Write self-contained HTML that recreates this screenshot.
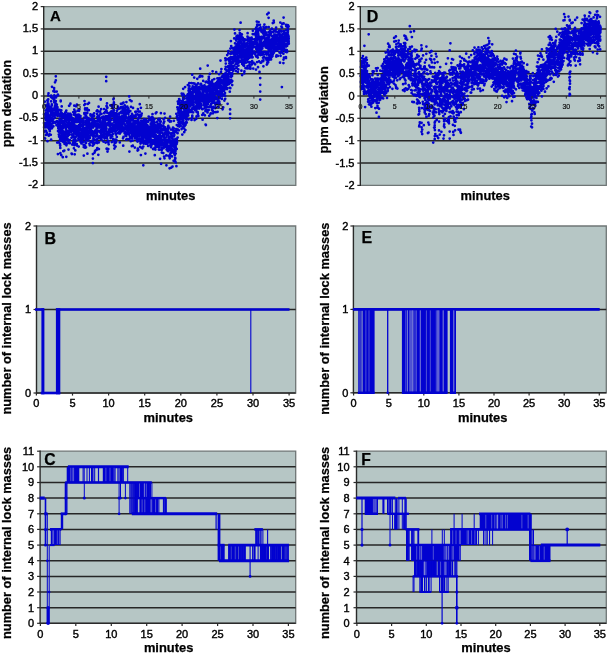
<!DOCTYPE html><html><head><meta charset="utf-8"><style>html,body{margin:0;padding:0;background:#fff;width:607px;height:656px;overflow:hidden}svg{display:block;will-change:transform}text{font-family:"Liberation Sans",sans-serif;fill:#000;stroke:#000;stroke-width:0.25px}.tk{stroke-width:0.4px}</style></head><body>
<svg width="607" height="656" viewBox="0 0 607 656">
<rect x="43.7" y="6.6" width="252.1" height="178.8" fill="#b6c6c5"/>
<path d="M43.7 6.6H295.8V185.4H43.7" fill="none" stroke="#6f7676" stroke-width="1.3"/>
<line x1="43.7" x2="295.8" y1="28.9" y2="28.9" stroke="#262626" stroke-width="1.5"/>
<line x1="43.7" x2="295.8" y1="51.3" y2="51.3" stroke="#262626" stroke-width="1.5"/>
<line x1="43.7" x2="295.8" y1="73.7" y2="73.7" stroke="#262626" stroke-width="1.5"/>
<line x1="43.7" x2="295.8" y1="96.0" y2="96.0" stroke="#262626" stroke-width="1.5"/>
<line x1="43.7" x2="295.8" y1="118.3" y2="118.3" stroke="#262626" stroke-width="1.5"/>
<line x1="43.7" x2="295.8" y1="140.7" y2="140.7" stroke="#262626" stroke-width="1.5"/>
<line x1="43.7" x2="295.8" y1="163.1" y2="163.1" stroke="#262626" stroke-width="1.5"/>
<path d="M44.0 123.1h0M44.0 114.3h0M44.1 127.2h0M44.2 131.1h0M44.2 118.2h0M44.4 124.5h0M44.4 131.6h0M44.5 138.0h0M44.7 101.7h0M44.8 125.1h0M45.0 124.1h0M45.1 138.6h0M45.2 130.9h0M45.2 123.4h0M45.4 118.5h0M45.4 114.5h0M45.5 127.3h0M45.6 116.2h0M45.6 110.3h0M45.8 124.1h0M45.9 119.9h0M45.9 134.9h0M45.9 126.1h0M46.0 130.8h0M46.0 112.9h0M46.1 120.4h0M46.1 105.3h0M46.2 117.5h0M46.4 113.2h0M46.5 115.3h0M46.7 117.4h0M46.7 126.8h0M46.7 106.6h0M46.7 119.5h0M46.8 132.7h0M46.8 123.1h0M46.8 127.1h0M46.9 109.2h0M47.1 109.3h0M47.1 105.3h0M47.3 100.3h0M47.3 124.1h0M47.3 134.4h0M47.4 126.6h0M47.4 115.2h0M47.5 141.2h0M47.5 123.8h0M47.6 111.3h0M47.6 125.9h0M47.6 119.6h0M47.6 126.4h0M47.7 103.0h0M47.7 101.1h0M47.8 127.5h0M47.8 125.9h0M47.9 116.8h0M48.0 111.3h0M48.0 113.7h0M48.0 111.5h0M48.0 108.4h0M48.1 106.2h0M48.2 99.4h0M48.2 115.5h0M48.3 121.8h0M48.3 117.9h0M48.3 95.4h0M48.4 108.8h0M48.4 110.0h0M48.4 103.7h0M48.5 104.7h0M48.5 93.3h0M48.5 125.6h0M48.6 115.3h0M48.6 109.6h0M48.7 109.0h0M48.7 121.8h0M48.8 135.7h0M48.9 121.0h0M48.9 125.5h0M49.0 119.2h0M49.0 107.2h0M49.1 111.2h0M49.1 129.3h0M49.1 125.5h0M49.1 116.3h0M49.2 107.5h0M49.5 119.6h0M49.6 116.8h0M49.7 134.3h0M49.7 124.0h0M49.7 127.2h0M49.8 117.1h0M49.8 122.1h0M49.8 128.6h0M49.8 131.2h0M49.9 116.9h0M49.9 126.1h0M49.9 106.9h0M49.9 117.4h0M50.1 120.8h0M50.2 108.6h0M50.3 129.0h0M50.3 107.2h0M50.5 124.4h0M50.6 107.5h0M50.6 123.9h0M50.6 126.8h0M50.8 134.8h0M50.8 114.6h0M50.9 109.7h0M50.9 128.6h0M51.0 97.0h0M51.0 114.9h0M51.0 125.7h0M51.0 96.0h0M51.1 118.7h0M51.1 101.3h0M51.1 139.7h0M51.2 95.5h0M51.2 113.4h0M51.2 115.2h0M51.2 112.5h0M51.3 125.2h0M51.3 106.7h0M51.3 110.9h0M51.5 110.7h0M51.5 118.7h0M51.5 124.0h0M51.7 109.2h0M51.8 104.3h0M51.8 111.1h0M51.9 114.6h0M51.9 117.9h0M51.9 105.0h0M52.0 97.3h0M52.0 113.9h0M52.0 121.1h0M52.0 86.8h0M52.0 128.2h0M52.2 109.0h0M52.4 112.2h0M52.4 98.3h0M52.4 112.4h0M52.4 127.0h0M52.5 121.8h0M52.5 109.5h0M52.6 110.7h0M52.7 116.3h0M52.8 114.1h0M52.8 123.3h0M52.9 122.0h0M53.1 113.2h0M53.1 114.1h0M53.1 108.8h0M53.2 119.7h0M53.4 91.2h0M53.4 126.3h0M53.7 98.6h0M54.1 99.6h0M54.1 88.0h0M54.1 90.2h0M54.2 122.1h0M54.2 102.3h0M54.3 97.4h0M54.3 95.3h0M54.3 100.6h0M54.3 114.4h0M54.6 91.8h0M54.7 110.6h0M54.7 115.6h0M54.8 106.9h0M54.9 115.1h0M54.9 117.7h0M55.0 108.8h0M55.0 82.3h0M55.0 107.0h0M55.0 109.6h0M55.0 115.2h0M55.1 106.9h0M55.1 122.8h0M55.1 105.7h0M55.2 107.7h0M55.3 109.4h0M55.4 105.2h0M55.5 112.2h0M55.5 103.1h0M55.5 104.5h0M55.6 104.2h0M55.7 110.3h0M55.8 101.1h0M55.9 112.7h0M56.0 97.1h0M56.0 112.0h0M56.0 97.4h0M56.1 108.3h0M56.2 111.4h0M56.2 121.7h0M56.2 104.6h0M56.3 107.8h0M56.4 111.2h0M56.4 107.5h0M56.5 110.6h0M56.5 122.1h0M56.5 125.2h0M56.5 105.5h0M56.6 110.5h0M56.6 96.1h0M56.7 91.5h0M56.8 104.5h0M56.8 106.8h0M56.9 107.8h0M57.0 113.1h0M57.0 121.2h0M57.2 142.5h0M57.2 107.6h0M57.2 109.6h0M57.3 115.6h0M57.3 114.9h0M57.4 107.2h0M57.4 107.9h0M57.5 115.9h0M57.7 121.5h0M57.7 112.6h0M57.9 110.9h0M57.9 94.5h0M58.0 131.0h0M58.1 115.5h0M58.1 131.1h0M58.1 126.4h0M58.1 95.2h0M58.2 126.5h0M58.2 123.5h0M58.3 128.6h0M58.3 113.0h0M58.4 127.5h0M58.5 142.3h0M58.6 121.5h0M58.6 113.6h0M58.6 123.6h0M58.8 121.8h0M58.8 131.8h0M58.8 134.6h0M58.9 124.0h0M59.1 136.7h0M59.1 128.9h0M59.1 135.1h0M59.1 126.5h0M59.1 114.8h0M59.2 124.0h0M59.5 109.8h0M59.5 119.4h0M59.9 128.3h0M60.0 140.1h0M60.0 125.7h0M60.0 143.9h0M60.1 116.6h0M60.1 145.5h0M60.2 145.6h0M60.2 138.3h0M60.3 147.9h0M60.3 125.8h0M60.3 136.7h0M60.4 132.5h0M60.4 119.9h0M60.4 153.2h0M60.4 130.1h0M60.5 123.0h0M60.5 115.2h0M60.5 125.8h0M60.5 135.4h0M60.6 116.2h0M60.6 116.3h0M60.7 100.5h0M60.7 101.3h0M60.8 130.4h0M60.8 111.5h0M60.9 125.8h0M61.0 140.7h0M61.1 120.8h0M61.2 113.8h0M61.2 155.1h0M61.2 113.5h0M61.3 137.6h0M61.3 110.4h0M61.4 125.5h0M61.4 126.4h0M61.5 113.0h0M61.6 131.4h0M61.7 106.4h0M61.7 137.6h0M61.8 133.9h0M61.8 138.8h0M61.8 122.6h0M61.9 128.7h0M62.0 120.5h0M62.3 117.6h0M62.3 120.6h0M62.3 117.7h0M62.3 117.6h0M62.3 129.5h0M62.4 136.3h0M62.5 139.1h0M62.5 120.9h0M62.5 134.6h0M62.5 139.4h0M62.6 138.3h0M62.6 131.3h0M62.7 126.1h0M62.7 131.9h0M62.7 141.5h0M62.8 122.1h0M62.8 157.2h0M62.8 133.0h0M62.8 115.8h0M62.8 125.6h0M62.9 114.0h0M63.0 127.5h0M63.2 121.5h0M63.2 128.1h0M63.2 133.7h0M63.2 123.8h0M63.3 116.2h0M63.3 151.0h0M63.4 136.9h0M63.5 151.2h0M63.5 137.7h0M63.7 142.2h0M63.8 133.3h0M63.9 131.5h0M63.9 117.4h0M63.9 114.5h0M63.9 137.5h0M64.2 135.0h0M64.3 122.0h0M64.3 136.7h0M64.3 133.9h0M64.3 150.6h0M64.3 120.6h0M64.4 125.7h0M64.5 139.9h0M64.6 143.9h0M64.7 140.8h0M64.9 124.0h0M65.0 134.3h0M65.0 142.7h0M65.0 132.5h0M65.1 118.8h0M65.1 113.8h0M65.2 112.6h0M65.2 126.9h0M65.3 125.2h0M65.4 124.9h0M65.4 120.7h0M65.5 121.6h0M65.5 139.3h0M65.6 136.5h0M65.6 132.6h0M65.7 120.4h0M65.7 133.7h0M65.8 136.4h0M65.8 116.7h0M65.9 111.8h0M65.9 137.5h0M65.9 129.0h0M66.0 114.8h0M66.1 131.8h0M66.1 117.3h0M66.1 143.0h0M66.2 129.8h0M66.2 120.1h0M66.3 110.5h0M66.4 117.0h0M66.4 145.3h0M66.5 144.4h0M66.6 137.3h0M66.7 119.4h0M66.7 120.4h0M66.7 116.6h0M66.8 120.5h0M66.8 133.6h0M67.0 131.2h0M67.0 136.3h0M67.1 118.7h0M67.2 140.4h0M67.2 126.7h0M67.2 124.9h0M67.3 114.7h0M67.4 135.7h0M67.4 123.1h0M67.4 138.5h0M67.4 116.1h0M67.5 131.5h0M67.5 131.0h0M67.5 138.7h0M67.8 135.4h0M67.9 135.9h0M67.9 135.5h0M67.9 113.5h0M68.0 140.2h0M68.0 125.0h0M68.1 117.8h0M68.2 140.4h0M68.5 149.6h0M68.5 121.1h0M68.6 142.9h0M68.7 133.5h0M68.7 127.0h0M68.8 123.4h0M68.9 128.5h0M68.9 132.7h0M68.9 116.1h0M69.0 123.4h0M69.1 105.8h0M69.1 134.8h0M69.2 126.2h0M69.3 125.7h0M69.3 119.8h0M69.3 122.8h0M69.4 124.9h0M69.4 105.6h0M69.4 126.6h0M69.4 120.6h0M69.5 123.1h0M69.6 131.0h0M69.6 117.7h0M69.8 143.2h0M69.8 113.9h0M69.8 140.1h0M70.1 127.7h0M70.3 123.6h0M70.3 129.0h0M70.3 129.1h0M70.4 113.8h0M70.4 103.7h0M70.5 115.7h0M70.6 123.2h0M70.8 129.1h0M70.8 130.0h0M70.9 116.9h0M70.9 119.0h0M71.0 115.8h0M71.1 117.7h0M71.2 115.0h0M71.2 130.2h0M71.2 131.8h0M71.3 134.4h0M71.4 125.9h0M71.4 127.7h0M71.5 124.8h0M71.5 137.8h0M71.5 124.2h0M71.5 117.6h0M71.6 125.2h0M71.6 153.6h0M71.7 126.6h0M71.8 130.3h0M71.8 117.6h0M71.9 128.6h0M71.9 120.8h0M72.0 130.9h0M72.0 124.1h0M72.0 118.0h0M72.1 130.0h0M72.1 124.6h0M72.1 126.0h0M72.2 121.9h0M72.2 128.8h0M72.2 123.4h0M72.2 144.6h0M72.5 129.9h0M72.5 121.1h0M72.5 122.4h0M72.5 135.9h0M72.5 134.6h0M72.5 124.7h0M72.6 125.1h0M72.7 124.3h0M72.7 127.7h0M72.7 127.4h0M72.7 119.3h0M72.8 136.9h0M73.0 142.9h0M73.0 118.4h0M73.1 136.7h0M73.1 121.6h0M73.2 135.9h0M73.2 140.5h0M73.3 112.2h0M73.3 129.5h0M73.3 143.9h0M73.3 131.2h0M73.5 131.1h0M73.6 131.6h0M73.6 127.8h0M73.6 141.3h0M73.8 132.1h0M73.8 124.8h0M73.8 123.1h0M73.8 128.3h0M73.9 137.0h0M73.9 148.3h0M74.0 114.7h0M74.0 139.5h0M74.0 133.1h0M74.1 128.6h0M74.1 124.6h0M74.2 129.0h0M74.2 136.4h0M74.2 129.2h0M74.3 109.5h0M74.3 105.7h0M74.3 130.9h0M74.4 122.7h0M74.4 145.2h0M74.5 126.6h0M74.5 121.8h0M74.5 131.5h0M74.6 110.9h0M74.6 120.0h0M74.6 122.5h0M74.7 154.3h0M74.8 133.6h0M74.9 121.1h0M75.0 131.5h0M75.1 141.9h0M75.1 131.9h0M75.1 114.2h0M75.1 121.3h0M75.1 119.9h0M75.2 126.1h0M75.2 114.1h0M75.3 150.4h0M75.3 138.0h0M75.3 111.9h0M75.3 119.4h0M75.4 126.5h0M75.4 131.5h0M75.4 144.1h0M75.5 132.3h0M75.5 129.8h0M75.7 136.9h0M75.7 116.1h0M75.7 119.2h0M75.7 131.2h0M75.7 120.3h0M75.8 128.8h0M75.8 125.9h0M75.9 132.4h0M76.1 106.3h0M76.1 140.3h0M76.2 128.2h0M76.3 117.8h0M76.3 117.9h0M76.4 140.5h0M76.4 134.4h0M76.5 126.8h0M76.6 133.8h0M76.6 132.7h0M76.6 128.8h0M76.7 128.9h0M76.8 116.9h0M76.8 144.2h0M76.8 117.5h0M76.9 130.1h0M76.9 122.1h0M76.9 131.3h0M76.9 104.7h0M77.0 145.5h0M77.1 116.1h0M77.2 132.3h0M77.2 130.5h0M77.3 114.9h0M77.4 130.8h0M77.5 121.0h0M77.6 115.9h0M77.7 134.8h0M77.7 110.7h0M77.7 117.7h0M77.7 131.3h0M78.1 126.6h0M78.1 135.8h0M78.1 125.8h0M78.1 120.0h0M78.2 118.3h0M78.2 126.2h0M78.2 133.8h0M78.3 135.1h0M78.3 138.3h0M78.3 131.2h0M78.4 121.6h0M78.5 133.9h0M78.6 135.1h0M78.6 139.4h0M78.6 121.0h0M78.7 130.6h0M78.7 146.5h0M78.7 114.7h0M78.8 115.1h0M78.9 127.7h0M79.0 132.3h0M79.0 128.3h0M79.0 139.3h0M79.1 115.5h0M79.1 110.8h0M79.1 115.2h0M79.2 124.9h0M79.2 125.0h0M79.3 121.7h0M79.4 109.4h0M79.5 136.5h0M79.6 128.3h0M79.6 134.8h0M79.6 139.9h0M79.7 125.3h0M79.7 117.6h0M79.8 139.6h0M79.8 119.9h0M80.1 123.9h0M80.1 125.9h0M80.1 117.4h0M80.2 136.7h0M80.5 116.0h0M80.5 132.9h0M80.6 125.1h0M80.6 141.9h0M80.8 122.0h0M80.8 129.8h0M80.9 135.0h0M80.9 139.1h0M81.0 129.1h0M81.0 119.5h0M81.1 126.1h0M81.1 133.5h0M81.2 137.0h0M81.2 139.3h0M81.3 133.0h0M81.4 143.4h0M81.4 133.3h0M81.4 121.3h0M81.4 130.7h0M81.5 131.5h0M81.8 134.7h0M81.9 125.1h0M81.9 125.6h0M82.0 119.9h0M82.0 135.2h0M82.1 138.3h0M82.1 134.6h0M82.2 139.3h0M82.2 130.3h0M82.3 133.3h0M82.3 136.7h0M82.4 130.1h0M82.6 121.0h0M82.7 123.5h0M82.7 135.6h0M82.8 129.5h0M82.9 126.9h0M82.9 123.7h0M82.9 133.0h0M83.0 141.8h0M83.0 126.5h0M83.0 138.9h0M83.0 133.2h0M83.0 132.2h0M83.0 120.9h0M83.0 134.2h0M83.1 128.1h0M83.1 131.5h0M83.2 134.7h0M83.2 120.4h0M83.4 132.8h0M83.5 123.1h0M83.7 124.8h0M83.7 147.0h0M83.7 144.9h0M83.8 155.5h0M83.8 124.5h0M83.8 124.8h0M83.8 133.1h0M83.8 133.1h0M83.8 130.9h0M83.8 134.2h0M83.9 128.1h0M84.0 128.2h0M84.1 137.0h0M84.3 113.2h0M84.3 117.5h0M84.3 132.2h0M84.3 105.0h0M84.5 101.0h0M84.5 114.2h0M84.6 114.0h0M84.6 134.2h0M84.6 131.0h0M84.8 147.1h0M84.9 132.2h0M84.9 114.5h0M85.0 132.3h0M85.1 147.7h0M85.1 108.4h0M85.1 104.1h0M85.1 109.6h0M85.1 145.7h0M85.2 118.2h0M85.3 137.5h0M85.4 130.0h0M85.4 121.3h0M85.5 112.9h0M85.5 135.7h0M85.5 132.9h0M85.5 142.2h0M85.6 129.6h0M85.6 139.8h0M85.6 134.9h0M85.7 121.9h0M85.7 130.2h0M85.7 128.8h0M85.9 127.4h0M85.9 121.8h0M85.9 115.5h0M86.0 142.9h0M86.0 147.3h0M86.1 124.8h0M86.1 123.0h0M86.2 116.3h0M86.2 122.2h0M86.2 113.1h0M86.3 124.8h0M86.5 135.4h0M86.6 118.8h0M86.8 137.4h0M86.8 135.2h0M86.8 123.9h0M86.9 130.2h0M86.9 117.8h0M86.9 131.3h0M87.0 108.4h0M87.1 137.8h0M87.2 120.2h0M87.3 131.9h0M87.3 113.1h0M87.3 133.0h0M87.3 119.6h0M87.4 153.7h0M87.5 134.4h0M87.5 110.5h0M87.5 125.0h0M87.5 126.1h0M87.6 117.9h0M87.8 103.9h0M87.9 137.1h0M87.9 127.9h0M87.9 131.2h0M88.0 121.1h0M88.0 133.4h0M88.0 140.6h0M88.1 139.8h0M88.1 121.4h0M88.2 125.1h0M88.2 119.6h0M88.3 139.6h0M88.4 133.7h0M88.4 130.9h0M88.5 119.3h0M88.5 122.8h0M88.6 128.2h0M88.6 135.6h0M88.7 125.1h0M88.7 131.1h0M88.8 118.6h0M88.8 110.2h0M88.9 125.7h0M88.9 137.8h0M89.0 102.9h0M89.1 120.5h0M89.1 121.7h0M89.2 126.2h0M89.2 125.6h0M89.3 126.6h0M89.4 125.1h0M89.4 143.8h0M89.4 135.6h0M89.5 129.2h0M89.5 126.9h0M89.5 126.5h0M89.7 124.9h0M89.8 145.3h0M89.9 137.9h0M90.1 135.7h0M90.2 128.7h0M90.4 131.5h0M90.4 114.3h0M90.4 133.0h0M90.4 131.9h0M90.5 141.9h0M90.5 115.6h0M90.6 129.0h0M90.9 129.4h0M90.9 133.5h0M90.9 127.9h0M90.9 131.2h0M91.0 119.1h0M91.1 135.0h0M91.1 132.0h0M91.2 132.8h0M91.2 123.7h0M91.4 125.8h0M91.5 120.2h0M91.5 124.0h0M91.8 123.1h0M91.8 127.6h0M91.8 120.0h0M91.8 123.7h0M92.0 124.6h0M92.1 140.9h0M92.2 131.0h0M92.3 132.9h0M92.3 142.6h0M92.3 116.2h0M92.3 115.0h0M92.3 118.1h0M92.4 122.5h0M92.5 114.8h0M92.5 142.2h0M92.5 116.8h0M92.6 145.7h0M92.6 126.5h0M92.6 126.9h0M92.7 123.7h0M92.7 122.5h0M92.8 122.1h0M93.0 135.0h0M93.0 134.8h0M93.0 136.2h0M93.0 127.5h0M93.1 131.7h0M93.2 142.7h0M93.3 120.1h0M93.4 138.6h0M93.5 132.6h0M93.5 134.9h0M93.7 135.5h0M93.7 123.6h0M93.8 135.5h0M93.8 142.7h0M93.9 136.0h0M93.9 139.4h0M94.0 144.3h0M94.0 122.2h0M94.0 119.9h0M94.1 143.4h0M94.1 116.0h0M94.1 113.3h0M94.2 143.0h0M94.3 125.9h0M94.4 132.4h0M94.5 122.5h0M94.6 152.6h0M94.7 124.6h0M94.7 133.0h0M94.9 125.2h0M95.0 121.4h0M95.1 150.8h0M95.2 130.9h0M95.2 130.5h0M95.4 126.3h0M95.4 122.4h0M95.5 125.3h0M95.5 136.5h0M95.5 125.8h0M95.6 135.8h0M95.8 125.6h0M95.8 132.0h0M95.9 132.1h0M95.9 129.9h0M96.0 142.6h0M96.0 133.2h0M96.1 140.1h0M96.1 123.7h0M96.1 121.0h0M96.2 142.6h0M96.5 149.9h0M96.5 129.2h0M96.6 136.2h0M96.6 139.4h0M96.7 111.2h0M96.8 135.0h0M96.8 140.5h0M96.9 133.5h0M97.0 127.9h0M97.1 114.1h0M97.1 127.0h0M97.2 143.0h0M97.2 135.1h0M97.3 110.4h0M97.3 148.2h0M97.3 130.3h0M97.3 117.2h0M97.4 126.7h0M97.5 131.8h0M97.6 138.8h0M97.6 127.6h0M97.7 123.7h0M97.7 126.8h0M97.7 118.6h0M97.8 126.8h0M97.9 115.9h0M97.9 126.8h0M98.0 119.4h0M98.0 130.8h0M98.0 111.4h0M98.1 115.8h0M98.1 120.9h0M98.2 136.4h0M98.3 125.2h0M98.3 154.8h0M98.3 130.8h0M98.3 125.3h0M98.5 136.8h0M98.6 124.9h0M98.6 119.3h0M98.6 106.7h0M98.7 126.2h0M98.8 142.4h0M98.9 149.1h0M99.1 127.5h0M99.2 117.6h0M99.2 115.6h0M99.3 125.1h0M99.4 131.6h0M99.8 131.2h0M99.8 127.1h0M99.9 125.4h0M99.9 121.8h0M99.9 125.2h0M100.0 111.5h0M100.0 124.8h0M100.0 122.3h0M100.1 118.1h0M100.1 118.7h0M100.2 130.8h0M100.2 138.4h0M100.2 136.0h0M100.2 122.8h0M100.3 121.0h0M100.3 122.6h0M100.3 118.8h0M100.4 114.0h0M100.6 132.9h0M100.7 99.5h0M100.7 99.0h0M100.7 118.0h0M100.7 127.3h0M100.8 123.4h0M100.9 139.2h0M100.9 126.3h0M101.0 134.0h0M101.1 127.8h0M101.1 129.8h0M101.1 109.2h0M101.2 134.7h0M101.3 124.8h0M101.4 130.6h0M101.5 113.8h0M101.5 118.0h0M101.5 139.6h0M101.7 134.8h0M101.7 124.4h0M101.8 131.8h0M101.8 123.2h0M101.9 126.2h0M102.0 135.4h0M102.1 129.4h0M102.1 123.5h0M102.1 127.8h0M102.1 126.2h0M102.4 124.6h0M102.4 128.4h0M102.4 117.1h0M102.5 137.0h0M102.6 124.0h0M102.6 131.2h0M102.7 124.5h0M102.7 121.3h0M102.8 122.6h0M102.9 122.2h0M102.9 121.4h0M103.0 123.1h0M103.1 129.1h0M103.2 121.3h0M103.3 119.5h0M103.3 120.3h0M103.3 124.8h0M103.3 124.8h0M103.4 141.6h0M103.5 132.9h0M103.5 128.1h0M103.6 118.3h0M103.6 116.7h0M103.7 125.0h0M103.7 135.6h0M103.8 121.8h0M103.8 117.6h0M103.8 119.5h0M103.8 131.8h0M103.9 134.7h0M103.9 133.2h0M104.0 134.4h0M104.0 118.0h0M104.1 123.4h0M104.1 109.1h0M104.2 113.2h0M104.2 118.2h0M104.2 131.5h0M104.3 121.2h0M104.4 123.4h0M104.5 138.6h0M104.5 137.5h0M104.6 133.3h0M104.6 117.6h0M104.7 130.7h0M104.8 138.3h0M104.9 127.2h0M104.9 122.7h0M104.9 137.1h0M105.0 112.2h0M105.0 133.5h0M105.0 118.4h0M105.1 121.4h0M105.2 133.3h0M105.2 127.9h0M105.2 126.7h0M105.3 129.9h0M105.4 119.3h0M105.4 125.9h0M105.6 142.6h0M105.6 125.0h0M105.7 136.4h0M105.7 127.9h0M105.7 123.6h0M105.8 126.6h0M106.0 116.1h0M106.0 125.7h0M106.1 129.5h0M106.1 110.0h0M106.2 118.1h0M106.3 125.8h0M106.3 124.4h0M106.4 128.4h0M106.4 123.6h0M106.5 134.3h0M106.5 106.1h0M106.6 111.1h0M106.6 148.8h0M106.7 135.1h0M106.7 124.8h0M106.8 131.7h0M106.8 148.5h0M106.8 116.3h0M106.8 138.0h0M106.8 116.4h0M106.9 118.9h0M107.0 106.7h0M107.0 134.6h0M107.0 103.4h0M107.0 138.4h0M107.0 107.3h0M107.1 112.7h0M107.2 119.7h0M107.2 136.0h0M107.4 107.8h0M107.4 116.3h0M107.4 142.1h0M107.5 151.6h0M107.5 131.9h0M107.5 134.0h0M107.7 118.8h0M107.8 124.9h0M107.9 123.4h0M107.9 131.9h0M108.2 118.0h0M108.2 132.2h0M108.3 140.8h0M108.3 149.0h0M108.3 122.5h0M108.4 132.6h0M108.5 141.9h0M108.6 135.2h0M108.6 131.4h0M108.7 123.6h0M108.7 144.3h0M108.7 131.5h0M108.8 123.0h0M108.8 124.9h0M108.8 122.2h0M108.8 113.7h0M108.9 134.1h0M108.9 132.2h0M109.0 119.9h0M109.0 115.8h0M109.0 124.9h0M109.1 129.3h0M109.1 135.2h0M109.3 121.6h0M109.4 123.4h0M109.4 133.5h0M109.5 129.5h0M109.6 132.4h0M109.7 121.6h0M109.7 126.6h0M109.7 117.2h0M109.7 116.4h0M109.8 123.4h0M109.8 117.5h0M109.9 118.5h0M109.9 115.2h0M110.0 129.2h0M110.0 121.4h0M110.1 112.5h0M110.2 120.0h0M110.3 129.0h0M110.3 123.3h0M110.3 105.3h0M110.4 128.7h0M110.4 130.7h0M110.5 116.7h0M110.5 128.0h0M110.6 138.0h0M110.7 137.5h0M110.7 124.3h0M110.7 129.4h0M110.8 112.4h0M110.9 129.2h0M111.0 135.7h0M111.2 130.9h0M111.2 135.1h0M111.3 114.4h0M111.4 131.7h0M111.4 111.3h0M111.4 119.8h0M111.6 106.1h0M111.7 124.7h0M111.7 116.3h0M111.8 142.1h0M111.8 127.6h0M111.8 130.0h0M111.8 113.0h0M111.9 124.3h0M112.0 116.2h0M112.2 130.3h0M112.2 136.4h0M112.2 123.7h0M112.5 108.2h0M112.5 124.2h0M112.5 104.8h0M112.5 127.3h0M112.6 127.5h0M112.6 127.5h0M112.6 126.1h0M112.7 130.9h0M112.7 125.5h0M112.8 131.6h0M112.8 134.1h0M113.0 104.7h0M113.0 111.9h0M113.0 125.2h0M113.0 128.5h0M113.1 139.1h0M113.2 114.6h0M113.2 128.5h0M113.4 99.3h0M113.5 140.1h0M113.6 117.0h0M113.7 107.4h0M113.7 127.0h0M113.7 98.5h0M113.7 110.1h0M113.7 110.3h0M113.8 131.1h0M113.9 110.4h0M113.9 110.7h0M113.9 120.4h0M113.9 102.4h0M114.0 118.2h0M114.1 145.3h0M114.2 118.5h0M114.2 104.5h0M114.3 128.1h0M114.3 114.7h0M114.3 128.4h0M114.3 122.3h0M114.4 148.5h0M114.4 139.9h0M114.5 125.6h0M114.5 128.2h0M114.5 140.5h0M114.5 116.2h0M114.5 119.5h0M114.5 131.2h0M114.5 142.3h0M114.5 117.8h0M114.5 127.8h0M114.6 116.5h0M114.6 113.0h0M114.6 126.8h0M114.7 125.8h0M114.7 116.5h0M114.7 126.3h0M114.7 143.0h0M114.7 118.1h0M114.8 121.0h0M114.8 129.9h0M114.8 119.2h0M114.9 128.6h0M115.1 129.4h0M115.1 116.9h0M115.2 140.0h0M115.2 142.7h0M115.3 127.8h0M115.4 139.5h0M115.4 117.7h0M115.5 133.4h0M115.5 142.8h0M115.5 130.1h0M115.6 146.5h0M115.6 113.9h0M115.7 126.4h0M115.7 119.9h0M115.7 121.3h0M115.8 124.0h0M115.9 134.5h0M116.0 118.3h0M116.1 127.5h0M116.1 131.1h0M116.1 142.0h0M116.1 113.2h0M116.2 125.9h0M116.3 127.1h0M116.4 140.0h0M116.5 114.9h0M116.5 124.0h0M116.5 114.0h0M116.6 123.2h0M116.7 130.4h0M116.8 117.1h0M116.8 137.0h0M116.8 136.9h0M116.8 123.0h0M116.9 115.0h0M117.0 110.8h0M117.0 122.8h0M117.1 123.0h0M117.1 119.7h0M117.3 124.0h0M117.4 127.0h0M117.4 116.9h0M117.4 127.1h0M117.5 123.6h0M117.7 109.2h0M117.7 118.4h0M117.7 125.4h0M117.8 113.8h0M117.8 121.6h0M117.8 113.8h0M117.8 128.2h0M117.9 127.1h0M118.0 133.0h0M118.0 109.1h0M118.0 106.5h0M118.1 108.2h0M118.7 118.3h0M118.8 119.7h0M118.8 122.9h0M118.8 117.0h0M118.9 122.7h0M118.9 128.9h0M119.0 113.8h0M119.0 114.5h0M119.2 117.5h0M119.3 122.5h0M119.3 125.2h0M119.4 121.2h0M119.4 120.3h0M119.4 131.7h0M119.5 125.8h0M119.5 130.9h0M119.6 113.1h0M119.6 133.4h0M119.6 132.3h0M119.7 129.8h0M119.7 121.3h0M119.7 130.3h0M119.8 108.5h0M119.8 116.9h0M119.8 142.4h0M119.8 121.2h0M119.9 120.5h0M119.9 133.5h0M120.0 124.4h0M120.1 123.2h0M120.1 128.9h0M120.1 124.8h0M120.2 121.6h0M120.2 128.1h0M120.4 123.5h0M120.5 132.5h0M120.7 117.1h0M120.8 128.9h0M120.9 111.8h0M120.9 103.8h0M121.1 107.0h0M121.1 126.5h0M121.2 118.2h0M121.4 124.1h0M121.6 118.3h0M121.6 129.0h0M121.7 130.7h0M121.7 122.8h0M121.8 129.8h0M121.8 111.8h0M121.8 116.3h0M121.9 120.0h0M121.9 124.9h0M122.0 125.1h0M122.0 113.3h0M122.1 121.8h0M122.1 121.8h0M122.2 103.5h0M122.3 119.1h0M122.3 122.7h0M122.5 123.2h0M122.5 108.5h0M122.5 126.3h0M122.5 126.4h0M122.6 110.3h0M122.6 109.5h0M122.6 106.9h0M122.7 131.2h0M122.8 116.8h0M122.9 127.6h0M122.9 116.8h0M123.0 138.3h0M123.1 122.8h0M123.2 109.1h0M123.2 118.3h0M123.2 145.7h0M123.3 109.9h0M123.4 116.2h0M123.4 122.8h0M123.4 120.0h0M123.4 123.3h0M123.4 108.0h0M123.5 120.4h0M123.5 136.9h0M123.5 129.0h0M123.5 102.7h0M123.7 107.8h0M123.9 111.6h0M123.9 129.2h0M124.0 114.6h0M124.1 109.2h0M124.2 119.7h0M124.3 112.8h0M124.4 108.6h0M124.4 109.8h0M124.5 116.3h0M124.6 116.4h0M124.6 133.3h0M124.6 123.9h0M124.7 113.3h0M124.7 105.3h0M124.8 119.5h0M124.8 111.7h0M124.8 121.0h0M124.9 129.4h0M124.9 117.4h0M125.0 117.4h0M125.0 128.3h0M125.1 128.0h0M125.2 121.1h0M125.2 125.4h0M125.2 117.7h0M125.3 131.8h0M125.4 116.0h0M125.4 126.5h0M125.4 119.6h0M125.4 133.2h0M125.5 115.3h0M125.5 120.5h0M125.5 106.7h0M125.6 133.9h0M125.6 135.2h0M125.7 116.3h0M125.7 114.8h0M125.8 135.0h0M125.9 117.3h0M126.0 113.8h0M126.0 109.7h0M126.1 120.6h0M126.2 136.1h0M126.2 139.7h0M126.4 102.0h0M126.5 117.5h0M126.6 112.6h0M126.8 126.2h0M126.9 125.5h0M127.0 125.3h0M127.0 132.4h0M127.1 126.1h0M127.1 134.1h0M127.2 127.3h0M127.2 112.6h0M127.2 123.1h0M127.2 129.7h0M127.3 106.7h0M127.3 110.7h0M127.3 122.6h0M127.4 139.2h0M127.4 110.8h0M127.4 110.6h0M127.5 128.0h0M127.5 109.5h0M127.5 130.1h0M127.5 124.9h0M127.8 127.0h0M127.8 120.7h0M127.8 123.8h0M127.9 108.0h0M127.9 126.0h0M128.0 118.1h0M128.1 122.1h0M128.1 120.2h0M128.2 130.4h0M128.2 122.9h0M128.4 108.6h0M128.4 114.1h0M128.5 134.1h0M128.6 126.3h0M128.6 132.6h0M128.6 129.5h0M128.8 128.4h0M128.8 134.4h0M128.9 116.6h0M128.9 112.0h0M128.9 119.7h0M129.0 126.4h0M129.1 119.8h0M129.1 129.7h0M129.2 110.6h0M129.2 96.4h0M129.4 151.6h0M129.4 118.1h0M129.4 121.8h0M129.5 120.4h0M129.5 125.5h0M129.5 138.8h0M129.6 123.6h0M129.7 127.3h0M129.7 124.6h0M129.8 123.7h0M129.8 128.4h0M129.9 100.1h0M129.9 136.3h0M130.0 127.9h0M130.2 136.9h0M130.2 126.3h0M130.3 111.0h0M130.3 125.7h0M130.3 133.1h0M130.3 137.7h0M130.5 120.9h0M130.6 132.4h0M130.6 120.5h0M130.7 132.5h0M130.7 131.1h0M130.8 127.0h0M130.8 141.2h0M130.8 116.2h0M130.8 137.1h0M130.9 125.8h0M130.9 123.6h0M131.0 106.8h0M131.1 123.8h0M131.2 120.2h0M131.2 132.8h0M131.2 129.2h0M131.3 127.7h0M131.3 116.9h0M131.4 137.7h0M131.4 123.5h0M131.5 101.2h0M131.8 138.3h0M131.8 146.2h0M131.8 134.1h0M131.9 130.5h0M132.0 113.8h0M132.1 124.3h0M132.2 118.3h0M132.3 135.3h0M132.3 129.1h0M132.3 126.1h0M132.4 136.5h0M132.5 126.2h0M132.6 131.2h0M132.7 126.8h0M132.7 140.5h0M132.8 145.7h0M132.8 117.5h0M132.9 128.2h0M133.0 129.0h0M133.0 107.9h0M133.0 120.1h0M133.1 124.4h0M133.1 132.9h0M133.2 124.8h0M133.3 125.9h0M133.3 130.0h0M133.4 115.5h0M133.4 121.1h0M133.5 122.6h0M133.6 135.3h0M133.6 133.9h0M133.7 117.0h0M133.8 125.0h0M133.8 132.3h0M133.9 124.1h0M134.0 126.9h0M134.0 131.0h0M134.1 128.8h0M134.3 121.0h0M134.3 124.7h0M134.4 135.1h0M134.5 134.2h0M134.5 125.3h0M134.6 136.8h0M134.7 126.5h0M134.7 128.7h0M134.8 138.4h0M134.8 147.5h0M134.9 134.2h0M135.0 127.2h0M135.1 127.1h0M135.1 116.1h0M135.2 127.0h0M135.2 127.7h0M135.3 123.7h0M135.3 130.9h0M135.3 111.8h0M135.3 132.2h0M135.4 134.7h0M135.4 131.5h0M135.4 116.4h0M135.4 132.1h0M135.5 133.8h0M135.5 122.0h0M135.7 116.8h0M135.7 130.7h0M135.8 120.9h0M135.8 132.8h0M135.9 114.6h0M135.9 136.5h0M136.1 129.5h0M136.1 130.8h0M136.3 135.2h0M136.3 128.0h0M136.3 121.6h0M136.4 135.6h0M136.5 111.5h0M136.5 126.5h0M136.7 126.4h0M136.8 136.3h0M136.8 129.9h0M136.8 121.3h0M136.8 138.4h0M136.9 135.4h0M137.0 136.4h0M137.0 140.6h0M137.2 123.6h0M137.3 136.6h0M137.4 114.4h0M137.5 141.5h0M137.6 133.3h0M137.6 129.6h0M137.6 139.5h0M137.6 150.5h0M137.6 136.4h0M137.7 130.6h0M137.7 139.6h0M137.8 127.6h0M137.8 148.7h0M137.8 127.2h0M137.9 109.0h0M137.9 120.2h0M138.0 119.6h0M138.0 133.5h0M138.1 134.0h0M138.1 118.4h0M138.1 132.8h0M138.2 123.3h0M138.2 138.8h0M138.2 125.8h0M138.2 127.7h0M138.2 149.9h0M138.2 130.4h0M138.3 124.2h0M138.3 124.4h0M138.3 125.9h0M138.5 118.4h0M138.5 129.4h0M138.6 135.0h0M138.6 121.4h0M138.7 111.5h0M138.8 131.4h0M138.8 116.0h0M138.8 130.0h0M138.8 140.9h0M138.9 136.1h0M138.9 135.8h0M139.0 117.6h0M139.0 127.1h0M139.1 133.0h0M139.2 126.7h0M139.2 114.9h0M139.2 128.5h0M139.3 134.3h0M139.4 124.3h0M139.4 135.2h0M139.5 123.0h0M139.5 118.0h0M139.5 125.3h0M139.6 130.9h0M139.6 125.6h0M139.7 138.7h0M139.8 111.5h0M139.8 104.2h0M140.0 126.3h0M140.1 146.9h0M140.1 133.7h0M140.1 141.4h0M140.3 147.2h0M140.3 129.4h0M140.3 130.0h0M140.4 135.1h0M140.4 116.2h0M140.4 128.3h0M140.4 139.8h0M140.5 124.1h0M140.5 143.6h0M140.6 133.0h0M140.6 138.6h0M140.6 125.3h0M140.6 132.0h0M140.6 135.6h0M140.6 125.6h0M140.6 123.1h0M140.7 125.7h0M140.7 115.0h0M140.8 141.2h0M140.8 123.5h0M140.9 107.8h0M140.9 128.0h0M140.9 155.0h0M141.0 116.3h0M141.2 130.2h0M141.3 120.6h0M141.3 125.0h0M141.3 121.3h0M141.4 115.1h0M141.4 127.3h0M141.5 121.2h0M141.6 142.4h0M141.6 138.1h0M141.7 130.3h0M141.7 113.6h0M141.8 137.2h0M141.8 132.5h0M141.8 122.6h0M141.9 134.1h0M141.9 141.5h0M141.9 147.9h0M142.1 121.7h0M142.1 139.3h0M142.1 125.8h0M142.3 124.5h0M142.3 137.9h0M142.3 125.2h0M142.4 148.3h0M142.4 130.4h0M142.5 138.9h0M142.6 127.7h0M142.6 128.0h0M142.6 128.2h0M142.7 124.1h0M142.9 135.3h0M142.9 142.6h0M142.9 140.7h0M142.9 120.5h0M143.0 138.8h0M143.0 132.6h0M143.2 127.3h0M143.2 131.4h0M143.3 138.1h0M143.3 146.5h0M143.4 122.8h0M143.4 134.1h0M143.5 141.5h0M143.5 134.2h0M143.5 129.0h0M143.6 143.5h0M143.6 127.9h0M143.6 128.8h0M143.8 125.9h0M143.8 129.0h0M143.8 136.2h0M143.8 140.8h0M143.8 130.7h0M143.9 133.4h0M144.0 119.0h0M144.0 131.9h0M144.2 126.7h0M144.4 128.9h0M144.4 141.7h0M144.6 123.4h0M144.7 132.8h0M144.7 140.5h0M144.8 126.4h0M144.8 119.9h0M144.9 130.7h0M144.9 132.2h0M145.0 135.6h0M145.1 134.0h0M145.1 121.6h0M145.2 130.5h0M145.3 127.7h0M145.3 126.5h0M145.4 153.6h0M145.4 130.3h0M145.4 127.0h0M145.4 129.8h0M145.5 143.7h0M145.6 137.8h0M145.6 125.7h0M145.6 127.9h0M145.7 127.4h0M145.8 140.5h0M145.8 128.9h0M145.8 119.5h0M145.8 130.9h0M145.9 120.4h0M145.9 124.4h0M146.0 125.0h0M146.0 137.1h0M146.0 136.9h0M146.1 137.3h0M146.2 122.6h0M146.2 121.8h0M146.2 140.4h0M146.2 142.5h0M146.2 130.9h0M146.3 121.1h0M146.4 129.7h0M146.4 126.6h0M146.4 127.9h0M146.5 127.5h0M146.7 134.2h0M146.7 129.6h0M146.7 128.2h0M146.7 134.4h0M146.7 121.2h0M147.0 141.3h0M147.0 136.3h0M147.1 139.6h0M147.1 125.4h0M147.2 125.0h0M147.2 138.8h0M147.3 132.5h0M147.4 136.6h0M147.4 143.7h0M147.6 139.4h0M147.6 130.4h0M147.7 128.5h0M147.8 138.7h0M147.9 132.9h0M147.9 126.3h0M148.0 121.8h0M148.0 130.1h0M148.1 139.5h0M148.1 145.9h0M148.1 132.2h0M148.2 135.4h0M148.2 137.7h0M148.2 138.6h0M148.2 137.5h0M148.3 131.2h0M148.5 126.6h0M148.5 139.3h0M148.7 116.5h0M148.7 120.4h0M148.8 134.9h0M148.8 130.2h0M148.8 119.7h0M148.9 141.0h0M148.9 138.5h0M149.0 138.6h0M149.0 142.1h0M149.1 127.6h0M149.2 135.7h0M149.2 133.3h0M149.3 133.5h0M149.8 135.1h0M149.9 119.9h0M149.9 134.6h0M150.0 140.6h0M150.1 145.3h0M150.1 139.0h0M150.1 131.2h0M150.1 131.4h0M150.4 130.4h0M150.5 136.4h0M150.5 129.2h0M150.5 129.1h0M150.5 143.1h0M150.6 129.7h0M150.7 129.5h0M150.7 135.2h0M150.7 123.5h0M150.7 132.3h0M150.7 139.1h0M150.7 124.7h0M150.8 117.6h0M150.8 142.3h0M150.8 133.0h0M150.8 124.8h0M150.9 127.0h0M150.9 123.4h0M151.1 120.6h0M151.1 147.2h0M151.2 126.5h0M151.2 145.7h0M151.3 140.2h0M151.3 141.4h0M151.5 128.7h0M151.7 144.5h0M151.7 131.4h0M151.8 143.4h0M151.8 117.2h0M151.8 136.1h0M151.8 132.3h0M151.9 141.2h0M151.9 136.6h0M152.0 122.1h0M152.0 130.3h0M152.1 141.2h0M152.2 135.9h0M152.2 133.3h0M152.2 118.9h0M152.3 132.9h0M152.4 128.7h0M152.5 124.1h0M152.5 114.2h0M152.5 127.1h0M152.8 140.5h0M152.9 140.2h0M152.9 117.7h0M153.0 128.4h0M153.1 149.1h0M153.1 136.6h0M153.2 136.2h0M153.2 135.1h0M153.2 126.2h0M153.3 126.1h0M153.3 120.1h0M153.3 149.1h0M153.3 129.6h0M153.4 134.1h0M153.4 141.7h0M153.6 125.3h0M153.6 143.1h0M153.6 143.6h0M153.7 119.2h0M153.7 129.0h0M153.7 125.7h0M153.7 121.8h0M153.7 142.2h0M153.8 121.5h0M153.8 131.4h0M153.8 128.1h0M153.9 126.1h0M153.9 127.4h0M153.9 135.1h0M153.9 132.4h0M153.9 131.0h0M154.2 125.1h0M154.3 148.5h0M154.3 123.6h0M154.3 139.8h0M154.4 119.3h0M154.5 130.9h0M154.5 122.7h0M154.6 136.1h0M154.6 122.8h0M154.6 131.8h0M154.6 132.0h0M154.8 132.1h0M154.8 155.2h0M154.9 147.5h0M154.9 148.5h0M154.9 135.2h0M154.9 137.6h0M155.0 129.1h0M155.0 132.8h0M155.2 125.2h0M155.3 141.0h0M155.3 132.2h0M155.3 139.2h0M155.3 144.7h0M155.4 149.6h0M155.4 135.7h0M155.5 142.5h0M155.6 139.2h0M155.6 142.8h0M155.7 144.0h0M155.7 113.3h0M155.7 134.8h0M155.8 145.7h0M155.9 137.0h0M155.9 135.4h0M155.9 147.0h0M156.0 127.0h0M156.2 143.2h0M156.2 131.0h0M156.2 139.3h0M156.5 141.4h0M156.5 112.3h0M156.6 139.7h0M156.8 146.8h0M156.9 139.1h0M156.9 142.8h0M157.0 127.3h0M157.0 132.1h0M157.0 144.3h0M157.0 121.8h0M157.1 137.0h0M157.3 145.8h0M157.3 125.9h0M157.3 129.4h0M157.3 143.5h0M157.4 144.5h0M157.4 136.3h0M157.5 140.8h0M157.6 130.3h0M157.6 132.6h0M157.6 145.3h0M157.6 144.4h0M157.6 137.2h0M157.6 123.8h0M157.8 140.7h0M157.8 130.1h0M157.8 140.9h0M157.8 131.6h0M157.9 140.3h0M157.9 132.0h0M157.9 143.2h0M158.0 142.1h0M158.1 119.3h0M158.2 127.8h0M158.3 145.8h0M158.3 125.6h0M158.3 136.7h0M158.4 123.9h0M158.6 146.7h0M158.6 136.0h0M158.7 138.9h0M158.7 141.3h0M158.7 145.4h0M158.8 118.8h0M158.8 135.5h0M158.8 138.2h0M158.8 149.6h0M158.8 126.3h0M158.9 126.4h0M159.0 137.6h0M159.0 147.2h0M159.1 132.2h0M159.1 136.7h0M159.4 149.6h0M159.4 120.5h0M159.4 131.7h0M159.4 146.0h0M159.4 144.5h0M159.5 131.3h0M159.5 127.9h0M159.5 133.0h0M159.6 133.7h0M159.7 142.2h0M159.9 118.9h0M160.0 140.8h0M160.0 135.9h0M160.0 134.3h0M160.0 140.6h0M160.1 130.5h0M160.1 123.3h0M160.1 158.8h0M160.2 140.0h0M160.2 126.8h0M160.2 125.8h0M160.3 142.5h0M160.3 133.0h0M160.3 137.2h0M160.4 137.9h0M160.4 144.1h0M160.6 130.8h0M160.6 129.0h0M160.6 125.1h0M160.8 136.1h0M160.8 137.2h0M160.8 127.7h0M160.9 113.2h0M160.9 140.8h0M160.9 139.4h0M160.9 121.5h0M161.0 149.6h0M161.1 163.8h0M161.3 129.3h0M161.3 125.4h0M161.4 126.4h0M161.4 129.4h0M161.4 128.7h0M161.5 145.3h0M161.6 129.2h0M161.6 147.8h0M161.8 152.5h0M161.8 140.4h0M161.8 149.8h0M161.9 148.1h0M162.0 144.3h0M162.1 142.0h0M162.1 136.4h0M162.2 148.6h0M162.2 144.2h0M162.3 139.5h0M162.4 136.1h0M162.4 132.4h0M162.4 128.9h0M162.9 136.5h0M162.9 133.8h0M163.1 129.9h0M163.2 139.8h0M163.3 136.8h0M163.3 153.0h0M163.4 136.3h0M163.4 125.8h0M163.5 148.2h0M163.6 123.2h0M163.6 146.0h0M163.6 126.5h0M163.6 119.3h0M163.7 136.7h0M163.7 143.7h0M163.8 134.0h0M163.9 142.8h0M163.9 147.5h0M164.0 128.1h0M164.1 156.5h0M164.1 129.7h0M164.1 145.6h0M164.3 129.7h0M164.3 142.8h0M164.3 121.6h0M164.4 142.5h0M164.5 158.3h0M164.5 113.5h0M164.5 137.4h0M164.6 138.6h0M164.7 137.5h0M164.7 140.3h0M164.9 134.5h0M165.0 144.2h0M165.1 117.9h0M165.2 143.8h0M165.2 132.9h0M165.2 127.3h0M165.4 140.1h0M165.5 131.2h0M165.6 142.3h0M165.8 146.2h0M165.8 144.7h0M165.9 129.0h0M166.0 129.7h0M166.1 146.8h0M166.1 130.3h0M166.1 146.5h0M166.2 137.3h0M166.2 133.1h0M166.3 155.4h0M166.4 133.7h0M166.5 140.3h0M166.6 149.4h0M166.7 131.8h0M166.8 134.8h0M166.8 134.2h0M166.9 140.0h0M167.1 144.5h0M167.4 150.5h0M167.4 140.5h0M167.5 148.0h0M167.6 142.5h0M167.6 134.7h0M167.6 131.0h0M167.8 134.1h0M167.9 135.4h0M167.9 140.7h0M168.0 129.3h0M168.1 127.2h0M168.1 142.4h0M168.1 141.8h0M168.2 146.8h0M168.2 140.7h0M168.2 142.0h0M168.2 120.3h0M168.3 125.9h0M168.3 151.2h0M168.4 131.7h0M168.4 141.5h0M168.6 155.8h0M168.8 138.2h0M168.9 146.1h0M169.1 138.2h0M169.1 136.4h0M169.2 147.0h0M169.2 127.6h0M169.2 140.0h0M169.2 148.5h0M169.3 156.7h0M169.3 120.3h0M169.3 149.5h0M169.4 141.0h0M169.4 138.9h0M169.4 132.8h0M169.4 155.7h0M169.6 168.3h0M169.7 141.3h0M169.7 158.3h0M169.7 145.5h0M169.9 121.7h0M170.0 149.2h0M170.0 136.5h0M170.1 154.7h0M170.1 116.7h0M170.1 147.4h0M170.2 140.3h0M170.2 145.6h0M170.3 150.1h0M170.4 133.8h0M170.4 146.6h0M170.5 153.5h0M170.5 149.7h0M170.5 147.5h0M170.5 143.5h0M170.6 143.1h0M170.7 153.0h0M170.9 150.0h0M171.0 121.4h0M171.0 147.6h0M171.0 129.5h0M171.0 149.8h0M171.1 141.1h0M171.2 152.7h0M171.3 167.5h0M171.4 151.9h0M171.5 137.2h0M171.5 133.4h0M171.6 135.7h0M171.7 151.3h0M171.8 149.0h0M171.9 156.4h0M171.9 143.4h0M172.1 138.3h0M172.2 143.4h0M172.3 152.0h0M172.3 141.6h0M172.4 144.2h0M172.4 140.8h0M172.5 146.4h0M172.5 143.0h0M172.5 151.0h0M172.5 151.9h0M172.5 166.5h0M172.6 142.8h0M172.8 142.5h0M172.9 152.1h0M172.9 129.9h0M172.9 132.7h0M173.0 127.7h0M173.1 143.8h0M173.1 145.0h0M173.2 139.3h0M173.3 133.5h0M173.3 128.0h0M173.4 150.4h0M173.6 143.4h0M173.6 160.8h0M173.7 144.6h0M173.8 133.7h0M173.8 135.9h0M173.9 120.8h0M173.9 136.3h0M174.0 146.4h0M174.0 149.3h0M174.1 140.5h0M174.1 128.6h0M174.2 153.7h0M174.2 151.1h0M174.2 142.1h0M174.2 145.8h0M174.3 135.1h0M174.3 146.9h0M174.3 142.5h0M174.5 143.1h0M174.7 141.4h0M174.7 131.4h0M174.8 155.0h0M175.0 159.9h0M175.1 157.8h0M175.2 147.3h0M175.2 143.6h0M175.2 139.8h0M175.2 141.8h0M175.2 143.6h0M175.2 161.8h0M175.3 151.4h0M175.3 140.9h0M175.4 158.3h0M175.5 150.9h0M175.6 150.0h0M175.6 139.1h0M175.7 153.5h0M175.7 162.4h0M175.7 147.2h0M175.8 145.5h0M175.9 132.0h0M175.9 148.6h0M176.0 143.3h0M176.2 144.4h0M176.3 143.5h0M176.3 113.8h0M176.4 166.2h0M176.4 129.2h0M176.6 143.9h0M176.7 132.4h0M176.7 148.9h0M176.8 129.7h0M176.8 138.9h0M176.8 125.1h0M176.8 117.0h0M176.9 140.9h0M177.0 142.6h0M177.2 115.3h0M177.3 107.3h0M177.6 119.7h0M177.6 137.6h0M177.6 133.2h0M177.8 109.5h0M177.8 101.5h0M177.9 118.8h0M178.0 129.5h0M178.2 103.9h0M178.2 126.2h0M178.3 119.8h0M178.4 119.2h0M178.4 119.3h0M178.4 108.6h0M178.4 122.3h0M178.4 112.2h0M178.5 103.6h0M178.6 103.6h0M178.6 101.1h0M178.7 117.8h0M178.8 130.3h0M178.9 112.9h0M178.9 112.6h0M178.9 112.2h0M179.0 118.4h0M179.0 110.8h0M179.1 123.7h0M179.1 107.5h0M179.1 99.0h0M179.2 112.8h0M179.2 113.4h0M179.2 108.3h0M179.2 109.0h0M179.3 108.3h0M179.3 111.4h0M179.3 115.4h0M179.4 99.4h0M179.4 123.3h0M179.5 103.2h0M179.5 120.3h0M179.5 108.7h0M179.5 121.2h0M179.5 126.5h0M179.6 122.1h0M179.7 121.7h0M179.7 100.5h0M179.9 118.3h0M179.9 119.3h0M179.9 122.0h0M179.9 112.7h0M179.9 112.6h0M180.0 106.5h0M180.0 119.2h0M180.1 124.6h0M180.2 113.8h0M180.3 105.0h0M180.3 106.6h0M180.3 123.6h0M180.3 118.8h0M180.6 110.8h0M180.7 118.9h0M180.7 125.8h0M180.8 111.5h0M180.8 116.1h0M180.9 110.1h0M180.9 104.9h0M181.0 116.7h0M181.1 122.4h0M181.1 119.0h0M181.1 104.5h0M181.1 110.9h0M181.2 104.5h0M181.4 116.1h0M181.5 105.5h0M181.5 117.8h0M181.5 119.3h0M181.5 112.9h0M181.5 113.8h0M181.5 115.0h0M181.5 112.0h0M181.6 102.9h0M181.6 118.6h0M181.6 129.0h0M181.7 107.8h0M181.7 93.7h0M181.7 101.6h0M181.7 122.8h0M182.0 107.0h0M182.0 101.2h0M182.2 103.3h0M182.3 95.2h0M182.3 103.8h0M182.3 134.5h0M182.4 106.4h0M182.5 118.7h0M182.5 120.3h0M182.6 127.7h0M182.8 123.8h0M182.9 115.2h0M183.0 100.3h0M183.0 99.6h0M183.0 104.6h0M183.1 97.9h0M183.1 116.2h0M183.1 121.3h0M183.2 88.8h0M183.2 106.2h0M183.3 116.1h0M183.3 103.1h0M183.3 120.7h0M183.3 93.9h0M183.4 126.4h0M183.4 118.1h0M183.4 114.4h0M183.5 114.6h0M183.5 124.9h0M183.6 104.6h0M183.6 106.8h0M183.6 112.2h0M183.7 107.1h0M183.7 117.1h0M183.7 103.3h0M183.7 118.1h0M183.7 122.9h0M183.8 114.2h0M183.8 114.4h0M183.9 108.9h0M184.0 105.7h0M184.0 95.1h0M184.2 128.5h0M184.2 132.2h0M184.2 110.4h0M184.3 98.5h0M184.3 102.3h0M184.4 114.9h0M184.4 116.3h0M184.5 116.8h0M184.7 96.3h0M184.8 115.8h0M184.8 110.5h0M184.8 125.8h0M184.8 104.5h0M184.8 114.9h0M184.8 116.2h0M184.9 116.4h0M185.1 113.5h0M185.1 87.0h0M185.1 106.3h0M185.2 105.6h0M185.2 118.1h0M185.3 123.4h0M185.4 130.1h0M185.5 117.0h0M185.5 110.5h0M185.6 110.1h0M185.6 124.8h0M185.6 106.4h0M185.6 117.0h0M185.6 102.3h0M185.8 114.9h0M185.9 112.2h0M185.9 119.1h0M185.9 118.8h0M186.0 112.4h0M186.0 107.6h0M186.0 106.3h0M186.3 117.9h0M186.3 121.9h0M186.4 108.7h0M186.4 101.6h0M186.4 115.7h0M186.5 115.0h0M186.5 115.2h0M186.5 108.7h0M186.6 103.3h0M186.6 119.2h0M186.6 107.3h0M186.7 98.5h0M186.8 105.2h0M186.8 116.8h0M186.8 122.6h0M186.9 109.5h0M186.9 98.2h0M186.9 102.6h0M187.2 95.4h0M187.2 110.7h0M187.3 106.8h0M187.4 114.0h0M187.4 101.9h0M187.5 108.2h0M187.5 113.2h0M187.6 109.5h0M187.7 101.0h0M187.7 98.2h0M187.7 99.0h0M187.8 85.0h0M187.8 98.7h0M187.9 114.0h0M187.9 94.1h0M188.2 113.1h0M188.2 115.6h0M188.2 95.7h0M188.3 109.4h0M188.3 103.1h0M188.4 108.1h0M188.4 104.5h0M188.5 119.3h0M188.6 93.7h0M188.6 90.7h0M188.6 104.3h0M188.7 90.4h0M188.8 93.7h0M188.8 90.8h0M188.8 88.3h0M188.8 111.6h0M189.0 93.7h0M189.0 100.9h0M189.0 94.0h0M189.1 101.5h0M189.3 83.2h0M189.4 86.2h0M189.4 98.9h0M189.4 95.3h0M189.5 96.9h0M189.5 96.7h0M189.6 90.9h0M189.7 106.4h0M189.8 110.1h0M189.9 88.8h0M189.9 95.3h0M189.9 101.9h0M189.9 103.7h0M189.9 110.2h0M189.9 100.4h0M190.0 111.8h0M190.0 96.8h0M190.0 95.7h0M190.1 103.1h0M190.2 90.1h0M190.3 92.0h0M190.4 96.2h0M190.4 103.1h0M190.5 102.4h0M190.5 104.4h0M190.5 111.8h0M190.5 97.6h0M190.8 92.8h0M190.8 110.8h0M191.0 96.3h0M191.0 101.3h0M191.1 98.5h0M191.2 93.6h0M191.2 92.1h0M191.2 105.4h0M191.3 93.6h0M191.4 102.8h0M191.5 119.9h0M191.5 83.1h0M191.5 99.0h0M191.5 101.9h0M191.5 88.6h0M191.6 95.6h0M191.6 103.6h0M191.6 97.5h0M191.6 96.6h0M191.6 100.7h0M191.7 118.6h0M191.8 97.3h0M191.9 108.3h0M192.0 109.7h0M192.0 98.1h0M192.2 74.7h0M192.2 112.2h0M192.3 95.2h0M192.3 115.5h0M192.3 116.7h0M192.5 102.2h0M192.6 88.9h0M192.6 95.4h0M192.7 95.5h0M192.7 86.4h0M192.7 93.6h0M192.7 104.1h0M192.9 108.2h0M192.9 102.1h0M193.0 95.7h0M193.0 102.6h0M193.0 101.9h0M193.1 105.3h0M193.1 108.0h0M193.2 112.3h0M193.3 108.6h0M193.3 83.4h0M193.3 90.4h0M193.3 87.4h0M193.6 99.6h0M193.6 102.0h0M193.6 92.3h0M193.6 104.5h0M193.8 87.8h0M193.8 98.7h0M193.9 91.1h0M194.2 109.1h0M194.2 77.6h0M194.3 97.2h0M194.3 91.5h0M194.3 109.1h0M194.3 108.4h0M194.4 90.8h0M194.6 120.0h0M194.6 83.7h0M194.6 106.7h0M194.8 87.0h0M194.8 107.3h0M194.8 99.6h0M195.0 98.0h0M195.0 87.4h0M195.0 110.0h0M195.1 92.0h0M195.2 95.5h0M195.4 89.7h0M195.6 108.8h0M195.6 98.9h0M195.6 107.6h0M195.8 102.7h0M195.8 86.5h0M195.8 85.3h0M195.8 108.6h0M196.0 100.5h0M196.0 99.6h0M196.1 108.6h0M196.2 103.0h0M196.2 109.8h0M196.2 93.7h0M196.3 108.6h0M196.3 85.0h0M196.3 118.8h0M196.4 93.3h0M196.4 93.0h0M196.4 105.7h0M196.5 116.4h0M196.5 97.2h0M196.6 111.9h0M196.6 87.3h0M196.6 97.7h0M196.6 99.0h0M196.7 97.3h0M196.8 89.3h0M196.8 98.6h0M196.9 91.5h0M197.0 93.2h0M197.1 103.2h0M197.3 84.4h0M197.3 78.8h0M197.3 84.5h0M197.3 95.6h0M197.3 89.4h0M197.4 108.4h0M197.5 105.6h0M197.5 106.1h0M197.5 103.1h0M197.5 89.0h0M197.5 105.4h0M197.7 103.5h0M197.7 112.2h0M197.8 104.0h0M197.9 113.9h0M198.0 87.7h0M198.0 98.5h0M198.1 87.6h0M198.1 83.3h0M198.1 92.3h0M198.3 94.0h0M198.4 96.1h0M198.4 101.0h0M198.4 116.0h0M198.5 95.8h0M198.6 102.7h0M198.6 104.9h0M198.6 101.8h0M198.8 97.6h0M198.9 91.8h0M198.9 105.8h0M199.0 108.1h0M199.2 88.9h0M199.2 93.2h0M199.3 91.3h0M199.3 99.8h0M199.3 108.6h0M199.3 87.1h0M199.3 87.7h0M199.4 102.5h0M199.4 94.2h0M199.4 88.6h0M199.5 76.9h0M199.5 87.3h0M199.6 92.8h0M199.6 99.4h0M199.6 101.5h0M199.6 98.0h0M199.6 103.3h0M199.7 91.9h0M199.7 96.0h0M199.7 99.2h0M199.7 106.2h0M199.8 95.6h0M199.8 99.8h0M199.8 92.8h0M199.9 105.4h0M200.0 89.2h0M200.0 97.0h0M200.0 76.5h0M200.1 103.3h0M200.1 75.9h0M200.2 68.7h0M200.5 96.0h0M200.5 75.9h0M200.5 84.6h0M200.5 107.4h0M200.6 101.5h0M200.8 87.3h0M200.8 94.0h0M201.0 89.2h0M201.0 93.3h0M201.0 83.8h0M201.0 99.7h0M201.0 107.3h0M201.1 103.8h0M201.1 97.7h0M201.1 106.0h0M201.2 97.3h0M201.3 99.0h0M201.3 99.9h0M201.5 96.5h0M201.8 99.6h0M201.9 85.5h0M202.0 94.2h0M202.1 87.5h0M202.1 109.0h0M202.2 95.4h0M202.3 100.5h0M202.3 114.9h0M202.3 76.4h0M202.3 109.2h0M202.4 88.4h0M202.4 89.2h0M202.6 86.5h0M202.6 100.9h0M202.6 119.7h0M202.6 91.4h0M202.8 97.8h0M202.9 91.9h0M202.9 98.3h0M203.0 87.7h0M203.0 93.4h0M203.2 99.8h0M203.2 80.9h0M203.3 101.7h0M203.3 113.4h0M203.3 96.6h0M203.3 93.8h0M203.4 93.1h0M203.5 102.1h0M203.6 97.7h0M203.6 105.0h0M203.8 101.8h0M203.8 91.2h0M203.9 102.9h0M203.9 90.7h0M204.0 100.0h0M204.1 96.7h0M204.2 100.3h0M204.2 87.0h0M204.2 96.4h0M204.2 104.7h0M204.3 96.5h0M204.3 86.8h0M204.3 95.4h0M204.4 108.4h0M204.4 105.7h0M204.5 108.4h0M204.5 85.3h0M204.5 97.0h0M204.5 90.2h0M204.6 90.8h0M204.6 102.0h0M204.7 88.3h0M204.7 99.7h0M204.7 95.6h0M204.9 115.3h0M205.0 99.0h0M205.1 102.0h0M205.2 105.6h0M205.2 96.3h0M205.4 111.0h0M205.5 101.3h0M205.6 124.5h0M205.7 101.4h0M205.7 106.0h0M205.7 82.3h0M205.8 98.1h0M205.9 94.6h0M205.9 125.1h0M205.9 104.2h0M206.0 110.9h0M206.0 88.7h0M206.0 91.8h0M206.0 99.3h0M206.0 98.8h0M206.0 99.4h0M206.1 100.4h0M206.2 94.3h0M206.2 94.7h0M206.3 100.6h0M206.3 105.2h0M206.4 86.8h0M206.4 103.0h0M206.4 105.3h0M206.4 81.6h0M206.5 98.9h0M206.5 101.0h0M206.7 110.0h0M206.7 107.6h0M206.7 90.2h0M206.8 102.3h0M206.9 92.0h0M207.0 107.2h0M207.0 94.2h0M207.0 98.7h0M207.2 102.4h0M207.5 112.4h0M207.5 87.6h0M207.6 96.4h0M207.7 97.4h0M208.0 87.9h0M208.0 104.3h0M208.1 82.7h0M208.1 88.0h0M208.2 90.2h0M208.2 89.8h0M208.2 101.3h0M208.3 96.8h0M208.3 91.1h0M208.4 100.1h0M208.4 82.4h0M208.6 86.2h0M208.6 79.6h0M208.7 110.1h0M208.8 76.8h0M208.8 99.0h0M208.8 102.0h0M208.8 96.8h0M208.9 78.3h0M208.9 88.6h0M208.9 89.2h0M208.9 82.4h0M208.9 82.0h0M209.0 81.2h0M209.0 83.5h0M209.1 90.1h0M209.1 87.9h0M209.2 107.2h0M209.2 94.7h0M209.2 115.8h0M209.3 94.1h0M209.4 91.9h0M209.4 100.7h0M209.6 98.4h0M209.7 82.3h0M209.8 96.8h0M209.8 93.0h0M209.8 73.9h0M209.8 89.9h0M209.9 83.9h0M210.0 88.4h0M210.1 87.2h0M210.1 82.1h0M210.2 94.0h0M210.2 85.7h0M210.3 96.5h0M210.3 95.9h0M210.3 87.3h0M210.3 97.7h0M210.4 114.2h0M210.4 94.7h0M210.4 82.4h0M210.5 101.0h0M210.5 88.2h0M210.5 96.0h0M210.6 105.5h0M210.6 95.6h0M210.8 113.3h0M210.8 82.0h0M210.8 96.4h0M210.8 89.4h0M210.9 92.9h0M210.9 106.4h0M210.9 96.4h0M211.0 81.8h0M211.0 85.2h0M211.1 95.9h0M211.1 99.0h0M211.2 93.0h0M211.2 103.9h0M211.3 90.0h0M211.3 107.2h0M211.3 99.2h0M211.3 84.7h0M211.4 92.5h0M211.4 98.6h0M211.7 91.6h0M211.8 95.6h0M211.8 90.6h0M211.8 82.4h0M211.9 94.1h0M211.9 109.9h0M212.0 89.0h0M212.0 101.1h0M212.1 81.9h0M212.1 83.6h0M212.2 93.5h0M212.2 88.8h0M212.2 107.8h0M212.3 110.6h0M212.4 96.9h0M212.4 90.1h0M212.4 80.0h0M212.4 100.2h0M212.4 102.7h0M212.5 102.2h0M212.5 101.1h0M212.5 91.9h0M212.5 108.1h0M212.6 86.1h0M212.6 107.1h0M212.6 71.3h0M212.7 95.3h0M212.7 93.4h0M212.8 110.8h0M212.9 92.2h0M212.9 113.3h0M213.0 87.6h0M213.0 101.5h0M213.0 93.2h0M213.0 90.9h0M213.0 87.1h0M213.2 83.8h0M213.2 85.8h0M213.2 89.4h0M213.2 101.9h0M213.2 106.8h0M213.3 89.8h0M213.4 93.8h0M213.5 101.9h0M213.6 97.7h0M213.7 88.1h0M213.7 88.4h0M213.8 102.1h0M213.9 107.8h0M214.1 112.1h0M214.1 99.8h0M214.2 98.5h0M214.2 107.3h0M214.3 86.5h0M214.3 79.1h0M214.3 102.7h0M214.4 89.1h0M214.4 96.5h0M214.5 89.7h0M214.6 92.8h0M214.6 95.0h0M214.7 84.8h0M214.8 87.0h0M214.8 97.8h0M214.8 89.0h0M214.8 99.4h0M215.0 93.5h0M215.1 87.2h0M215.2 88.5h0M215.3 108.1h0M215.3 87.3h0M215.4 104.7h0M215.5 90.7h0M215.5 85.7h0M215.6 107.3h0M215.6 103.0h0M215.6 84.4h0M215.7 89.0h0M215.8 112.2h0M215.8 83.1h0M215.9 97.7h0M216.0 102.5h0M216.0 90.0h0M216.0 97.6h0M216.2 91.9h0M216.2 90.1h0M216.2 72.2h0M216.2 84.6h0M216.3 90.2h0M216.6 91.8h0M216.7 89.7h0M216.7 88.5h0M216.8 98.3h0M216.8 88.3h0M216.8 99.0h0M216.8 97.9h0M217.1 94.0h0M217.1 84.2h0M217.2 85.9h0M217.3 118.1h0M217.3 81.6h0M217.3 92.1h0M217.4 91.7h0M217.4 78.4h0M217.6 99.1h0M217.6 102.3h0M217.6 111.8h0M217.6 103.7h0M217.6 83.5h0M217.7 100.0h0M217.9 102.3h0M217.9 86.9h0M218.1 101.3h0M218.1 98.6h0M218.1 99.0h0M218.2 87.0h0M218.2 97.8h0M218.2 95.6h0M218.3 92.2h0M218.4 107.3h0M218.4 92.4h0M218.4 106.8h0M218.5 100.7h0M218.6 93.4h0M218.6 88.2h0M218.7 91.4h0M218.7 80.2h0M218.8 88.0h0M218.9 84.5h0M218.9 92.4h0M219.0 93.6h0M219.1 74.2h0M219.3 101.6h0M219.4 78.0h0M219.4 93.7h0M219.4 82.1h0M219.4 98.0h0M219.5 83.7h0M219.5 85.2h0M219.6 103.7h0M219.6 92.6h0M219.7 82.5h0M219.7 79.5h0M219.8 85.0h0M219.8 91.9h0M220.0 87.4h0M220.0 97.9h0M220.1 95.6h0M220.2 84.1h0M220.2 86.0h0M220.2 78.9h0M220.3 84.0h0M220.3 79.6h0M220.5 86.5h0M220.5 79.2h0M220.5 60.6h0M220.5 95.2h0M220.5 83.9h0M220.6 89.7h0M220.7 80.2h0M220.8 80.5h0M220.8 92.8h0M220.9 83.5h0M220.9 82.9h0M220.9 86.0h0M220.9 81.9h0M221.0 71.9h0M221.2 79.9h0M221.2 87.7h0M221.2 83.3h0M221.4 69.1h0M221.6 90.1h0M221.8 76.7h0M221.9 91.0h0M221.9 98.9h0M221.9 91.5h0M221.9 82.8h0M222.0 87.9h0M222.0 92.2h0M222.1 93.1h0M222.3 95.1h0M222.3 96.1h0M222.6 90.9h0M222.6 109.3h0M222.7 80.5h0M222.7 81.9h0M222.8 83.3h0M222.8 75.3h0M222.9 89.5h0M223.2 83.2h0M223.2 107.4h0M223.3 81.4h0M223.3 86.9h0M223.3 77.6h0M223.4 75.5h0M223.5 84.9h0M223.7 94.8h0M223.7 79.8h0M223.8 74.9h0M223.9 74.3h0M224.0 87.4h0M224.2 90.5h0M224.3 84.2h0M224.3 90.8h0M224.4 100.6h0M224.5 77.8h0M224.6 77.0h0M224.6 75.0h0M224.7 88.9h0M225.0 81.7h0M225.0 93.1h0M225.1 95.7h0M225.2 76.9h0M225.2 98.8h0M225.3 84.2h0M225.3 58.3h0M225.3 69.2h0M225.4 74.0h0M225.5 74.2h0M225.5 81.9h0M225.5 85.6h0M225.6 60.4h0M225.6 81.2h0M225.6 84.8h0M225.6 72.9h0M225.7 79.5h0M225.7 66.8h0M225.7 84.8h0M225.7 86.4h0M225.8 82.1h0M225.8 63.5h0M225.9 69.5h0M225.9 75.6h0M226.0 77.2h0M226.0 74.9h0M226.1 86.8h0M226.1 73.5h0M226.2 82.6h0M226.3 76.1h0M226.3 78.0h0M226.4 75.5h0M226.5 82.3h0M226.5 70.0h0M226.6 75.2h0M226.6 85.1h0M226.7 74.4h0M226.7 81.3h0M226.7 74.9h0M226.7 70.8h0M226.8 82.8h0M226.8 78.6h0M226.8 77.7h0M226.9 78.0h0M226.9 59.2h0M227.0 75.0h0M227.0 89.1h0M227.0 77.2h0M227.1 83.1h0M227.2 55.1h0M227.3 83.3h0M227.3 88.0h0M227.3 70.4h0M227.4 82.4h0M227.4 81.1h0M227.5 79.7h0M227.5 84.7h0M227.5 81.8h0M227.6 103.8h0M227.9 77.4h0M228.0 67.3h0M228.2 53.3h0M228.2 74.8h0M228.3 66.1h0M228.3 83.6h0M228.4 59.5h0M228.4 51.1h0M228.4 71.3h0M228.6 77.0h0M228.9 72.2h0M229.0 58.4h0M229.0 84.0h0M229.1 60.8h0M229.2 81.3h0M229.2 79.6h0M229.3 69.6h0M229.3 66.2h0M229.3 63.3h0M229.4 59.1h0M229.5 81.6h0M229.6 70.3h0M229.6 63.6h0M229.6 68.2h0M229.6 59.9h0M229.7 70.0h0M229.8 72.9h0M229.8 91.7h0M229.9 87.9h0M229.9 61.6h0M229.9 80.6h0M230.0 66.0h0M230.1 62.1h0M230.1 69.4h0M230.1 58.2h0M230.2 74.4h0M230.2 61.7h0M230.2 68.9h0M230.3 82.8h0M230.3 88.2h0M230.4 68.6h0M230.4 48.6h0M230.6 53.9h0M230.6 60.9h0M230.6 57.8h0M230.7 57.0h0M230.7 67.6h0M230.7 53.4h0M230.8 62.9h0M230.9 69.7h0M230.9 41.0h0M230.9 59.0h0M230.9 66.2h0M231.1 57.5h0M231.1 76.6h0M231.1 76.8h0M231.2 46.0h0M231.2 58.7h0M231.3 74.9h0M231.3 79.9h0M231.4 65.2h0M231.4 73.7h0M231.5 52.1h0M231.6 82.0h0M231.6 52.0h0M231.8 73.8h0M231.9 76.3h0M231.9 62.6h0M232.0 75.9h0M232.2 67.7h0M232.2 67.1h0M232.2 85.1h0M232.2 73.1h0M232.3 58.4h0M232.3 81.1h0M232.4 74.1h0M232.4 69.9h0M232.5 53.1h0M232.5 53.1h0M232.6 48.1h0M232.6 68.9h0M232.6 53.4h0M232.7 57.5h0M232.7 70.2h0M232.8 53.2h0M232.9 57.1h0M232.9 62.8h0M233.0 66.3h0M233.0 70.8h0M233.1 52.3h0M233.1 52.5h0M233.2 58.8h0M233.3 59.2h0M233.3 60.5h0M233.4 48.9h0M233.6 52.4h0M233.7 68.4h0M233.7 53.6h0M233.8 50.6h0M233.9 59.3h0M233.9 58.4h0M234.0 59.3h0M234.2 47.9h0M234.2 57.5h0M234.2 54.1h0M234.2 52.8h0M234.2 38.4h0M234.3 68.5h0M234.4 29.5h0M234.4 65.5h0M234.5 55.4h0M234.5 61.0h0M234.7 52.1h0M234.7 48.4h0M235.0 33.4h0M235.0 43.3h0M235.1 59.4h0M235.1 51.8h0M235.3 52.9h0M235.3 59.9h0M235.4 48.9h0M235.4 51.7h0M235.5 57.8h0M235.5 59.8h0M235.7 47.8h0M235.7 54.6h0M235.7 43.6h0M235.8 46.3h0M235.8 63.6h0M235.8 70.9h0M235.9 52.6h0M236.1 58.3h0M236.2 61.3h0M236.2 58.7h0M236.2 40.5h0M236.5 54.3h0M236.5 36.4h0M236.6 45.8h0M236.6 67.2h0M236.6 48.6h0M236.6 39.6h0M236.6 67.8h0M236.7 63.4h0M236.7 53.3h0M236.7 57.1h0M236.7 37.4h0M236.8 59.7h0M236.8 37.3h0M236.9 64.0h0M237.0 59.2h0M237.0 49.1h0M237.2 47.4h0M237.2 50.4h0M237.4 38.5h0M237.4 36.8h0M237.4 35.5h0M237.5 52.1h0M237.5 44.2h0M237.5 53.6h0M237.7 39.0h0M237.8 72.1h0M237.8 57.2h0M237.8 53.3h0M237.8 55.8h0M237.9 37.0h0M238.0 63.0h0M238.0 57.7h0M238.1 60.7h0M238.1 50.7h0M238.2 58.3h0M238.2 42.4h0M238.3 43.0h0M238.3 69.3h0M238.3 69.5h0M238.3 43.8h0M238.4 47.9h0M238.5 65.6h0M238.6 51.8h0M238.6 62.3h0M238.6 44.3h0M238.8 62.4h0M238.9 56.1h0M238.9 46.4h0M239.0 49.8h0M239.0 41.5h0M239.0 46.5h0M239.0 61.7h0M239.1 47.7h0M239.2 57.4h0M239.2 38.4h0M239.2 37.2h0M239.4 39.5h0M239.5 30.1h0M239.6 41.1h0M239.6 35.4h0M239.6 39.9h0M239.7 40.5h0M239.7 40.6h0M239.7 45.5h0M239.8 33.0h0M239.8 56.8h0M239.8 60.7h0M239.9 54.0h0M239.9 34.9h0M240.0 49.9h0M240.1 54.7h0M240.2 55.2h0M240.3 43.0h0M240.4 47.7h0M240.4 36.1h0M240.4 50.1h0M240.4 38.8h0M240.4 55.1h0M240.5 42.1h0M240.6 22.7h0M240.7 49.0h0M240.7 48.4h0M240.8 38.1h0M240.9 57.5h0M241.0 52.7h0M241.0 53.6h0M241.0 45.6h0M241.1 61.8h0M241.1 34.0h0M241.2 46.9h0M241.2 46.4h0M241.3 50.1h0M241.4 49.1h0M241.4 70.7h0M241.4 36.8h0M241.5 57.4h0M241.5 41.3h0M241.5 50.8h0M241.9 52.7h0M241.9 45.9h0M241.9 34.4h0M241.9 51.9h0M242.0 57.0h0M242.0 46.7h0M242.1 75.0h0M242.1 59.6h0M242.1 60.7h0M242.1 54.7h0M242.2 63.9h0M242.2 43.9h0M242.2 54.1h0M242.4 50.2h0M242.5 51.2h0M242.5 54.1h0M242.5 57.1h0M242.5 39.9h0M242.6 43.7h0M242.8 37.9h0M242.9 52.6h0M242.9 48.8h0M243.0 48.2h0M243.0 53.9h0M243.1 51.5h0M243.2 65.2h0M243.3 62.0h0M243.3 59.7h0M243.3 61.7h0M243.5 48.3h0M243.5 48.9h0M243.7 49.6h0M243.8 55.3h0M243.8 44.4h0M243.9 45.0h0M244.0 47.7h0M244.0 55.2h0M244.1 39.1h0M244.1 62.1h0M244.1 65.8h0M244.2 63.4h0M244.2 41.8h0M244.2 51.4h0M244.3 57.6h0M244.3 73.3h0M244.3 54.5h0M244.4 61.4h0M244.4 71.4h0M244.4 42.7h0M244.4 52.2h0M244.4 39.9h0M244.6 52.2h0M244.6 46.6h0M244.7 58.1h0M244.8 45.4h0M244.8 55.0h0M245.0 46.9h0M245.0 50.3h0M245.1 61.1h0M245.1 52.2h0M245.2 51.2h0M245.2 57.9h0M245.2 53.4h0M245.3 45.8h0M245.3 43.5h0M245.3 52.2h0M245.5 68.2h0M245.6 47.5h0M245.6 39.8h0M245.6 54.4h0M245.7 58.9h0M245.7 50.5h0M245.9 51.5h0M246.0 46.7h0M246.0 58.7h0M246.0 39.9h0M246.0 46.6h0M246.1 62.5h0M246.1 46.3h0M246.2 56.0h0M246.3 49.3h0M246.4 51.9h0M246.5 54.0h0M246.6 51.9h0M246.6 57.5h0M246.8 59.9h0M246.8 55.8h0M247.0 55.9h0M247.0 49.9h0M247.0 51.4h0M247.1 68.4h0M247.2 43.8h0M247.3 52.7h0M247.3 42.9h0M247.3 44.8h0M247.4 49.2h0M247.4 46.1h0M247.5 66.2h0M247.5 36.7h0M247.6 33.2h0M247.6 45.7h0M247.6 56.6h0M247.8 46.3h0M247.9 55.2h0M247.9 38.9h0M247.9 56.1h0M248.0 61.9h0M248.0 59.1h0M248.0 58.4h0M248.1 46.1h0M248.1 52.4h0M248.1 49.7h0M248.2 54.8h0M248.2 40.7h0M248.2 51.7h0M248.3 49.6h0M248.4 37.5h0M248.6 48.4h0M248.8 55.2h0M248.9 52.0h0M248.9 38.4h0M249.0 45.7h0M249.1 56.7h0M249.2 37.9h0M249.2 62.4h0M249.3 68.4h0M249.4 57.2h0M249.4 65.2h0M249.4 50.3h0M249.4 48.3h0M249.5 50.9h0M249.5 53.6h0M249.5 57.7h0M249.5 40.9h0M249.5 65.2h0M249.6 43.0h0M249.6 46.8h0M249.7 49.5h0M249.7 45.5h0M249.9 62.0h0M250.1 41.7h0M250.1 45.7h0M250.2 41.0h0M250.3 67.0h0M250.4 48.5h0M250.5 51.5h0M250.5 68.7h0M250.5 52.9h0M250.6 49.4h0M250.6 55.7h0M250.7 46.0h0M250.7 44.2h0M250.9 52.8h0M250.9 52.0h0M251.0 43.8h0M251.0 57.2h0M251.1 46.3h0M251.1 40.1h0M251.2 50.3h0M251.3 47.0h0M251.3 49.8h0M251.4 43.3h0M251.4 62.5h0M251.4 64.5h0M251.4 57.3h0M251.5 55.3h0M251.5 41.4h0M251.6 37.6h0M251.6 44.7h0M251.6 38.7h0M251.7 53.7h0M251.8 55.0h0M251.8 64.4h0M252.0 39.3h0M252.0 44.9h0M252.1 49.9h0M252.1 61.2h0M252.4 57.1h0M252.5 44.2h0M252.5 48.3h0M252.5 39.1h0M252.5 46.6h0M252.6 53.8h0M252.6 57.3h0M252.7 47.7h0M252.7 34.1h0M252.9 30.7h0M252.9 52.6h0M253.0 42.7h0M253.0 52.6h0M253.0 44.7h0M253.2 68.6h0M253.4 52.4h0M253.4 62.6h0M253.7 34.1h0M254.2 51.7h0M254.3 41.8h0M254.5 46.8h0M254.5 63.6h0M254.7 39.5h0M254.7 33.9h0M254.8 43.9h0M254.9 40.0h0M255.0 33.6h0M255.0 39.2h0M255.0 47.0h0M255.1 64.3h0M255.3 54.6h0M255.5 52.8h0M255.6 35.3h0M255.6 28.8h0M255.6 43.6h0M255.9 33.8h0M256.0 69.6h0M256.0 41.5h0M256.1 56.4h0M256.1 34.9h0M256.1 31.9h0M256.1 33.2h0M256.1 36.5h0M256.3 33.7h0M256.3 27.7h0M256.3 49.0h0M256.4 30.1h0M256.4 47.1h0M256.5 56.5h0M256.6 39.0h0M256.6 37.7h0M256.7 41.5h0M256.8 49.8h0M256.8 38.7h0M256.8 45.9h0M256.8 21.6h0M256.9 40.0h0M257.0 39.4h0M257.0 48.0h0M257.1 37.0h0M257.1 26.2h0M257.1 49.8h0M257.1 46.2h0M257.1 62.1h0M257.2 43.0h0M257.2 24.5h0M257.3 55.8h0M257.4 46.6h0M257.5 51.2h0M257.5 45.4h0M257.6 52.3h0M257.7 46.9h0M257.8 57.5h0M257.9 39.3h0M258.0 29.1h0M258.0 31.9h0M258.0 67.2h0M258.1 25.0h0M258.2 33.6h0M258.4 29.2h0M258.4 54.3h0M258.5 50.8h0M258.5 35.3h0M258.6 22.1h0M258.7 54.3h0M258.7 39.6h0M258.8 37.4h0M258.9 46.9h0M259.0 38.9h0M259.0 48.9h0M259.1 28.6h0M259.1 61.4h0M259.1 39.7h0M259.3 49.2h0M259.4 44.6h0M259.4 53.4h0M259.5 71.9h0M259.5 29.2h0M259.5 37.1h0M259.6 40.2h0M259.6 44.9h0M259.6 41.4h0M259.6 47.8h0M259.8 43.9h0M259.8 30.1h0M259.8 52.2h0M259.9 54.7h0M259.9 24.8h0M260.0 50.3h0M260.1 42.4h0M260.2 46.1h0M260.2 38.1h0M260.4 38.4h0M260.5 44.1h0M260.5 55.1h0M260.5 54.9h0M260.5 44.7h0M260.6 27.4h0M260.6 62.7h0M260.7 45.8h0M260.7 40.4h0M260.7 49.8h0M260.7 42.4h0M260.8 45.4h0M260.8 37.2h0M260.9 29.3h0M261.0 46.5h0M261.0 41.4h0M261.1 40.3h0M261.2 42.8h0M261.2 44.1h0M261.2 62.5h0M261.2 43.4h0M261.2 53.4h0M261.2 48.0h0M261.2 40.7h0M261.3 39.6h0M261.4 48.0h0M261.4 48.0h0M261.4 46.4h0M261.5 52.4h0M261.5 31.8h0M261.6 30.4h0M261.7 45.3h0M261.7 31.5h0M261.8 37.9h0M261.8 52.0h0M261.9 36.8h0M261.9 38.7h0M262.1 42.8h0M262.1 54.7h0M262.3 48.5h0M262.4 60.8h0M262.5 44.2h0M262.6 46.1h0M262.6 52.1h0M262.8 53.8h0M262.9 33.0h0M263.0 57.7h0M263.1 37.5h0M263.1 43.4h0M263.2 32.0h0M263.2 61.2h0M263.3 43.1h0M263.3 30.4h0M263.3 46.0h0M263.4 60.3h0M263.4 66.3h0M263.4 52.1h0M263.4 32.6h0M263.5 26.9h0M263.5 43.3h0M263.6 34.1h0M263.7 32.9h0M263.9 36.1h0M264.0 54.5h0M264.0 34.1h0M264.0 57.2h0M264.1 41.9h0M264.2 32.9h0M264.2 29.3h0M264.3 44.3h0M264.3 28.9h0M264.4 24.5h0M264.5 31.4h0M264.5 43.0h0M264.7 39.1h0M264.8 42.2h0M264.8 41.8h0M264.8 34.8h0M264.8 31.1h0M264.8 42.1h0M264.9 34.6h0M264.9 39.6h0M264.9 40.6h0M264.9 51.8h0M265.0 38.3h0M265.0 43.1h0M265.1 39.2h0M265.1 32.3h0M265.3 35.0h0M265.3 35.4h0M265.7 47.2h0M265.7 58.5h0M265.8 45.8h0M265.9 41.7h0M265.9 39.5h0M266.0 27.5h0M266.0 38.3h0M266.2 27.0h0M266.2 45.6h0M266.2 52.5h0M266.2 33.1h0M266.2 53.1h0M266.3 57.8h0M266.3 47.8h0M266.4 40.1h0M266.4 32.7h0M266.5 43.5h0M266.5 35.1h0M266.6 44.0h0M266.6 59.7h0M266.6 54.6h0M266.7 60.2h0M266.7 45.9h0M266.8 64.5h0M266.8 58.1h0M266.9 52.2h0M266.9 34.9h0M266.9 38.2h0M267.0 47.1h0M267.1 40.9h0M267.1 45.3h0M267.2 14.3h0M267.2 59.9h0M267.3 63.8h0M267.3 62.8h0M267.3 57.9h0M267.4 47.2h0M267.5 34.5h0M267.5 46.5h0M267.6 47.1h0M267.7 46.0h0M267.9 42.6h0M267.9 54.1h0M267.9 38.2h0M267.9 45.2h0M268.0 42.4h0M268.1 39.5h0M268.1 39.4h0M268.1 37.5h0M268.1 52.5h0M268.1 40.5h0M268.2 58.0h0M268.2 62.2h0M268.2 47.8h0M268.3 41.6h0M268.4 41.0h0M268.4 42.2h0M268.4 38.2h0M268.5 59.4h0M268.5 49.6h0M268.5 47.1h0M268.6 51.9h0M268.6 42.7h0M268.6 40.7h0M268.6 43.1h0M268.7 44.9h0M268.7 27.2h0M268.7 45.5h0M268.9 46.4h0M268.9 36.7h0M268.9 31.8h0M268.9 54.3h0M269.0 55.2h0M269.1 35.3h0M269.1 37.2h0M269.1 39.5h0M269.2 49.0h0M269.2 40.9h0M269.3 59.7h0M269.3 57.1h0M269.5 32.7h0M269.5 57.5h0M269.7 47.6h0M269.7 40.9h0M269.9 43.3h0M270.1 54.9h0M270.1 50.7h0M270.1 40.7h0M270.1 49.1h0M270.2 31.9h0M270.2 46.4h0M270.2 30.5h0M270.3 45.2h0M270.7 33.6h0M270.9 41.5h0M270.9 45.3h0M271.0 59.4h0M271.1 39.6h0M271.1 44.1h0M271.1 41.5h0M271.2 49.8h0M271.2 52.8h0M271.3 52.2h0M271.3 44.5h0M271.5 35.5h0M271.5 46.2h0M271.5 52.6h0M271.6 50.4h0M271.6 53.0h0M271.7 57.1h0M271.7 46.9h0M271.9 49.0h0M271.9 46.6h0M271.9 28.7h0M272.0 36.1h0M272.0 32.1h0M272.2 42.8h0M272.3 40.8h0M272.5 48.6h0M272.5 56.1h0M272.6 54.7h0M272.7 44.8h0M272.7 38.0h0M272.8 23.0h0M272.8 42.2h0M272.8 54.4h0M272.9 44.9h0M272.9 37.8h0M272.9 51.7h0M273.0 46.3h0M273.1 38.9h0M273.1 42.1h0M273.2 39.6h0M273.2 42.7h0M273.2 43.5h0M273.3 32.1h0M273.3 36.0h0M273.3 41.5h0M273.4 39.3h0M273.4 44.2h0M273.5 44.3h0M273.5 40.5h0M273.6 42.1h0M273.7 20.7h0M273.7 41.4h0M273.7 39.8h0M273.8 22.4h0M273.8 52.7h0M273.8 42.4h0M273.9 30.5h0M273.9 41.3h0M274.0 43.8h0M274.1 50.9h0M274.2 43.2h0M274.3 48.9h0M274.4 35.2h0M274.4 38.9h0M274.4 45.4h0M274.4 34.5h0M274.5 50.8h0M274.5 49.6h0M274.5 37.6h0M274.6 40.9h0M274.6 51.3h0M274.7 48.1h0M274.8 43.8h0M274.8 46.9h0M274.8 39.9h0M274.9 42.3h0M275.1 36.9h0M275.1 41.1h0M275.1 37.7h0M275.2 43.8h0M275.2 37.4h0M275.3 37.4h0M275.3 34.7h0M275.5 38.1h0M275.5 44.1h0M275.5 41.5h0M275.7 31.6h0M275.7 43.9h0M275.7 41.4h0M275.8 29.8h0M275.9 37.9h0M276.0 37.8h0M276.0 49.2h0M276.0 49.4h0M276.1 41.0h0M276.1 27.5h0M276.2 56.5h0M276.5 55.3h0M276.5 40.5h0M276.5 42.5h0M276.5 50.6h0M276.6 38.7h0M276.6 43.2h0M276.8 46.7h0M276.9 44.1h0M277.0 46.5h0M277.0 41.1h0M277.1 47.5h0M277.1 50.2h0M277.1 47.6h0M277.1 40.7h0M277.1 35.8h0M277.3 47.4h0M277.3 50.2h0M277.3 41.1h0M277.4 35.2h0M277.6 45.4h0M277.6 32.4h0M277.6 48.0h0M277.8 32.6h0M277.8 37.7h0M277.9 55.9h0M277.9 38.7h0M278.0 44.8h0M278.1 44.2h0M278.3 48.4h0M278.4 41.5h0M278.5 46.8h0M278.5 40.1h0M278.5 32.7h0M278.9 30.8h0M278.9 32.6h0M279.0 34.3h0M279.0 37.3h0M279.1 41.9h0M279.2 48.7h0M279.3 34.2h0M279.4 45.5h0M279.5 41.0h0M279.5 52.4h0M279.6 38.8h0M279.7 31.4h0M279.8 42.5h0M279.9 35.3h0M279.9 43.5h0M279.9 41.1h0M280.0 46.1h0M280.0 62.7h0M280.0 40.2h0M280.1 39.4h0M280.1 38.9h0M280.1 30.6h0M280.2 36.6h0M280.2 40.0h0M280.2 48.2h0M280.3 22.6h0M280.3 53.1h0M280.4 45.9h0M280.4 46.7h0M280.4 35.2h0M280.5 40.5h0M280.5 39.0h0M280.6 55.8h0M280.7 46.7h0M280.8 34.6h0M280.9 46.4h0M280.9 51.9h0M281.0 40.5h0M281.0 46.6h0M281.0 41.9h0M281.0 39.0h0M281.1 49.2h0M281.1 41.8h0M281.1 30.9h0M281.1 43.4h0M281.1 43.0h0M281.1 45.7h0M281.2 38.5h0M281.2 37.0h0M281.2 47.9h0M281.3 39.1h0M281.4 26.5h0M281.5 52.1h0M281.5 31.1h0M281.7 31.5h0M281.7 51.2h0M281.8 52.3h0M281.8 43.5h0M282.0 27.5h0M282.0 44.3h0M282.0 38.9h0M282.1 38.3h0M282.2 40.0h0M282.3 23.9h0M282.3 37.2h0M282.3 48.0h0M282.5 36.9h0M282.5 34.6h0M282.6 45.7h0M282.8 38.3h0M282.8 44.0h0M282.8 49.1h0M282.8 46.7h0M282.9 34.2h0M283.3 41.6h0M283.4 53.7h0M283.4 34.2h0M283.4 42.7h0M283.4 63.0h0M283.5 49.1h0M283.5 59.6h0M283.5 45.3h0M283.6 17.6h0M283.6 23.4h0M283.7 38.0h0M283.7 47.2h0M283.7 49.9h0M283.8 46.6h0M283.9 39.0h0M283.9 31.1h0M283.9 40.6h0M283.9 31.3h0M284.0 42.2h0M284.0 57.5h0M284.1 39.0h0M284.1 33.4h0M284.2 37.0h0M284.2 32.7h0M284.2 49.4h0M284.6 43.9h0M284.6 41.4h0M284.7 38.4h0M284.8 36.6h0M284.9 33.3h0M285.2 44.7h0M285.4 51.5h0M285.4 46.0h0M285.4 43.8h0M285.5 46.0h0M285.5 49.9h0M285.5 34.1h0M285.6 33.3h0M285.6 33.1h0M285.6 35.0h0M285.7 36.9h0M285.8 45.1h0M285.8 44.7h0M285.8 38.8h0M285.9 57.0h0M285.9 38.9h0M286.0 58.1h0M286.0 24.8h0M286.0 35.3h0M286.0 46.5h0M286.2 40.7h0M286.2 45.1h0M286.3 26.3h0M286.3 30.1h0M286.4 39.0h0M286.4 44.3h0M286.4 34.4h0M286.5 37.3h0M286.6 39.8h0M286.7 43.7h0M286.7 52.2h0M286.8 50.2h0M286.9 44.8h0M287.2 51.7h0M287.2 45.8h0M287.6 25.0h0M287.6 37.5h0M287.7 32.6h0M287.8 42.0h0M287.9 27.8h0M287.9 36.7h0M287.9 31.8h0M288.0 30.1h0M288.0 34.7h0M288.0 25.3h0M288.1 43.3h0M288.1 39.5h0M288.5 36.2h0M288.6 40.2h0M288.6 36.9h0M288.6 26.4h0M288.7 41.8h0M288.7 38.5h0M288.8 43.7h0M55.8 76.3h0M55.8 80.4h0M106.2 76.8h0M106.2 81.2h0M207.7 65.6h0M268.6 12.9h0M268.6 17.8h0M281.9 87.1h0M260.2 99.6h0M260.2 91.5h0M260.2 84.8h0M260.2 78.1h0M92.9 154.1h0M92.9 158.6h0M92.9 163.1h0M66.3 156.8h0M71.9 154.1h0M166.4 165.3h0M143.3 165.3h0M57.9 154.1h0M230.1 118.3h0M230.1 113.9h0M230.1 109.4h0" stroke="#0202d0" stroke-width="2.75" stroke-linecap="round" fill="none"/>
<line x1="43.9" x2="43.9" y1="96.0" y2="98.6" stroke="#2a2a2a" stroke-width="1"/>
<text x="43.9" y="108.5" text-anchor="middle" font-size="7" style="fill:#111;stroke:#111;stroke-width:0.2px">0</text>
<line x1="78.9" x2="78.9" y1="96.0" y2="98.6" stroke="#2a2a2a" stroke-width="1"/>
<text x="78.9" y="108.5" text-anchor="middle" font-size="7" style="fill:#111;stroke:#111;stroke-width:0.2px">5</text>
<line x1="113.9" x2="113.9" y1="96.0" y2="98.6" stroke="#2a2a2a" stroke-width="1"/>
<text x="113.9" y="108.5" text-anchor="middle" font-size="7" style="fill:#111;stroke:#111;stroke-width:0.2px">10</text>
<line x1="148.9" x2="148.9" y1="96.0" y2="98.6" stroke="#2a2a2a" stroke-width="1"/>
<text x="148.9" y="108.5" text-anchor="middle" font-size="7" style="fill:#111;stroke:#111;stroke-width:0.2px">15</text>
<line x1="183.9" x2="183.9" y1="96.0" y2="98.6" stroke="#2a2a2a" stroke-width="1"/>
<text x="183.9" y="108.5" text-anchor="middle" font-size="7" style="fill:#111;stroke:#111;stroke-width:0.2px">20</text>
<line x1="218.9" x2="218.9" y1="96.0" y2="98.6" stroke="#2a2a2a" stroke-width="1"/>
<text x="218.9" y="108.5" text-anchor="middle" font-size="7" style="fill:#111;stroke:#111;stroke-width:0.2px">25</text>
<line x1="253.9" x2="253.9" y1="96.0" y2="98.6" stroke="#2a2a2a" stroke-width="1"/>
<text x="253.9" y="108.5" text-anchor="middle" font-size="7" style="fill:#111;stroke:#111;stroke-width:0.2px">30</text>
<line x1="288.9" x2="288.9" y1="96.0" y2="98.6" stroke="#2a2a2a" stroke-width="1"/>
<text x="288.9" y="108.5" text-anchor="middle" font-size="7" style="fill:#111;stroke:#111;stroke-width:0.2px">35</text>
<line x1="43.7" x2="43.7" y1="6.0" y2="186.0" stroke="#2a2a2a" stroke-width="1.4"/>
<line x1="40.7" x2="43.7" y1="6.6" y2="6.6" stroke="#2a2a2a" stroke-width="1.2"/>
<text x="38.0" y="9.6" text-anchor="end" font-size="11" class="tk">2</text>
<line x1="40.7" x2="43.7" y1="28.9" y2="28.9" stroke="#2a2a2a" stroke-width="1.2"/>
<text x="38.0" y="31.9" text-anchor="end" font-size="11" class="tk">1.5</text>
<line x1="40.7" x2="43.7" y1="51.3" y2="51.3" stroke="#2a2a2a" stroke-width="1.2"/>
<text x="38.0" y="54.3" text-anchor="end" font-size="11" class="tk">1</text>
<line x1="40.7" x2="43.7" y1="73.7" y2="73.7" stroke="#2a2a2a" stroke-width="1.2"/>
<text x="38.0" y="76.7" text-anchor="end" font-size="11" class="tk">0.5</text>
<line x1="40.7" x2="43.7" y1="96.0" y2="96.0" stroke="#2a2a2a" stroke-width="1.2"/>
<text x="38.0" y="99.0" text-anchor="end" font-size="11" class="tk">0</text>
<line x1="40.7" x2="43.7" y1="118.3" y2="118.3" stroke="#2a2a2a" stroke-width="1.2"/>
<text x="38.0" y="121.3" text-anchor="end" font-size="11" class="tk">-0.5</text>
<line x1="40.7" x2="43.7" y1="140.7" y2="140.7" stroke="#2a2a2a" stroke-width="1.2"/>
<text x="38.0" y="143.7" text-anchor="end" font-size="11" class="tk">-1</text>
<line x1="40.7" x2="43.7" y1="163.1" y2="163.1" stroke="#2a2a2a" stroke-width="1.2"/>
<text x="38.0" y="166.1" text-anchor="end" font-size="11" class="tk">-1.5</text>
<line x1="40.7" x2="43.7" y1="185.4" y2="185.4" stroke="#2a2a2a" stroke-width="1.2"/>
<text x="38.0" y="188.4" text-anchor="end" font-size="11" class="tk">-2</text>
<text x="49.9" y="21.3" font-size="15" font-weight="bold">A</text>
<text transform="translate(11.0,147.3) rotate(-90)" font-size="12.9" font-weight="bold">ppm deviation</text>
<text x="170.7" y="200.4" text-anchor="middle" font-size="12.9" font-weight="bold">minutes</text>
<rect x="360.3" y="6.6" width="246.0" height="178.8" fill="#b6c6c5"/>
<path d="M360.3 6.6H606.3V185.4H360.3" fill="none" stroke="#6f7676" stroke-width="1.3"/>
<line x1="360.3" x2="606.3" y1="28.9" y2="28.9" stroke="#262626" stroke-width="1.5"/>
<line x1="360.3" x2="606.3" y1="51.3" y2="51.3" stroke="#262626" stroke-width="1.5"/>
<line x1="360.3" x2="606.3" y1="73.7" y2="73.7" stroke="#262626" stroke-width="1.5"/>
<line x1="360.3" x2="606.3" y1="96.0" y2="96.0" stroke="#262626" stroke-width="1.5"/>
<line x1="360.3" x2="606.3" y1="118.3" y2="118.3" stroke="#262626" stroke-width="1.5"/>
<line x1="360.3" x2="606.3" y1="140.7" y2="140.7" stroke="#262626" stroke-width="1.5"/>
<line x1="360.3" x2="606.3" y1="163.1" y2="163.1" stroke="#262626" stroke-width="1.5"/>
<path d="M360.7 75.9h0M360.9 67.1h0M360.9 82.5h0M360.9 81.6h0M361.0 87.1h0M361.0 61.2h0M361.0 86.4h0M361.2 71.9h0M361.2 87.5h0M361.3 89.0h0M361.3 75.4h0M361.3 65.5h0M361.3 77.4h0M361.3 82.8h0M361.3 70.2h0M361.4 76.9h0M361.5 80.7h0M361.6 76.2h0M361.7 71.4h0M361.8 58.0h0M361.8 80.0h0M361.9 71.4h0M361.9 66.1h0M362.0 70.4h0M362.0 79.0h0M362.1 63.7h0M362.1 73.8h0M362.1 66.5h0M362.2 70.4h0M362.3 83.2h0M362.3 66.2h0M362.3 62.9h0M362.4 86.9h0M362.5 81.4h0M362.5 76.0h0M362.6 71.9h0M362.6 70.8h0M362.6 84.7h0M362.8 62.6h0M362.8 76.0h0M362.8 88.7h0M362.9 79.2h0M362.9 56.1h0M363.0 81.6h0M363.0 77.6h0M363.1 83.7h0M363.1 82.3h0M363.2 81.7h0M363.3 61.0h0M363.5 67.7h0M363.5 59.2h0M363.5 78.0h0M363.6 66.3h0M363.6 85.5h0M363.7 81.8h0M363.8 75.6h0M363.8 67.2h0M363.8 91.6h0M364.0 74.1h0M364.0 93.9h0M364.1 86.7h0M364.2 76.2h0M364.2 86.1h0M364.2 72.1h0M364.2 63.3h0M364.3 75.4h0M364.4 45.8h0M364.4 67.6h0M364.4 78.9h0M364.4 89.4h0M364.5 65.4h0M364.5 69.7h0M364.6 74.0h0M364.7 81.3h0M364.8 68.2h0M364.8 81.8h0M364.8 59.0h0M364.9 58.8h0M365.0 67.0h0M365.0 66.6h0M365.0 68.1h0M365.0 73.1h0M365.1 77.9h0M365.1 72.0h0M365.1 107.0h0M365.2 67.8h0M365.2 65.3h0M365.2 92.8h0M365.2 61.3h0M365.3 70.9h0M365.4 69.7h0M365.4 93.4h0M365.4 91.4h0M365.6 76.7h0M365.6 68.5h0M365.6 65.6h0M365.7 73.3h0M365.9 71.3h0M366.0 71.5h0M366.0 76.9h0M366.1 73.0h0M366.1 79.9h0M366.2 75.2h0M366.2 57.6h0M366.3 82.9h0M366.3 91.5h0M366.4 86.4h0M366.5 78.5h0M366.5 79.2h0M366.6 93.6h0M366.6 87.3h0M366.6 72.3h0M366.7 80.0h0M366.7 92.2h0M366.8 66.4h0M366.8 59.8h0M366.8 80.3h0M366.8 86.4h0M366.9 63.1h0M367.0 64.3h0M367.0 71.0h0M367.0 64.3h0M367.1 73.7h0M367.1 79.0h0M367.1 75.3h0M367.2 85.5h0M367.2 75.8h0M367.3 74.3h0M367.4 87.4h0M367.5 81.3h0M367.5 87.4h0M367.7 80.3h0M367.8 77.1h0M367.9 74.1h0M367.9 86.3h0M367.9 82.3h0M368.0 74.4h0M368.0 87.8h0M368.0 79.3h0M368.1 82.9h0M368.1 101.7h0M368.2 99.3h0M368.2 78.5h0M368.2 90.9h0M368.2 78.3h0M368.3 78.1h0M368.3 77.3h0M368.3 85.4h0M368.4 92.3h0M368.5 82.4h0M368.5 89.1h0M368.6 82.5h0M368.6 87.1h0M368.8 85.2h0M368.8 89.7h0M368.8 65.7h0M368.8 101.5h0M369.0 104.3h0M369.0 83.8h0M369.0 91.4h0M369.1 94.9h0M369.1 95.6h0M369.1 86.4h0M369.3 92.7h0M369.3 82.8h0M369.3 81.0h0M369.5 85.9h0M369.5 75.3h0M369.5 86.1h0M369.6 101.1h0M369.8 84.3h0M369.8 77.2h0M369.8 85.2h0M369.9 83.0h0M369.9 97.8h0M370.0 85.9h0M370.0 92.1h0M370.1 104.7h0M370.2 103.0h0M370.2 94.1h0M370.2 94.2h0M370.3 93.4h0M370.4 85.0h0M370.6 83.4h0M370.7 92.4h0M370.7 86.5h0M370.8 84.2h0M370.8 90.1h0M370.9 79.4h0M371.0 97.7h0M371.0 96.8h0M371.1 87.6h0M371.1 96.5h0M371.1 87.9h0M371.1 82.8h0M371.2 90.8h0M371.3 90.1h0M371.3 90.4h0M371.3 91.9h0M371.4 103.7h0M371.4 106.7h0M371.4 93.1h0M371.5 98.9h0M371.5 87.2h0M371.5 95.9h0M371.6 89.6h0M371.6 86.5h0M371.6 100.6h0M371.6 85.4h0M371.6 92.2h0M371.6 85.5h0M371.7 103.4h0M371.7 79.3h0M371.8 89.6h0M371.9 79.3h0M371.9 100.0h0M372.0 85.3h0M372.0 91.4h0M372.0 87.0h0M372.2 92.0h0M372.4 75.2h0M372.4 80.2h0M372.4 98.6h0M372.5 81.2h0M372.5 87.6h0M372.5 85.1h0M372.6 97.8h0M372.6 71.3h0M372.7 83.8h0M372.7 86.5h0M372.7 102.3h0M372.7 83.2h0M372.8 84.9h0M372.8 79.7h0M372.9 82.6h0M372.9 102.4h0M373.0 82.4h0M373.0 72.8h0M373.0 88.1h0M373.1 100.5h0M373.1 98.4h0M373.2 102.6h0M373.2 87.3h0M373.2 88.3h0M373.3 93.4h0M373.4 84.1h0M373.4 84.0h0M373.4 93.0h0M373.5 91.6h0M373.7 85.0h0M373.7 91.1h0M373.7 71.4h0M373.8 96.9h0M373.8 93.0h0M373.8 86.2h0M374.0 100.0h0M374.1 95.2h0M374.1 88.9h0M374.1 88.9h0M374.1 95.5h0M374.2 92.9h0M374.2 86.1h0M374.3 83.6h0M374.3 91.2h0M374.4 93.4h0M374.5 85.6h0M374.5 95.0h0M374.5 84.7h0M374.6 81.7h0M374.7 93.1h0M374.7 82.8h0M374.7 83.6h0M374.8 92.7h0M374.8 83.8h0M374.9 94.9h0M375.1 78.6h0M375.1 96.2h0M375.1 84.1h0M375.2 92.3h0M375.3 108.1h0M375.4 92.6h0M375.5 101.1h0M375.5 87.9h0M375.7 94.8h0M375.7 93.7h0M375.7 91.6h0M375.8 85.0h0M375.8 90.1h0M375.8 93.0h0M375.9 87.9h0M376.0 68.3h0M376.1 85.4h0M376.1 86.0h0M376.1 96.7h0M376.2 86.9h0M376.3 79.8h0M376.3 101.8h0M376.4 101.7h0M376.4 83.6h0M376.5 112.7h0M376.5 99.5h0M376.5 85.4h0M376.6 92.5h0M376.7 103.1h0M376.7 70.9h0M376.7 82.2h0M376.9 97.7h0M376.9 92.7h0M377.0 103.2h0M377.1 100.3h0M377.1 94.5h0M377.2 78.5h0M377.3 97.2h0M377.4 96.0h0M377.4 83.9h0M377.4 96.9h0M377.4 81.1h0M377.4 80.9h0M377.4 92.3h0M377.5 86.5h0M377.5 106.0h0M377.6 84.4h0M377.6 107.7h0M377.6 84.3h0M377.6 92.3h0M377.6 94.6h0M377.7 68.0h0M377.7 84.4h0M377.7 74.9h0M377.8 94.5h0M378.2 98.1h0M378.2 84.3h0M378.2 91.9h0M378.3 82.0h0M378.3 89.6h0M378.4 91.7h0M378.4 80.0h0M378.4 92.5h0M378.5 95.8h0M378.5 78.9h0M378.6 88.2h0M378.7 85.1h0M378.7 102.8h0M378.8 90.4h0M378.9 116.9h0M378.9 84.8h0M379.0 94.1h0M379.0 108.7h0M379.0 96.4h0M379.5 93.0h0M379.6 92.5h0M379.6 87.8h0M379.6 90.2h0M379.6 88.4h0M379.7 100.1h0M379.7 95.5h0M379.8 88.6h0M379.9 82.6h0M380.0 78.9h0M380.1 96.7h0M380.2 89.1h0M380.2 92.9h0M380.3 70.7h0M380.3 97.9h0M380.3 99.5h0M380.3 88.8h0M380.4 95.6h0M380.5 88.5h0M380.5 87.1h0M380.7 90.2h0M380.7 83.1h0M380.8 83.3h0M380.9 88.3h0M380.9 92.9h0M380.9 80.0h0M381.0 92.1h0M381.0 91.1h0M381.1 87.0h0M381.1 89.9h0M381.2 97.4h0M381.2 82.2h0M381.2 92.1h0M381.2 85.8h0M381.2 86.6h0M381.3 82.2h0M381.4 84.1h0M381.4 92.7h0M381.6 77.9h0M381.6 80.2h0M381.6 83.6h0M381.6 97.7h0M381.6 78.5h0M381.7 77.1h0M381.7 84.3h0M381.7 75.1h0M381.8 65.9h0M381.8 89.3h0M381.8 91.7h0M381.8 79.7h0M381.8 86.5h0M381.8 92.7h0M382.2 97.6h0M382.3 79.7h0M382.3 66.6h0M382.3 91.1h0M382.4 66.8h0M382.4 91.4h0M382.4 75.8h0M382.4 71.2h0M382.5 89.6h0M382.7 92.5h0M382.8 80.7h0M382.9 68.5h0M382.9 80.5h0M382.9 82.4h0M383.0 86.2h0M383.0 78.0h0M383.0 82.8h0M383.1 63.8h0M383.1 71.7h0M383.1 84.2h0M383.2 98.4h0M383.3 78.8h0M383.3 75.7h0M383.4 87.6h0M383.5 80.0h0M383.5 85.6h0M383.6 84.2h0M383.6 74.9h0M383.6 75.9h0M383.8 84.4h0M383.9 77.0h0M383.9 71.8h0M384.0 83.4h0M384.0 91.8h0M384.2 84.6h0M384.2 79.2h0M384.2 71.7h0M384.2 94.2h0M384.2 82.9h0M384.2 67.9h0M384.2 78.6h0M384.2 76.2h0M384.2 88.3h0M384.3 84.8h0M384.3 86.8h0M384.3 59.4h0M384.3 61.6h0M384.4 73.3h0M384.4 85.3h0M384.4 76.7h0M384.6 95.2h0M384.6 72.4h0M384.6 67.0h0M384.6 66.2h0M384.6 71.4h0M384.9 70.3h0M385.0 89.3h0M385.1 62.3h0M385.1 67.0h0M385.2 68.9h0M385.2 91.1h0M385.2 69.1h0M385.3 78.1h0M385.3 75.1h0M385.3 71.7h0M385.3 76.8h0M385.4 69.0h0M385.4 89.0h0M385.5 80.4h0M385.5 71.0h0M385.6 71.7h0M385.6 87.1h0M385.7 52.5h0M385.7 73.9h0M385.7 91.4h0M385.8 77.6h0M386.0 61.1h0M386.0 86.5h0M386.0 70.5h0M386.1 93.0h0M386.1 58.2h0M386.2 70.5h0M386.2 87.6h0M386.3 63.5h0M386.3 57.4h0M386.3 78.6h0M386.3 68.1h0M386.4 80.6h0M386.4 69.7h0M386.5 63.1h0M386.5 71.4h0M386.6 73.4h0M386.6 56.6h0M386.6 84.6h0M386.7 61.4h0M386.7 74.6h0M386.7 66.0h0M386.8 69.4h0M386.9 58.4h0M386.9 70.6h0M386.9 67.6h0M387.0 79.5h0M387.0 97.9h0M387.0 71.0h0M387.1 62.2h0M387.1 82.2h0M387.2 65.6h0M387.2 81.8h0M387.3 57.9h0M387.4 64.7h0M387.6 91.2h0M387.7 65.6h0M387.7 70.8h0M387.8 83.1h0M387.8 90.6h0M387.9 75.0h0M387.9 49.8h0M387.9 52.0h0M388.0 80.5h0M388.0 78.9h0M388.0 75.5h0M388.0 88.3h0M388.1 43.7h0M388.2 67.7h0M388.2 62.8h0M388.2 59.6h0M388.3 74.9h0M388.4 70.9h0M388.4 73.4h0M388.5 62.5h0M388.5 54.8h0M388.5 81.6h0M388.6 53.3h0M388.7 54.0h0M388.7 52.5h0M388.9 73.9h0M388.9 84.4h0M388.9 78.0h0M388.9 71.4h0M389.0 46.8h0M389.1 65.5h0M389.1 73.7h0M389.1 63.9h0M389.2 79.6h0M389.3 74.8h0M389.3 65.2h0M389.4 45.8h0M389.4 59.3h0M389.4 77.8h0M389.5 45.9h0M389.5 58.7h0M389.6 75.2h0M389.7 47.0h0M389.7 66.9h0M389.8 71.8h0M389.8 70.9h0M389.8 55.2h0M389.8 69.4h0M389.8 60.8h0M389.8 71.1h0M389.9 82.6h0M389.9 87.2h0M389.9 70.9h0M389.9 64.1h0M390.0 62.9h0M390.1 75.6h0M390.1 68.6h0M390.2 60.9h0M390.3 64.6h0M390.3 61.5h0M390.5 80.3h0M390.5 73.2h0M390.7 74.9h0M390.7 50.8h0M390.8 66.6h0M391.0 73.4h0M391.0 72.9h0M391.1 63.3h0M391.2 51.4h0M391.2 54.7h0M391.2 69.3h0M391.2 67.9h0M391.4 52.9h0M391.4 63.3h0M391.4 57.5h0M391.4 51.4h0M391.5 74.6h0M391.7 61.6h0M391.7 54.8h0M391.9 59.1h0M391.9 64.9h0M392.0 72.6h0M392.0 72.7h0M392.1 63.1h0M392.1 67.6h0M392.2 82.0h0M392.2 59.1h0M392.2 68.3h0M392.4 88.8h0M392.4 64.7h0M392.4 70.1h0M392.4 50.1h0M392.4 52.5h0M392.6 76.1h0M392.6 62.3h0M392.6 75.5h0M392.7 76.7h0M392.8 69.7h0M392.8 60.7h0M392.8 63.6h0M392.9 49.5h0M393.0 64.1h0M393.1 70.3h0M393.1 51.0h0M393.2 63.0h0M393.2 58.6h0M393.3 74.2h0M393.4 55.2h0M393.5 68.0h0M393.5 67.7h0M393.5 70.7h0M393.6 63.0h0M393.6 71.9h0M393.7 66.2h0M393.8 52.2h0M393.9 80.7h0M393.9 77.0h0M393.9 74.5h0M394.0 83.6h0M394.0 66.6h0M394.0 57.3h0M394.1 72.4h0M394.2 41.5h0M394.2 60.8h0M394.3 51.0h0M394.3 53.9h0M394.4 73.2h0M394.5 68.6h0M394.5 62.6h0M394.5 66.0h0M394.6 64.5h0M394.6 78.3h0M394.7 56.8h0M394.8 75.6h0M394.9 53.8h0M394.9 64.4h0M395.0 72.0h0M395.0 66.2h0M395.2 66.9h0M395.2 75.2h0M395.3 58.6h0M395.4 57.4h0M395.5 60.3h0M395.5 85.2h0M395.6 61.6h0M395.6 52.3h0M395.6 67.7h0M395.7 67.0h0M395.7 70.2h0M395.9 41.2h0M395.9 72.1h0M395.9 36.4h0M396.0 52.3h0M396.0 47.0h0M396.0 50.8h0M396.0 66.7h0M396.1 62.2h0M396.1 88.0h0M396.1 77.7h0M396.1 86.9h0M396.3 44.3h0M396.5 70.7h0M396.5 58.5h0M396.6 72.3h0M396.6 49.0h0M396.6 66.7h0M396.6 71.9h0M396.9 63.5h0M396.9 65.3h0M396.9 69.1h0M396.9 51.9h0M396.9 65.7h0M397.0 60.9h0M397.0 71.9h0M397.0 74.1h0M397.0 60.0h0M397.2 80.3h0M397.2 66.3h0M397.4 88.6h0M397.5 61.9h0M397.5 71.4h0M398.1 65.4h0M398.2 67.3h0M398.2 76.0h0M398.3 61.9h0M398.3 46.6h0M398.3 55.7h0M398.4 58.2h0M398.4 53.6h0M398.4 51.3h0M398.4 43.2h0M398.5 59.4h0M398.5 69.3h0M398.6 75.6h0M398.6 67.1h0M398.6 67.8h0M398.7 62.3h0M398.7 40.5h0M398.8 64.7h0M398.8 50.3h0M398.8 66.2h0M398.9 68.3h0M399.0 73.8h0M399.2 58.9h0M399.2 75.2h0M399.3 46.1h0M399.3 66.8h0M399.4 54.3h0M399.4 69.2h0M399.5 51.4h0M399.5 74.8h0M399.5 66.6h0M399.6 60.8h0M399.6 72.0h0M399.6 70.6h0M399.6 66.3h0M399.6 62.4h0M399.7 73.7h0M399.7 68.2h0M399.7 54.8h0M399.8 45.5h0M399.8 61.6h0M399.8 79.2h0M399.9 73.4h0M400.1 65.5h0M400.3 46.4h0M400.5 69.2h0M400.5 78.1h0M400.6 71.9h0M400.7 44.4h0M400.8 60.3h0M400.8 66.6h0M400.8 71.9h0M400.9 63.5h0M400.9 49.2h0M401.0 64.3h0M401.1 52.7h0M401.1 61.6h0M401.2 49.2h0M401.3 60.2h0M401.3 64.1h0M401.3 65.9h0M401.4 54.3h0M401.4 60.4h0M401.5 61.0h0M401.5 56.1h0M401.6 68.6h0M401.6 71.5h0M401.7 56.7h0M401.7 52.4h0M401.8 54.1h0M401.9 56.8h0M401.9 49.3h0M401.9 68.9h0M402.0 64.6h0M402.1 55.1h0M402.1 46.7h0M402.2 50.2h0M402.3 72.0h0M402.4 53.9h0M402.5 68.9h0M402.5 49.1h0M402.7 58.0h0M402.7 53.2h0M402.7 76.7h0M402.8 66.2h0M402.8 46.3h0M402.9 69.1h0M403.0 90.2h0M403.0 70.6h0M403.1 84.2h0M403.2 55.0h0M403.2 66.6h0M403.3 72.1h0M403.3 55.5h0M403.5 59.3h0M403.5 59.9h0M403.7 77.4h0M403.7 73.8h0M404.0 43.0h0M404.1 75.9h0M404.1 55.0h0M404.1 89.5h0M404.2 52.3h0M404.3 52.0h0M404.3 54.9h0M404.3 61.4h0M404.4 76.5h0M404.5 73.6h0M404.5 60.7h0M404.5 56.3h0M404.6 91.0h0M404.6 45.6h0M404.7 53.7h0M404.7 47.4h0M404.7 50.6h0M404.8 56.8h0M404.9 74.6h0M404.9 75.8h0M404.9 79.4h0M405.0 67.7h0M405.0 72.0h0M405.0 48.8h0M405.0 45.7h0M405.1 43.1h0M405.1 74.8h0M405.1 50.7h0M405.2 72.1h0M405.3 68.5h0M405.3 68.6h0M405.3 43.5h0M405.3 68.4h0M405.4 36.2h0M405.5 38.5h0M405.5 80.5h0M405.5 83.4h0M405.5 54.4h0M405.5 73.6h0M405.6 57.8h0M405.6 47.3h0M405.6 58.8h0M405.7 88.3h0M405.8 58.1h0M405.8 56.0h0M405.9 74.5h0M405.9 67.6h0M406.0 57.7h0M406.1 37.6h0M406.1 71.4h0M406.2 66.6h0M406.2 64.7h0M406.2 75.4h0M406.3 68.4h0M406.4 72.5h0M406.4 68.2h0M406.5 65.6h0M406.6 66.5h0M406.8 68.6h0M407.0 64.9h0M407.0 64.4h0M407.1 56.1h0M407.1 63.5h0M407.1 39.7h0M407.1 89.7h0M407.3 73.5h0M407.5 63.1h0M407.5 53.9h0M407.5 71.7h0M407.5 63.1h0M407.7 72.3h0M407.7 56.2h0M407.7 51.2h0M407.7 51.5h0M407.7 76.1h0M407.8 71.6h0M407.8 57.0h0M407.8 65.4h0M407.8 66.5h0M407.9 53.9h0M407.9 72.0h0M407.9 71.6h0M408.2 49.3h0M408.3 75.4h0M408.4 59.5h0M408.4 70.9h0M408.4 59.8h0M408.4 57.4h0M408.4 88.7h0M408.6 68.0h0M408.7 61.8h0M408.7 85.2h0M408.8 67.7h0M408.8 70.6h0M408.9 53.3h0M408.9 78.4h0M409.0 65.0h0M409.0 61.3h0M409.1 62.7h0M409.2 65.1h0M409.2 78.1h0M409.3 68.0h0M409.3 65.1h0M409.4 74.0h0M409.4 62.1h0M409.4 59.7h0M409.5 86.8h0M409.6 60.9h0M409.7 58.1h0M409.7 75.9h0M409.7 72.7h0M409.8 26.2h0M409.8 57.5h0M409.8 69.2h0M409.9 74.8h0M409.9 47.1h0M409.9 65.2h0M410.0 58.1h0M410.1 48.8h0M410.1 64.4h0M410.2 61.6h0M410.3 69.2h0M410.4 66.6h0M410.5 72.1h0M410.5 54.5h0M410.7 80.1h0M410.7 31.9h0M410.8 55.0h0M410.8 67.5h0M410.8 57.6h0M410.8 63.3h0M410.9 57.9h0M410.9 68.3h0M410.9 73.3h0M411.0 67.9h0M411.1 53.4h0M411.2 90.1h0M411.3 60.2h0M411.4 66.4h0M411.4 63.8h0M411.5 75.6h0M411.5 53.9h0M411.5 78.1h0M411.5 59.3h0M411.6 93.1h0M411.7 56.1h0M411.7 61.1h0M411.7 65.7h0M411.8 80.1h0M411.9 60.5h0M411.9 46.6h0M411.9 37.0h0M412.0 65.0h0M412.1 90.5h0M412.1 70.0h0M412.2 83.5h0M412.3 101.8h0M412.4 51.4h0M412.4 61.9h0M412.4 58.9h0M412.5 85.4h0M412.5 84.0h0M412.6 62.6h0M412.8 61.3h0M412.8 81.3h0M413.2 62.7h0M413.3 94.6h0M413.4 64.2h0M413.5 63.7h0M413.7 64.5h0M413.7 64.1h0M413.8 65.4h0M413.8 66.8h0M413.9 65.9h0M413.9 78.9h0M413.9 102.2h0M413.9 84.5h0M414.0 75.7h0M414.1 95.3h0M414.2 74.2h0M414.5 64.0h0M414.5 70.6h0M414.5 49.6h0M414.5 67.4h0M414.7 73.3h0M414.7 83.3h0M414.8 90.3h0M414.8 82.2h0M414.8 80.4h0M414.9 81.0h0M414.9 94.7h0M415.0 85.9h0M415.1 51.3h0M415.2 79.3h0M415.3 58.8h0M415.3 85.5h0M415.3 73.2h0M415.4 76.7h0M415.5 69.8h0M415.6 69.1h0M415.6 77.8h0M415.6 77.0h0M415.7 90.2h0M415.7 70.7h0M415.8 84.3h0M415.8 74.8h0M415.9 95.0h0M415.9 78.0h0M416.1 87.5h0M416.2 86.8h0M416.2 73.6h0M416.2 65.1h0M416.3 95.9h0M416.5 76.4h0M416.5 85.4h0M416.5 50.1h0M416.7 57.4h0M416.9 95.7h0M416.9 103.3h0M417.0 63.8h0M417.0 86.0h0M417.1 99.6h0M417.2 57.6h0M417.2 54.9h0M417.5 103.6h0M417.5 80.0h0M417.6 92.6h0M417.6 85.3h0M417.6 83.6h0M417.7 82.0h0M417.8 101.8h0M417.8 76.7h0M417.8 77.5h0M417.9 93.5h0M417.9 68.7h0M418.0 84.0h0M418.0 93.0h0M418.0 85.0h0M418.1 88.3h0M418.2 88.8h0M418.2 81.3h0M418.4 101.0h0M418.4 81.4h0M418.5 114.5h0M418.5 101.2h0M418.5 90.5h0M418.6 73.0h0M418.8 64.6h0M418.8 56.3h0M418.9 82.7h0M418.9 79.9h0M418.9 77.5h0M419.0 72.2h0M419.1 73.3h0M419.1 74.2h0M419.1 62.2h0M419.1 96.4h0M419.2 95.7h0M419.3 93.3h0M419.3 89.5h0M419.4 89.1h0M419.4 59.8h0M419.7 89.2h0M419.8 81.7h0M419.8 103.0h0M419.8 91.3h0M419.9 97.2h0M419.9 78.8h0M420.0 65.6h0M420.2 67.1h0M420.2 61.2h0M420.3 94.1h0M420.3 76.1h0M420.4 68.4h0M420.5 65.9h0M420.8 80.4h0M421.2 74.7h0M421.6 58.6h0M421.8 82.9h0M421.9 80.6h0M421.9 80.7h0M421.9 108.1h0M421.9 69.2h0M421.9 81.7h0M422.0 89.3h0M422.0 76.0h0M422.1 77.6h0M422.1 69.3h0M422.2 84.2h0M422.5 85.9h0M422.7 95.0h0M422.7 93.8h0M422.8 86.0h0M422.8 101.8h0M422.9 87.6h0M423.0 85.4h0M423.0 85.4h0M423.0 104.0h0M423.1 55.4h0M423.2 93.7h0M423.2 90.7h0M423.2 73.3h0M423.5 83.9h0M423.6 76.5h0M423.6 77.6h0M423.6 79.9h0M423.6 79.2h0M423.7 88.0h0M423.7 72.4h0M423.8 125.2h0M423.9 85.8h0M424.0 85.3h0M424.0 68.5h0M424.1 66.8h0M424.1 76.8h0M424.3 109.3h0M424.4 71.5h0M424.5 97.9h0M424.5 94.0h0M424.6 107.7h0M424.6 93.5h0M424.7 66.4h0M424.7 88.6h0M424.7 84.3h0M424.7 112.4h0M424.8 111.6h0M424.8 105.5h0M424.8 93.1h0M424.8 106.7h0M424.8 98.4h0M424.9 68.3h0M424.9 94.7h0M424.9 79.0h0M424.9 62.5h0M425.0 105.0h0M425.0 97.2h0M425.1 110.2h0M425.1 96.2h0M425.2 99.8h0M425.3 94.9h0M425.3 68.7h0M425.3 105.8h0M425.4 103.3h0M425.4 107.1h0M425.5 89.8h0M425.6 97.2h0M425.7 114.1h0M425.8 81.9h0M426.0 90.8h0M426.0 79.5h0M426.0 85.4h0M426.1 96.9h0M426.2 93.1h0M426.2 91.6h0M426.4 116.9h0M426.5 103.5h0M426.5 107.5h0M426.5 86.0h0M426.5 109.0h0M426.6 82.1h0M426.6 93.9h0M426.7 81.2h0M426.7 82.5h0M426.8 73.7h0M426.8 69.8h0M426.8 102.4h0M426.8 87.1h0M426.8 101.6h0M426.9 87.2h0M427.0 85.0h0M427.2 90.1h0M427.3 69.9h0M427.5 83.4h0M427.7 102.4h0M427.7 108.7h0M427.8 96.2h0M427.9 91.9h0M427.9 74.0h0M427.9 95.3h0M428.0 79.8h0M428.0 99.0h0M428.1 109.9h0M428.2 86.6h0M428.2 89.0h0M428.3 105.7h0M428.4 79.6h0M428.4 85.9h0M428.5 97.9h0M428.5 87.6h0M428.5 87.5h0M428.7 85.5h0M428.7 103.7h0M428.8 115.7h0M428.9 89.3h0M428.9 95.1h0M429.0 83.5h0M429.1 88.8h0M429.1 93.5h0M429.1 100.1h0M429.1 79.1h0M429.2 114.2h0M429.2 65.5h0M429.3 98.7h0M429.4 107.2h0M429.4 99.0h0M429.6 95.9h0M429.8 87.6h0M429.9 52.4h0M430.0 110.9h0M430.0 58.8h0M430.2 67.2h0M430.2 82.7h0M430.4 89.0h0M430.4 71.3h0M430.7 86.1h0M430.7 83.3h0M430.7 89.3h0M430.8 73.2h0M431.0 96.8h0M431.1 106.4h0M431.1 85.7h0M431.1 106.3h0M431.2 92.9h0M431.2 97.6h0M431.2 92.6h0M431.3 59.7h0M431.3 85.6h0M431.4 51.4h0M431.4 85.5h0M431.5 51.0h0M431.5 100.8h0M431.5 95.4h0M431.6 99.3h0M431.7 89.8h0M431.8 105.9h0M431.8 80.3h0M431.8 91.2h0M431.9 99.4h0M431.9 62.4h0M432.0 100.3h0M432.1 107.4h0M432.2 67.2h0M432.3 101.2h0M432.3 96.9h0M432.4 91.2h0M432.5 82.0h0M432.6 106.9h0M432.8 98.1h0M432.8 76.7h0M432.8 112.4h0M432.9 97.1h0M433.0 100.0h0M433.0 100.3h0M433.2 117.6h0M433.2 81.6h0M433.4 114.3h0M433.4 107.6h0M433.7 80.5h0M433.7 110.6h0M433.8 87.0h0M433.9 108.6h0M433.9 99.3h0M434.0 99.2h0M434.1 67.4h0M434.1 77.1h0M434.1 95.9h0M434.1 99.1h0M434.2 88.7h0M434.3 59.3h0M434.4 108.3h0M434.5 102.1h0M434.5 115.7h0M434.6 89.2h0M434.6 104.4h0M434.7 100.4h0M434.7 81.5h0M434.8 62.9h0M434.8 89.4h0M434.8 86.5h0M435.0 99.8h0M435.0 121.7h0M435.0 78.8h0M435.1 92.3h0M435.2 72.9h0M435.2 102.8h0M435.3 91.0h0M435.4 76.2h0M435.4 86.9h0M435.6 79.0h0M435.7 109.3h0M435.9 86.8h0M435.9 89.6h0M436.0 80.4h0M436.0 112.3h0M436.1 99.7h0M436.1 99.5h0M436.1 95.6h0M436.1 97.9h0M436.1 101.0h0M436.2 76.5h0M436.3 83.6h0M436.3 93.5h0M436.4 92.1h0M436.4 74.4h0M436.6 102.5h0M436.6 103.0h0M436.7 91.4h0M436.7 119.9h0M436.7 91.0h0M437.0 83.9h0M437.0 82.4h0M437.0 92.3h0M437.1 78.9h0M437.1 102.9h0M437.2 92.0h0M437.2 87.2h0M437.3 94.7h0M437.3 95.6h0M437.3 93.7h0M437.3 92.8h0M437.4 95.3h0M437.4 78.0h0M437.5 77.5h0M437.5 62.0h0M437.6 95.3h0M437.7 105.3h0M437.9 98.6h0M438.0 73.1h0M438.0 96.4h0M438.2 97.7h0M438.2 138.0h0M438.3 104.4h0M438.4 78.0h0M438.5 74.2h0M438.5 109.0h0M438.5 75.3h0M438.6 98.6h0M438.8 78.4h0M438.9 112.3h0M439.0 82.0h0M439.0 71.1h0M439.1 121.5h0M439.1 89.4h0M439.3 86.3h0M439.4 98.3h0M439.4 87.0h0M439.4 91.3h0M439.6 81.1h0M439.6 85.5h0M439.6 82.5h0M439.9 103.4h0M439.9 106.2h0M439.9 100.8h0M439.9 88.7h0M439.9 83.7h0M440.0 81.7h0M440.0 72.4h0M440.1 95.5h0M440.1 88.5h0M440.2 84.1h0M440.2 80.2h0M440.2 67.1h0M440.3 92.3h0M440.3 99.1h0M440.3 102.6h0M440.4 85.4h0M440.4 105.8h0M440.4 81.6h0M440.5 73.4h0M440.5 80.2h0M440.6 85.9h0M440.6 86.3h0M440.7 104.1h0M440.7 86.0h0M440.7 83.8h0M441.0 84.0h0M441.0 78.0h0M441.1 92.0h0M441.1 111.1h0M441.1 94.0h0M441.2 86.7h0M441.3 99.9h0M441.4 86.3h0M441.4 86.0h0M441.4 95.2h0M441.4 100.3h0M441.4 81.4h0M441.5 95.8h0M441.6 90.8h0M441.6 88.8h0M441.7 79.5h0M441.7 81.5h0M441.9 89.0h0M442.0 91.2h0M442.0 107.5h0M442.1 111.5h0M442.2 104.5h0M442.2 103.2h0M442.3 73.4h0M442.3 112.3h0M442.3 99.9h0M442.4 77.1h0M442.4 107.5h0M442.4 83.2h0M442.4 77.2h0M442.5 102.7h0M442.6 75.6h0M442.8 101.8h0M442.8 75.9h0M442.9 88.2h0M443.0 76.1h0M443.0 111.2h0M443.3 80.7h0M443.3 116.0h0M443.3 81.4h0M443.4 78.1h0M443.4 109.6h0M443.5 73.4h0M443.5 77.9h0M443.5 91.5h0M443.6 98.2h0M443.6 75.8h0M443.7 98.5h0M443.9 98.9h0M443.9 90.5h0M444.1 87.4h0M444.1 72.5h0M444.1 110.0h0M444.1 96.6h0M444.2 97.6h0M444.2 88.7h0M444.3 96.4h0M444.3 101.0h0M444.4 77.9h0M444.4 90.8h0M444.4 108.6h0M444.4 104.7h0M444.5 108.3h0M444.5 92.8h0M444.7 95.5h0M444.8 108.5h0M444.9 118.8h0M444.9 113.9h0M445.0 79.8h0M445.0 78.6h0M445.0 99.9h0M445.2 72.9h0M445.2 101.9h0M445.3 82.1h0M445.3 105.2h0M445.5 85.4h0M445.6 107.0h0M445.7 82.5h0M445.8 96.8h0M445.8 84.9h0M445.9 97.3h0M446.0 95.2h0M446.1 103.2h0M446.1 87.1h0M446.1 101.2h0M446.1 63.8h0M446.2 90.5h0M446.3 95.8h0M446.3 84.2h0M446.4 104.1h0M446.4 106.2h0M446.4 110.9h0M446.5 77.8h0M446.5 89.1h0M446.6 76.8h0M446.6 108.7h0M446.6 120.8h0M446.8 94.2h0M446.9 76.9h0M446.9 88.4h0M447.0 87.9h0M447.1 85.4h0M447.2 90.1h0M447.2 82.6h0M447.3 80.7h0M447.4 90.8h0M447.5 91.4h0M447.6 107.4h0M447.7 98.3h0M447.7 82.8h0M447.8 100.5h0M447.8 82.9h0M447.8 99.1h0M447.8 87.3h0M447.9 105.4h0M447.9 58.3h0M448.0 104.7h0M448.1 95.2h0M448.2 90.3h0M448.2 118.7h0M448.3 102.4h0M448.3 85.8h0M448.3 97.3h0M448.4 103.2h0M448.5 102.9h0M448.7 107.0h0M448.9 83.6h0M448.9 85.3h0M449.0 123.3h0M449.0 91.4h0M449.1 96.4h0M449.1 97.4h0M449.3 70.7h0M449.7 131.6h0M449.7 50.4h0M449.7 94.7h0M449.8 73.2h0M449.8 108.5h0M449.8 80.3h0M449.8 74.3h0M450.0 98.6h0M450.0 92.3h0M450.1 86.4h0M450.1 90.6h0M450.2 74.6h0M450.2 79.6h0M450.3 69.8h0M450.5 116.4h0M450.6 85.6h0M450.6 103.9h0M450.7 96.2h0M450.7 92.0h0M450.8 111.8h0M450.9 102.7h0M450.9 90.5h0M451.0 90.7h0M451.1 82.8h0M451.3 63.1h0M451.3 106.0h0M451.3 106.4h0M451.6 88.1h0M451.6 67.0h0M451.8 96.6h0M451.8 112.6h0M451.8 102.0h0M452.0 72.9h0M452.0 59.0h0M452.1 91.5h0M452.1 88.3h0M452.1 69.4h0M452.3 84.4h0M452.4 74.7h0M452.6 91.4h0M452.7 78.1h0M452.7 73.0h0M452.7 111.0h0M452.8 87.7h0M452.8 101.0h0M452.9 124.8h0M452.9 93.0h0M453.0 83.8h0M453.1 80.6h0M453.1 59.5h0M453.2 113.4h0M453.2 131.9h0M453.3 103.9h0M453.3 93.4h0M453.4 68.5h0M453.4 68.1h0M453.4 71.7h0M453.5 134.9h0M453.5 89.3h0M453.6 67.4h0M453.6 97.4h0M453.7 116.7h0M453.8 104.2h0M453.8 89.5h0M453.9 72.7h0M453.9 112.5h0M454.0 90.4h0M454.1 95.2h0M454.2 119.9h0M454.2 83.9h0M454.3 105.1h0M454.4 102.7h0M454.4 97.1h0M454.4 69.4h0M454.4 97.9h0M454.4 92.2h0M454.5 98.3h0M454.6 99.2h0M454.7 121.7h0M454.7 77.1h0M454.9 85.4h0M454.9 95.6h0M454.9 82.9h0M455.1 130.3h0M455.1 67.7h0M455.2 91.8h0M455.2 91.2h0M455.3 78.1h0M455.3 97.0h0M455.3 91.0h0M455.5 80.1h0M455.5 121.7h0M455.6 74.0h0M455.7 68.2h0M455.7 91.0h0M455.7 70.0h0M455.8 91.4h0M455.8 78.4h0M455.9 75.2h0M456.0 107.1h0M456.0 79.7h0M456.0 101.1h0M456.0 103.7h0M456.0 96.1h0M456.0 75.5h0M456.1 84.5h0M456.1 83.9h0M456.2 102.6h0M456.2 94.6h0M456.2 85.6h0M456.3 81.7h0M456.3 93.1h0M456.5 98.4h0M456.6 82.2h0M456.6 111.5h0M456.6 95.5h0M456.7 115.1h0M456.8 97.1h0M456.8 109.0h0M456.8 90.6h0M456.9 98.7h0M456.9 118.1h0M456.9 72.2h0M457.1 92.3h0M457.1 101.1h0M457.2 105.5h0M457.2 83.9h0M457.3 89.8h0M457.4 81.7h0M457.5 93.1h0M457.5 98.9h0M457.5 85.2h0M457.5 86.9h0M457.6 100.1h0M457.6 94.3h0M457.6 95.6h0M457.6 65.4h0M457.7 76.2h0M457.7 89.8h0M457.8 92.4h0M457.9 107.8h0M458.0 94.5h0M458.0 66.1h0M458.1 92.0h0M458.1 105.1h0M458.1 111.9h0M458.3 93.2h0M458.3 73.9h0M458.3 77.4h0M458.4 96.9h0M458.4 100.0h0M458.5 129.5h0M458.7 115.2h0M458.8 90.9h0M458.8 104.8h0M458.8 113.4h0M458.9 76.4h0M458.9 77.1h0M459.0 88.8h0M459.0 107.1h0M459.2 89.0h0M459.2 89.4h0M459.2 68.5h0M459.2 88.2h0M459.2 95.8h0M459.3 86.3h0M459.6 93.3h0M459.7 87.8h0M459.7 98.5h0M459.7 106.9h0M459.7 66.2h0M459.8 77.0h0M459.8 82.9h0M459.8 97.7h0M459.9 56.6h0M460.0 63.9h0M460.1 76.7h0M460.1 101.1h0M460.3 71.6h0M460.3 68.4h0M460.3 98.5h0M460.3 102.2h0M460.4 131.7h0M460.6 90.2h0M460.6 61.3h0M460.7 83.7h0M460.7 78.0h0M460.7 76.4h0M460.7 107.7h0M460.7 66.7h0M460.7 83.5h0M460.8 112.2h0M460.9 80.9h0M460.9 132.8h0M461.0 91.6h0M461.0 82.0h0M461.1 71.8h0M461.1 90.3h0M461.2 74.7h0M461.2 105.3h0M461.2 104.8h0M461.3 87.5h0M461.4 65.2h0M461.5 75.3h0M461.5 79.0h0M461.5 95.4h0M461.6 77.8h0M461.7 103.8h0M461.7 100.0h0M461.7 86.1h0M461.8 87.1h0M461.8 94.4h0M461.8 95.7h0M461.8 93.0h0M461.9 90.1h0M461.9 77.4h0M462.0 58.0h0M462.0 88.7h0M462.2 104.3h0M462.4 87.9h0M462.4 87.1h0M462.6 71.9h0M462.6 65.5h0M462.6 73.2h0M462.7 85.2h0M462.7 97.3h0M462.7 75.0h0M462.8 93.9h0M462.8 103.2h0M462.9 104.5h0M463.0 84.4h0M463.0 71.9h0M463.1 82.1h0M463.3 83.0h0M463.4 78.5h0M463.5 95.0h0M463.5 98.7h0M463.7 80.6h0M463.8 81.9h0M463.8 66.4h0M463.8 89.3h0M463.9 109.2h0M464.0 77.4h0M464.1 73.8h0M464.1 64.3h0M464.1 59.2h0M464.3 60.4h0M464.3 80.2h0M464.4 66.6h0M464.4 93.5h0M464.5 73.0h0M464.5 96.1h0M464.7 74.7h0M464.7 98.6h0M464.7 68.0h0M464.8 89.8h0M464.8 101.0h0M464.9 68.7h0M465.0 75.8h0M465.1 88.2h0M465.1 84.5h0M465.1 80.4h0M465.2 73.2h0M465.4 77.7h0M465.5 85.3h0M465.6 60.8h0M465.6 72.3h0M465.6 80.1h0M465.6 89.9h0M465.7 67.8h0M465.7 90.3h0M465.8 69.5h0M465.8 76.7h0M465.8 90.4h0M466.0 75.2h0M466.1 74.9h0M466.1 76.9h0M466.2 53.7h0M466.2 81.0h0M466.3 70.9h0M466.3 71.2h0M466.3 88.2h0M466.5 91.2h0M466.5 76.8h0M466.7 100.3h0M466.7 66.7h0M466.8 71.5h0M466.9 76.8h0M466.9 76.0h0M467.1 72.7h0M467.1 90.4h0M467.1 84.4h0M467.3 87.4h0M467.4 73.3h0M467.5 85.9h0M467.5 86.6h0M467.5 62.0h0M467.5 77.0h0M467.5 76.6h0M467.5 96.0h0M467.6 73.5h0M467.6 87.4h0M467.7 78.0h0M467.7 66.5h0M467.7 86.3h0M467.7 82.7h0M467.7 76.3h0M467.7 71.2h0M467.9 67.5h0M467.9 79.5h0M468.0 82.7h0M468.0 99.7h0M468.0 69.1h0M468.0 62.2h0M468.0 81.9h0M468.1 65.0h0M468.1 64.3h0M468.1 82.0h0M468.1 80.6h0M468.1 74.8h0M468.2 83.5h0M468.2 70.1h0M468.3 87.7h0M468.3 68.9h0M468.3 72.1h0M468.7 72.5h0M469.0 57.3h0M469.1 75.8h0M469.1 61.9h0M469.1 77.7h0M469.1 75.6h0M469.3 81.2h0M469.3 80.0h0M469.4 80.6h0M469.5 72.8h0M469.6 61.5h0M469.8 86.8h0M469.9 66.0h0M469.9 72.5h0M470.1 71.2h0M470.2 75.6h0M470.4 74.5h0M470.6 66.3h0M470.7 62.2h0M470.7 69.5h0M470.7 92.5h0M470.8 72.5h0M470.9 67.0h0M471.1 55.0h0M471.1 69.3h0M471.2 92.6h0M471.2 74.8h0M471.2 71.9h0M471.3 71.5h0M471.4 74.0h0M471.4 67.5h0M471.5 74.1h0M471.6 72.3h0M471.6 79.2h0M471.7 82.9h0M471.9 89.5h0M472.0 65.9h0M472.1 86.8h0M472.1 73.5h0M472.1 80.1h0M472.1 77.2h0M472.2 62.1h0M472.2 85.9h0M472.4 80.8h0M472.4 82.1h0M472.5 73.9h0M472.5 74.4h0M472.5 60.6h0M472.7 64.7h0M472.8 63.0h0M472.8 50.3h0M473.0 73.5h0M473.0 64.6h0M473.1 79.7h0M473.1 75.3h0M473.4 74.9h0M473.4 74.7h0M473.5 69.2h0M473.6 82.9h0M473.7 67.5h0M473.8 77.5h0M473.8 89.2h0M473.9 73.4h0M473.9 71.9h0M474.0 62.8h0M474.2 64.5h0M474.2 83.6h0M474.3 84.1h0M474.3 53.3h0M474.4 66.4h0M474.4 64.4h0M474.4 61.4h0M474.4 82.5h0M474.4 54.0h0M474.5 47.6h0M474.5 79.8h0M474.6 59.8h0M474.6 75.2h0M474.6 57.9h0M474.6 72.5h0M474.8 79.2h0M474.9 65.1h0M474.9 65.4h0M474.9 74.8h0M474.9 78.3h0M474.9 73.8h0M475.0 69.9h0M475.2 69.2h0M475.2 68.8h0M475.3 69.1h0M475.3 52.1h0M475.4 71.7h0M475.5 74.9h0M475.5 71.1h0M475.5 57.2h0M475.5 67.4h0M475.6 74.6h0M475.6 63.3h0M475.6 72.7h0M475.9 81.6h0M476.1 75.2h0M476.2 65.1h0M476.3 70.2h0M476.3 68.8h0M476.4 69.0h0M476.4 73.4h0M476.5 84.0h0M476.5 76.4h0M476.5 59.0h0M476.6 76.9h0M476.6 49.5h0M476.6 62.0h0M476.6 73.4h0M476.6 67.8h0M476.7 55.9h0M476.8 81.1h0M476.8 61.6h0M477.0 80.5h0M477.0 52.3h0M477.1 82.9h0M477.1 50.1h0M477.2 77.8h0M477.3 64.3h0M477.4 53.5h0M477.4 67.0h0M477.5 66.7h0M477.5 74.4h0M477.6 61.8h0M477.6 59.8h0M477.6 65.6h0M477.6 76.8h0M477.6 70.2h0M477.7 88.6h0M477.7 58.5h0M478.0 59.6h0M478.0 85.5h0M478.2 85.1h0M478.3 55.2h0M478.4 50.7h0M478.4 47.3h0M478.5 69.7h0M478.5 60.1h0M478.5 75.9h0M478.7 57.8h0M478.8 70.9h0M478.9 77.2h0M478.9 55.3h0M478.9 50.5h0M479.0 59.2h0M479.0 68.1h0M479.0 74.9h0M479.1 79.2h0M479.1 75.9h0M479.1 59.9h0M479.2 65.8h0M479.2 83.0h0M479.6 53.5h0M479.7 49.9h0M479.7 71.6h0M479.8 52.2h0M479.8 56.6h0M479.9 82.8h0M479.9 58.6h0M480.0 78.4h0M480.0 88.7h0M480.0 72.6h0M480.0 57.7h0M480.0 57.3h0M480.1 76.6h0M480.1 78.8h0M480.2 70.6h0M480.3 53.5h0M480.3 70.2h0M480.3 65.0h0M480.4 82.4h0M480.5 91.0h0M480.5 71.8h0M480.5 50.9h0M480.6 80.9h0M480.7 67.4h0M480.7 54.0h0M480.8 73.8h0M480.9 61.1h0M481.0 65.6h0M481.0 65.3h0M481.2 54.3h0M481.2 60.8h0M481.2 52.6h0M481.3 68.5h0M481.3 66.1h0M481.5 71.6h0M481.7 47.4h0M481.7 68.5h0M481.7 79.6h0M481.7 56.6h0M481.7 80.5h0M481.8 60.4h0M481.8 59.0h0M482.0 68.1h0M482.1 74.4h0M482.1 61.8h0M482.1 82.9h0M482.2 51.5h0M482.4 61.1h0M482.6 71.2h0M482.6 63.0h0M482.6 58.8h0M482.6 65.7h0M482.7 60.7h0M482.7 57.7h0M482.7 79.7h0M482.8 49.1h0M482.9 90.0h0M482.9 65.2h0M483.0 65.0h0M483.1 54.4h0M483.1 64.8h0M483.1 56.7h0M483.1 66.8h0M483.1 69.6h0M483.2 57.8h0M483.2 69.9h0M483.2 60.2h0M483.2 64.4h0M483.3 80.0h0M483.3 69.0h0M483.3 61.0h0M483.4 66.2h0M483.4 70.7h0M483.6 69.4h0M483.6 81.3h0M483.7 73.4h0M483.8 54.4h0M483.9 66.9h0M483.9 75.6h0M484.0 76.4h0M484.0 59.3h0M484.0 66.2h0M484.1 67.7h0M484.1 63.1h0M484.1 59.7h0M484.1 46.1h0M484.1 64.6h0M484.2 64.2h0M484.2 65.2h0M484.2 70.7h0M484.2 85.3h0M484.2 59.8h0M484.2 68.3h0M484.4 75.7h0M484.6 56.1h0M484.6 83.8h0M484.6 73.5h0M484.6 55.2h0M484.7 63.6h0M484.9 60.1h0M485.0 59.8h0M485.0 75.8h0M485.1 63.6h0M485.2 51.8h0M485.3 48.3h0M485.4 67.8h0M485.4 61.4h0M485.4 59.9h0M485.4 57.0h0M485.5 65.7h0M485.5 73.0h0M485.6 64.3h0M485.6 77.6h0M485.7 61.4h0M485.7 67.9h0M485.8 45.6h0M485.9 81.1h0M485.9 54.1h0M485.9 48.9h0M486.0 61.1h0M486.0 79.8h0M486.0 72.4h0M486.1 71.7h0M486.1 52.6h0M486.2 72.8h0M486.2 60.7h0M486.3 65.6h0M486.4 71.1h0M486.5 80.0h0M486.5 72.5h0M486.5 77.5h0M486.5 64.7h0M486.6 71.2h0M486.6 57.8h0M486.7 63.6h0M486.8 49.7h0M486.8 70.0h0M486.9 75.2h0M487.0 69.1h0M487.2 53.3h0M487.2 51.7h0M487.2 61.0h0M487.4 65.1h0M487.4 73.4h0M487.5 44.8h0M487.5 59.5h0M487.5 70.7h0M487.6 51.1h0M487.6 48.6h0M487.7 74.2h0M487.7 77.1h0M487.8 50.7h0M487.9 69.8h0M488.0 62.0h0M488.1 58.9h0M488.1 58.1h0M488.2 75.8h0M488.3 67.0h0M488.3 55.7h0M488.3 38.0h0M488.3 58.5h0M488.4 60.0h0M488.4 48.3h0M488.6 74.3h0M488.7 47.5h0M488.8 75.7h0M488.8 64.0h0M488.9 72.0h0M488.9 51.5h0M489.0 73.5h0M489.0 59.8h0M489.1 69.3h0M489.2 43.4h0M489.3 41.1h0M489.4 78.7h0M489.4 60.0h0M489.4 66.7h0M489.5 47.3h0M489.5 75.7h0M489.5 65.7h0M489.6 52.6h0M489.6 70.5h0M489.6 61.4h0M489.7 65.8h0M489.8 66.8h0M489.9 77.5h0M489.9 65.9h0M489.9 59.9h0M490.0 60.5h0M490.0 55.7h0M490.0 67.2h0M490.1 66.9h0M490.1 60.1h0M490.2 55.6h0M490.2 52.4h0M490.2 61.6h0M490.4 73.8h0M490.4 64.1h0M490.5 63.0h0M490.6 66.9h0M490.6 70.4h0M490.7 63.5h0M490.8 62.2h0M490.8 60.0h0M490.8 64.0h0M490.9 65.9h0M491.1 68.1h0M491.1 68.3h0M491.3 73.5h0M491.3 64.1h0M491.3 66.2h0M491.3 56.1h0M491.4 63.0h0M491.5 71.4h0M491.5 54.0h0M491.6 68.7h0M491.6 66.0h0M491.7 75.3h0M491.7 68.0h0M491.7 55.2h0M491.7 86.5h0M491.8 68.1h0M491.8 51.2h0M491.9 70.4h0M491.9 77.6h0M491.9 61.2h0M491.9 71.6h0M491.9 62.1h0M491.9 76.9h0M492.0 51.6h0M492.0 61.6h0M492.1 63.4h0M492.1 77.1h0M492.1 78.2h0M492.1 73.5h0M492.1 59.9h0M492.2 44.3h0M492.2 72.7h0M492.2 78.6h0M492.3 63.4h0M492.4 61.0h0M492.5 66.8h0M492.5 74.9h0M492.5 75.4h0M492.7 74.6h0M492.8 54.0h0M492.8 58.7h0M492.8 71.7h0M492.9 65.8h0M492.9 85.0h0M492.9 75.6h0M492.9 73.9h0M493.0 71.6h0M493.1 65.4h0M493.2 67.7h0M493.2 77.3h0M493.3 60.1h0M493.3 61.7h0M493.3 71.8h0M493.3 69.0h0M493.4 65.9h0M493.4 82.6h0M493.5 75.4h0M493.6 75.6h0M493.6 77.5h0M493.7 78.5h0M493.8 55.7h0M493.9 73.8h0M493.9 63.7h0M493.9 56.1h0M494.1 82.1h0M494.1 69.2h0M494.2 65.8h0M494.2 73.5h0M494.3 88.8h0M494.4 74.8h0M494.4 65.1h0M494.5 72.8h0M494.5 90.2h0M494.5 69.5h0M494.6 64.6h0M494.8 65.6h0M494.8 82.8h0M494.9 68.9h0M494.9 58.0h0M494.9 83.4h0M494.9 63.0h0M494.9 80.9h0M495.1 81.0h0M495.1 78.3h0M495.3 58.6h0M495.3 60.1h0M495.4 68.7h0M495.4 70.0h0M495.4 74.0h0M495.5 75.2h0M495.6 75.3h0M495.6 86.2h0M495.6 63.1h0M495.7 73.1h0M495.8 68.6h0M495.9 71.6h0M495.9 84.7h0M495.9 91.2h0M495.9 78.0h0M496.1 87.3h0M496.1 78.5h0M496.1 70.7h0M496.1 71.0h0M496.1 74.8h0M496.1 71.8h0M496.2 81.0h0M496.3 80.6h0M496.4 80.9h0M496.5 70.3h0M496.6 64.3h0M496.9 91.6h0M497.0 83.2h0M497.1 61.2h0M497.1 64.5h0M497.2 56.5h0M497.2 72.5h0M497.2 78.8h0M497.2 75.1h0M497.4 73.1h0M497.5 76.9h0M497.6 78.9h0M497.6 72.0h0M497.6 70.4h0M497.6 60.9h0M497.6 84.0h0M497.7 67.0h0M497.7 76.7h0M497.8 75.9h0M497.8 77.9h0M497.8 59.2h0M497.8 89.5h0M497.9 74.6h0M498.1 76.6h0M498.1 69.5h0M498.1 72.7h0M498.1 81.6h0M498.1 73.7h0M498.2 86.4h0M498.4 85.3h0M498.4 72.7h0M498.4 61.9h0M498.6 67.3h0M498.6 84.7h0M498.6 77.4h0M498.7 72.6h0M498.7 78.5h0M498.7 76.6h0M498.7 84.0h0M498.7 84.5h0M498.8 78.8h0M498.8 76.4h0M498.9 80.0h0M498.9 73.5h0M499.0 80.6h0M499.0 82.2h0M499.1 72.4h0M499.2 76.1h0M499.2 78.5h0M499.2 74.7h0M499.3 64.8h0M499.3 69.1h0M499.5 72.8h0M499.5 66.5h0M499.7 84.9h0M499.7 88.2h0M499.7 85.6h0M499.7 67.4h0M499.8 77.1h0M499.8 67.2h0M500.0 80.5h0M500.0 83.6h0M500.0 85.6h0M500.1 83.0h0M500.1 78.4h0M500.2 75.1h0M500.3 80.4h0M500.3 64.7h0M500.3 72.5h0M500.3 82.7h0M500.3 76.4h0M500.4 63.9h0M500.5 76.5h0M500.5 60.9h0M500.5 76.3h0M500.5 72.0h0M500.6 81.7h0M500.6 78.5h0M500.7 83.2h0M500.8 69.0h0M501.4 74.6h0M501.4 70.7h0M501.4 75.7h0M501.5 68.2h0M501.5 86.8h0M501.8 75.6h0M501.8 72.9h0M501.9 68.1h0M501.9 61.7h0M502.0 69.9h0M502.0 73.0h0M502.1 95.8h0M502.1 83.2h0M502.1 80.0h0M502.1 76.7h0M502.2 70.6h0M502.2 76.5h0M502.2 64.5h0M502.4 74.3h0M502.4 63.0h0M502.6 79.1h0M502.6 75.2h0M502.6 87.8h0M502.6 77.0h0M503.0 70.5h0M503.0 60.9h0M503.0 75.4h0M503.1 77.9h0M503.1 81.9h0M503.2 83.3h0M503.2 74.1h0M503.2 73.1h0M503.2 84.1h0M503.3 76.0h0M503.3 78.4h0M503.4 87.0h0M503.4 87.5h0M503.5 73.2h0M503.5 80.3h0M503.6 76.9h0M503.6 76.5h0M503.6 78.9h0M503.6 77.5h0M503.6 83.3h0M503.7 84.8h0M503.7 87.0h0M503.8 83.5h0M503.9 91.0h0M503.9 74.6h0M504.0 80.2h0M504.0 72.0h0M504.0 67.4h0M504.0 81.4h0M504.0 77.2h0M504.1 82.6h0M504.1 75.0h0M504.2 63.0h0M504.2 97.3h0M504.4 78.2h0M504.4 58.5h0M504.5 81.1h0M504.5 68.5h0M504.7 73.6h0M504.8 75.8h0M504.9 78.1h0M504.9 63.0h0M504.9 83.5h0M505.0 79.6h0M505.0 82.7h0M505.1 90.9h0M505.1 73.9h0M505.1 80.9h0M505.2 63.5h0M505.2 92.2h0M505.3 76.8h0M505.4 81.5h0M505.4 72.0h0M505.5 82.7h0M505.5 82.9h0M505.7 89.7h0M505.7 76.7h0M505.7 78.3h0M505.8 96.1h0M505.8 64.0h0M506.0 81.2h0M506.0 79.5h0M506.1 70.3h0M506.2 70.2h0M506.2 73.1h0M506.3 82.1h0M506.4 85.8h0M506.5 59.7h0M506.5 74.9h0M506.5 102.0h0M506.6 74.1h0M506.6 78.3h0M506.9 84.0h0M506.9 82.1h0M507.0 85.9h0M507.0 97.6h0M507.1 75.0h0M507.2 84.0h0M507.2 86.1h0M507.2 97.9h0M507.3 76.2h0M507.3 73.9h0M507.3 91.5h0M507.3 75.7h0M507.5 76.6h0M507.5 90.0h0M507.6 67.4h0M507.6 74.2h0M507.6 84.8h0M507.8 77.9h0M507.9 78.2h0M507.9 88.9h0M508.0 92.5h0M508.0 84.6h0M508.0 84.2h0M508.1 71.4h0M508.2 77.8h0M508.3 88.9h0M508.4 75.8h0M508.5 72.2h0M508.5 94.6h0M508.6 82.8h0M508.6 74.7h0M508.7 72.1h0M508.8 78.4h0M508.8 80.0h0M508.8 75.3h0M508.9 78.5h0M509.0 72.7h0M509.2 75.5h0M509.2 83.0h0M509.3 91.8h0M509.4 96.2h0M509.4 86.8h0M509.4 83.2h0M509.4 86.2h0M509.5 82.3h0M509.5 76.7h0M509.6 84.0h0M509.6 78.1h0M509.9 90.0h0M509.9 73.4h0M509.9 83.2h0M509.9 83.9h0M510.0 72.7h0M510.0 75.9h0M510.1 68.3h0M510.1 67.6h0M510.1 71.7h0M510.3 77.9h0M510.3 81.5h0M510.3 81.4h0M510.3 84.0h0M510.5 79.2h0M510.5 75.0h0M510.5 75.5h0M510.5 88.0h0M510.6 75.8h0M510.7 92.2h0M510.9 88.9h0M511.0 73.6h0M511.0 82.7h0M511.0 73.5h0M511.0 84.5h0M511.0 76.3h0M511.0 91.0h0M511.0 89.9h0M511.1 85.9h0M511.2 87.1h0M511.3 93.5h0M511.3 89.1h0M511.3 81.8h0M511.4 86.1h0M511.4 83.0h0M511.5 78.7h0M511.5 76.3h0M511.6 81.5h0M511.6 66.2h0M511.6 73.4h0M511.7 92.6h0M511.7 70.9h0M511.8 76.6h0M511.8 82.4h0M511.9 84.0h0M512.0 91.2h0M512.0 101.2h0M512.1 80.2h0M512.1 87.2h0M512.2 73.5h0M512.2 94.2h0M512.3 77.8h0M512.3 76.7h0M512.3 85.2h0M512.4 75.8h0M512.7 81.2h0M512.8 71.2h0M512.8 91.0h0M512.9 86.0h0M512.9 58.5h0M512.9 78.2h0M513.0 65.9h0M513.0 85.1h0M513.1 71.5h0M513.2 73.6h0M513.2 84.0h0M513.3 68.0h0M513.3 96.9h0M513.3 71.1h0M513.4 68.9h0M513.4 74.9h0M513.4 76.9h0M513.4 72.7h0M513.5 83.1h0M513.5 71.0h0M513.6 85.6h0M513.6 85.8h0M513.6 74.2h0M513.7 76.9h0M513.8 63.3h0M513.8 81.0h0M513.8 79.8h0M513.8 75.3h0M513.9 86.4h0M513.9 76.2h0M514.0 93.1h0M514.0 53.8h0M514.1 74.8h0M514.1 61.2h0M514.1 78.4h0M514.1 72.9h0M514.2 72.3h0M514.2 78.7h0M514.3 88.0h0M514.3 67.1h0M514.4 77.8h0M514.5 71.4h0M514.6 75.1h0M514.7 96.6h0M514.7 67.6h0M514.9 62.3h0M514.9 77.7h0M515.1 68.1h0M515.1 73.4h0M515.2 60.7h0M515.3 63.9h0M515.3 74.0h0M515.4 75.3h0M515.7 71.2h0M515.7 66.3h0M515.7 72.7h0M515.7 54.3h0M515.8 67.9h0M515.9 58.0h0M515.9 50.7h0M515.9 79.4h0M515.9 65.9h0M516.0 89.3h0M516.1 59.7h0M516.1 58.0h0M516.1 69.8h0M516.1 80.2h0M516.4 59.4h0M516.4 70.1h0M516.5 69.6h0M516.5 65.3h0M516.7 78.9h0M516.7 79.9h0M516.8 60.4h0M516.8 57.9h0M517.1 80.6h0M517.1 81.4h0M517.2 72.7h0M517.2 56.7h0M517.3 56.8h0M517.4 63.8h0M517.6 80.0h0M517.7 62.1h0M517.8 68.7h0M517.9 80.9h0M518.0 85.9h0M518.0 81.1h0M518.0 65.0h0M518.1 72.7h0M518.1 86.2h0M518.2 73.1h0M518.2 85.0h0M518.2 82.5h0M518.4 74.7h0M518.4 78.1h0M518.4 86.0h0M518.5 68.6h0M518.6 64.8h0M518.8 69.2h0M518.8 84.2h0M518.9 74.8h0M518.9 63.2h0M518.9 76.7h0M519.0 69.8h0M519.1 75.9h0M519.1 72.6h0M519.2 73.7h0M519.2 73.3h0M519.2 65.1h0M519.3 78.3h0M519.3 78.1h0M519.3 87.9h0M519.4 72.1h0M519.5 74.3h0M519.5 75.1h0M519.6 72.5h0M519.6 73.7h0M519.7 80.6h0M519.7 76.0h0M519.8 63.7h0M519.9 76.0h0M519.9 68.8h0M520.0 74.0h0M520.1 64.7h0M520.1 71.9h0M520.1 68.1h0M520.2 62.4h0M520.2 78.1h0M520.2 67.8h0M520.3 77.8h0M520.3 53.6h0M520.4 75.4h0M520.4 52.6h0M520.4 71.0h0M520.5 68.2h0M520.5 56.9h0M520.5 78.3h0M520.6 66.5h0M520.6 70.9h0M520.8 75.8h0M520.8 84.7h0M520.9 83.7h0M520.9 58.5h0M520.9 84.1h0M521.1 77.3h0M521.2 68.3h0M521.3 80.4h0M521.4 86.1h0M521.4 73.8h0M521.5 71.5h0M521.6 62.3h0M521.6 70.4h0M521.6 78.5h0M521.7 76.1h0M521.7 84.4h0M521.7 76.8h0M521.8 76.5h0M521.8 61.5h0M521.8 70.2h0M521.8 73.7h0M521.9 72.1h0M522.0 68.3h0M522.0 72.3h0M522.0 71.1h0M522.0 65.5h0M522.0 87.8h0M522.1 66.5h0M522.3 75.0h0M522.4 77.7h0M522.5 85.1h0M522.5 71.9h0M522.6 75.1h0M522.6 78.8h0M522.6 76.3h0M522.7 83.8h0M522.7 90.3h0M522.7 67.0h0M522.8 74.5h0M523.1 86.5h0M523.2 67.1h0M523.3 70.2h0M523.3 84.8h0M523.4 73.3h0M523.4 75.3h0M523.5 72.0h0M523.5 83.0h0M523.6 79.3h0M523.6 87.9h0M523.7 69.3h0M523.7 63.2h0M523.7 83.9h0M523.9 78.3h0M524.0 83.7h0M524.0 70.8h0M524.0 84.8h0M524.0 90.6h0M524.1 88.3h0M524.2 83.8h0M524.2 76.0h0M524.3 79.5h0M524.3 87.8h0M524.4 73.1h0M524.4 76.0h0M524.4 75.0h0M524.5 80.2h0M524.5 73.1h0M524.6 78.6h0M524.6 73.1h0M524.8 77.4h0M524.9 75.7h0M525.0 85.8h0M525.2 73.9h0M525.2 95.1h0M525.2 72.9h0M525.2 83.0h0M525.2 75.0h0M525.4 93.6h0M525.4 81.9h0M525.4 90.7h0M525.5 84.0h0M525.6 87.2h0M525.6 89.3h0M525.6 86.5h0M525.8 71.2h0M525.8 92.1h0M525.8 80.9h0M525.8 91.8h0M526.0 78.3h0M526.0 92.5h0M526.1 92.1h0M526.2 83.1h0M526.2 81.0h0M526.3 82.9h0M526.3 90.0h0M526.3 81.3h0M526.3 75.3h0M526.4 97.5h0M526.4 82.9h0M526.4 71.2h0M526.4 72.5h0M526.5 88.9h0M526.7 80.1h0M526.8 79.1h0M526.9 76.6h0M527.0 87.4h0M527.1 79.4h0M527.1 89.3h0M527.1 91.0h0M527.1 99.1h0M527.2 64.7h0M527.2 94.2h0M527.3 97.2h0M527.3 97.0h0M527.4 84.5h0M527.5 80.2h0M527.6 92.6h0M527.7 83.7h0M527.8 82.6h0M527.8 95.0h0M527.9 99.1h0M527.9 97.3h0M528.0 90.9h0M528.0 91.9h0M528.1 79.8h0M528.1 94.9h0M528.3 87.1h0M528.3 95.4h0M528.3 92.2h0M528.4 72.2h0M528.4 95.9h0M528.5 88.7h0M528.6 83.0h0M528.6 96.9h0M528.7 95.4h0M528.7 89.9h0M528.7 83.8h0M528.8 84.2h0M529.0 95.8h0M529.1 93.1h0M529.1 97.9h0M529.1 98.7h0M529.3 103.8h0M529.6 91.2h0M529.6 104.1h0M529.6 107.2h0M529.6 90.0h0M529.7 107.7h0M529.7 98.6h0M529.7 80.6h0M529.7 85.1h0M529.8 93.5h0M529.9 82.4h0M529.9 98.0h0M530.0 94.7h0M530.0 75.8h0M530.0 76.8h0M530.0 95.5h0M530.1 86.9h0M530.2 84.1h0M530.2 89.8h0M530.2 100.1h0M530.2 93.6h0M530.2 77.9h0M530.2 85.5h0M530.3 93.7h0M530.3 108.7h0M530.4 76.5h0M530.4 79.2h0M530.5 95.2h0M530.5 83.3h0M530.6 78.4h0M530.6 100.3h0M530.7 104.1h0M530.8 100.6h0M530.8 81.6h0M530.8 88.5h0M530.8 90.1h0M530.9 75.7h0M531.0 95.5h0M531.0 105.1h0M531.0 90.0h0M531.1 90.9h0M531.1 88.1h0M531.2 101.7h0M531.2 94.7h0M531.4 87.9h0M531.4 91.6h0M531.4 98.1h0M531.5 86.8h0M531.6 87.0h0M531.6 91.8h0M531.6 93.6h0M531.8 96.6h0M531.8 93.5h0M531.8 113.9h0M531.8 96.5h0M531.8 89.6h0M531.9 91.6h0M532.0 100.8h0M532.1 110.5h0M532.2 87.1h0M532.2 101.8h0M532.3 91.6h0M532.5 108.5h0M532.6 95.9h0M532.8 73.2h0M532.8 103.5h0M532.8 92.6h0M532.8 101.5h0M532.9 89.2h0M533.0 92.5h0M533.1 90.3h0M533.1 102.4h0M533.1 80.0h0M533.1 82.8h0M533.1 89.9h0M533.2 109.2h0M533.2 96.8h0M533.3 87.1h0M533.3 94.4h0M533.4 76.2h0M533.7 96.4h0M533.8 91.0h0M533.8 97.5h0M533.8 108.4h0M533.9 100.4h0M533.9 94.2h0M534.0 93.1h0M534.1 88.1h0M534.2 100.6h0M534.3 95.1h0M534.3 112.3h0M534.3 84.4h0M534.3 85.2h0M534.5 102.3h0M534.6 86.5h0M534.6 89.7h0M534.6 104.7h0M534.6 92.4h0M534.6 104.7h0M534.7 113.9h0M534.8 88.6h0M534.8 86.3h0M534.9 84.0h0M534.9 79.1h0M534.9 96.3h0M535.0 93.2h0M535.1 101.8h0M535.1 81.1h0M535.1 82.7h0M535.2 90.8h0M535.2 90.2h0M535.2 86.6h0M535.3 105.7h0M535.3 75.2h0M535.3 95.4h0M535.3 87.3h0M535.4 102.9h0M535.4 83.5h0M535.4 103.2h0M535.5 88.6h0M535.5 85.2h0M535.6 86.4h0M535.6 82.4h0M535.7 90.9h0M535.7 89.2h0M535.8 97.3h0M535.8 89.3h0M535.9 81.0h0M535.9 89.6h0M536.0 90.3h0M536.0 79.9h0M536.0 76.5h0M536.1 92.7h0M536.2 77.2h0M536.3 74.6h0M536.4 83.6h0M536.5 86.2h0M536.5 97.9h0M536.5 101.6h0M536.6 76.4h0M536.6 86.7h0M536.8 92.3h0M536.9 86.2h0M536.9 66.5h0M536.9 83.2h0M537.0 88.8h0M537.0 87.7h0M537.1 93.0h0M537.1 89.3h0M537.1 72.8h0M537.1 75.8h0M537.3 78.4h0M537.3 77.9h0M537.5 82.6h0M537.5 66.5h0M537.6 62.3h0M537.6 87.6h0M537.7 88.3h0M537.7 70.2h0M537.8 87.7h0M537.8 90.7h0M537.8 73.1h0M537.9 90.9h0M537.9 101.9h0M537.9 77.6h0M538.0 55.5h0M538.1 95.2h0M538.2 78.6h0M538.2 71.0h0M538.3 72.4h0M538.3 88.9h0M538.4 73.7h0M538.5 69.0h0M538.5 71.7h0M538.6 66.9h0M538.7 88.7h0M538.8 82.6h0M538.9 59.2h0M538.9 73.3h0M538.9 77.7h0M539.0 92.3h0M539.0 72.5h0M539.0 86.4h0M539.1 81.6h0M539.3 93.0h0M539.4 75.8h0M539.5 67.3h0M539.5 75.7h0M539.6 67.2h0M539.7 82.1h0M539.7 77.3h0M539.8 71.2h0M539.8 79.2h0M540.1 66.6h0M540.2 70.5h0M540.2 56.1h0M540.2 86.4h0M540.2 82.7h0M540.3 79.6h0M540.3 67.0h0M540.3 81.0h0M540.5 73.4h0M540.5 53.3h0M540.8 86.8h0M540.8 84.6h0M540.8 65.3h0M540.8 82.5h0M540.8 78.8h0M540.9 74.4h0M541.0 76.1h0M541.1 83.9h0M541.1 87.6h0M541.1 84.7h0M541.1 89.7h0M541.1 86.6h0M541.1 78.0h0M541.3 90.2h0M541.3 80.0h0M541.4 90.7h0M541.4 55.3h0M541.6 76.5h0M541.7 75.4h0M541.9 96.4h0M541.9 49.3h0M541.9 69.8h0M542.0 75.9h0M542.0 56.8h0M542.0 86.9h0M542.1 75.2h0M542.1 81.7h0M542.1 86.8h0M542.2 79.5h0M542.3 69.5h0M542.4 78.9h0M542.5 78.2h0M542.5 74.8h0M542.5 67.3h0M542.5 64.9h0M542.6 87.7h0M542.6 72.9h0M542.6 69.2h0M542.7 75.1h0M542.7 68.4h0M542.8 83.5h0M542.9 75.2h0M542.9 73.9h0M543.0 76.4h0M543.0 74.8h0M543.0 68.5h0M543.1 67.0h0M543.2 71.8h0M543.2 82.7h0M543.3 79.6h0M543.3 74.8h0M543.4 59.7h0M543.4 88.9h0M543.5 68.7h0M543.5 86.1h0M543.6 80.3h0M543.6 75.8h0M543.7 68.2h0M543.7 66.9h0M543.8 75.5h0M543.8 83.6h0M543.9 69.2h0M543.9 69.2h0M543.9 68.4h0M543.9 78.6h0M543.9 83.0h0M544.0 68.8h0M544.0 68.1h0M544.1 82.5h0M544.1 70.1h0M544.1 76.4h0M544.2 83.0h0M544.2 72.4h0M544.2 69.7h0M544.2 77.0h0M544.2 71.2h0M544.3 65.0h0M544.4 67.8h0M544.4 79.9h0M544.5 64.2h0M544.5 77.2h0M544.6 77.1h0M544.8 70.6h0M544.8 75.2h0M544.8 75.4h0M544.9 66.9h0M544.9 67.1h0M545.0 65.0h0M545.0 79.5h0M545.0 91.7h0M545.1 64.8h0M545.1 74.8h0M545.1 64.3h0M545.2 73.3h0M545.2 79.0h0M545.3 65.8h0M545.5 62.9h0M545.5 76.7h0M545.8 68.0h0M545.8 65.0h0M545.9 81.9h0M546.0 76.4h0M546.1 62.3h0M546.1 69.5h0M546.3 73.5h0M546.3 73.5h0M546.4 79.7h0M546.5 52.8h0M546.5 75.6h0M546.6 88.4h0M546.7 48.4h0M546.7 66.5h0M546.7 70.6h0M546.7 69.1h0M546.8 71.4h0M546.8 74.9h0M546.8 61.9h0M546.8 74.0h0M546.9 80.9h0M546.9 50.1h0M546.9 70.2h0M547.0 73.0h0M547.2 72.6h0M547.2 80.9h0M547.2 73.7h0M547.3 56.0h0M547.3 71.3h0M547.4 67.3h0M547.4 69.6h0M547.5 57.1h0M547.7 69.0h0M547.7 60.6h0M547.7 65.6h0M547.8 65.7h0M547.8 61.7h0M547.9 61.0h0M548.0 50.2h0M548.0 72.9h0M548.0 58.4h0M548.0 69.7h0M548.0 74.1h0M548.1 66.1h0M548.1 69.3h0M548.2 61.2h0M548.3 61.8h0M548.3 62.6h0M548.4 58.2h0M548.4 55.9h0M548.4 86.3h0M548.5 64.2h0M548.5 60.9h0M548.6 54.9h0M548.6 55.1h0M548.6 59.8h0M548.6 58.9h0M548.6 56.4h0M548.7 44.9h0M548.7 73.4h0M548.7 72.3h0M548.7 37.1h0M548.7 64.3h0M548.8 56.5h0M548.9 44.9h0M548.9 59.2h0M549.0 79.8h0M549.1 72.8h0M549.1 49.2h0M549.2 49.0h0M549.2 65.0h0M549.3 53.5h0M549.4 61.4h0M549.4 71.3h0M549.5 54.2h0M549.5 61.6h0M549.6 68.1h0M549.8 50.3h0M549.9 68.1h0M549.9 62.2h0M549.9 42.8h0M549.9 52.4h0M550.0 50.8h0M550.0 39.3h0M550.0 36.2h0M550.1 74.4h0M550.1 49.5h0M550.2 78.7h0M550.3 66.4h0M550.4 79.5h0M550.4 64.7h0M550.5 68.1h0M550.5 64.0h0M550.5 49.9h0M550.5 44.4h0M550.5 64.7h0M550.6 59.8h0M550.6 65.7h0M550.7 77.8h0M550.8 60.2h0M550.8 78.2h0M550.8 44.7h0M550.8 55.2h0M550.9 61.0h0M550.9 57.3h0M551.0 47.5h0M551.0 68.9h0M551.1 56.5h0M551.2 54.2h0M551.2 37.7h0M551.3 49.6h0M551.5 45.8h0M551.5 52.5h0M551.5 54.3h0M551.5 45.6h0M551.5 55.7h0M551.6 78.4h0M551.8 71.7h0M551.9 39.8h0M551.9 48.1h0M552.1 55.1h0M552.3 49.0h0M552.4 62.8h0M552.4 67.9h0M552.5 72.8h0M552.5 67.1h0M552.5 63.8h0M552.6 57.2h0M552.6 66.4h0M552.6 61.8h0M552.6 54.3h0M552.7 56.9h0M552.7 46.3h0M552.8 55.4h0M552.8 62.4h0M552.9 45.5h0M553.0 54.8h0M553.0 50.3h0M553.1 43.0h0M553.1 62.6h0M553.2 53.2h0M553.2 60.0h0M553.4 56.6h0M553.5 55.1h0M553.6 55.5h0M553.6 75.1h0M553.6 60.7h0M553.7 56.3h0M553.8 45.1h0M553.8 58.1h0M553.8 81.8h0M553.8 49.0h0M553.8 55.6h0M553.8 49.9h0M553.8 62.1h0M553.9 61.1h0M553.9 58.7h0M554.0 47.4h0M554.2 51.7h0M554.2 53.6h0M554.3 66.8h0M554.3 58.8h0M554.5 67.7h0M554.6 58.4h0M554.6 64.7h0M554.7 55.0h0M554.8 58.5h0M554.8 52.9h0M555.0 54.0h0M555.0 65.4h0M555.2 70.3h0M555.2 43.5h0M555.2 55.1h0M555.2 57.6h0M555.3 69.9h0M555.3 53.8h0M555.4 64.1h0M555.4 41.9h0M555.5 45.5h0M555.5 54.5h0M555.7 50.6h0M555.7 28.8h0M555.7 54.4h0M555.8 61.7h0M555.8 74.8h0M555.8 40.7h0M555.9 67.3h0M556.0 51.7h0M556.0 72.8h0M556.1 52.2h0M556.2 70.2h0M556.3 36.8h0M556.3 49.8h0M556.4 64.1h0M556.6 60.4h0M556.7 63.1h0M556.9 63.0h0M557.1 55.0h0M557.1 47.7h0M557.1 62.8h0M557.1 60.5h0M557.2 72.6h0M557.3 31.7h0M557.3 73.3h0M557.4 49.2h0M557.5 54.0h0M557.7 57.1h0M557.8 58.9h0M557.9 76.6h0M557.9 64.9h0M558.1 62.3h0M558.2 46.6h0M558.2 60.8h0M558.3 68.0h0M558.3 71.1h0M558.3 56.2h0M558.4 54.4h0M558.6 54.8h0M558.7 47.6h0M558.7 55.7h0M558.8 75.5h0M558.8 63.4h0M558.9 34.5h0M558.9 45.3h0M558.9 53.9h0M559.0 52.9h0M559.0 47.3h0M559.0 67.9h0M559.1 67.9h0M559.1 68.6h0M559.2 68.8h0M559.3 54.4h0M559.3 71.3h0M559.4 51.7h0M559.5 57.1h0M559.5 54.3h0M559.5 46.8h0M559.6 42.5h0M559.6 65.8h0M559.6 63.0h0M559.6 44.6h0M559.7 58.4h0M559.7 68.4h0M559.7 62.0h0M559.7 58.7h0M559.7 45.3h0M559.7 65.9h0M559.8 39.7h0M559.8 57.8h0M559.8 54.7h0M559.8 39.8h0M559.9 56.8h0M559.9 61.9h0M560.0 46.7h0M560.0 43.3h0M560.0 45.9h0M560.0 33.0h0M560.1 49.4h0M560.1 58.6h0M560.2 49.3h0M560.3 53.6h0M560.3 53.3h0M560.3 58.7h0M560.4 65.8h0M560.4 55.6h0M560.4 47.8h0M560.8 63.5h0M560.9 40.2h0M561.0 56.0h0M561.0 69.4h0M561.0 47.2h0M561.1 50.7h0M561.1 36.6h0M561.2 48.3h0M561.2 44.1h0M561.2 49.6h0M561.4 60.3h0M561.4 56.1h0M561.4 42.2h0M561.6 49.0h0M561.7 52.0h0M561.7 66.8h0M561.7 59.8h0M561.8 35.2h0M561.8 28.9h0M561.8 36.8h0M561.9 56.7h0M561.9 52.9h0M562.0 45.9h0M562.1 43.0h0M562.1 44.5h0M562.2 43.6h0M562.2 44.7h0M562.2 44.7h0M562.4 56.6h0M562.4 32.5h0M562.4 62.7h0M562.5 49.7h0M562.6 51.4h0M562.6 55.4h0M562.6 64.7h0M562.7 57.7h0M562.7 35.2h0M562.8 57.7h0M562.8 48.0h0M562.8 49.9h0M562.9 31.5h0M563.0 50.0h0M563.0 47.6h0M563.1 43.8h0M563.2 33.8h0M563.2 33.8h0M563.3 41.1h0M563.3 48.3h0M563.4 51.5h0M563.4 53.6h0M563.4 38.1h0M563.5 61.0h0M563.5 28.8h0M563.5 20.4h0M563.5 37.4h0M563.5 43.8h0M563.6 38.9h0M563.7 36.7h0M563.9 50.5h0M563.9 47.2h0M563.9 41.7h0M564.1 33.9h0M564.1 52.6h0M564.1 14.2h0M564.2 49.7h0M564.2 57.9h0M564.2 35.5h0M564.2 38.7h0M564.3 49.9h0M564.3 43.7h0M564.5 50.3h0M564.5 20.2h0M564.6 46.1h0M564.7 36.3h0M564.7 33.1h0M564.9 45.7h0M565.0 32.8h0M565.0 17.1h0M565.1 28.3h0M565.1 52.3h0M565.2 32.2h0M565.2 42.8h0M565.2 31.2h0M565.3 43.1h0M565.3 33.7h0M565.3 31.4h0M565.4 37.1h0M565.4 39.6h0M565.5 38.2h0M565.6 37.8h0M565.6 48.6h0M565.7 39.0h0M566.0 41.5h0M566.2 40.0h0M566.2 42.7h0M566.2 37.2h0M566.3 47.1h0M566.3 44.5h0M566.3 41.7h0M566.3 31.7h0M566.3 39.7h0M566.4 33.6h0M566.5 44.7h0M566.5 39.8h0M566.6 36.4h0M566.6 37.3h0M566.6 32.0h0M566.7 47.7h0M566.8 49.4h0M566.9 30.3h0M566.9 41.6h0M566.9 34.0h0M567.0 25.3h0M567.0 49.3h0M567.2 41.1h0M567.2 42.5h0M567.2 58.5h0M567.5 46.6h0M567.5 52.9h0M567.5 35.4h0M567.5 45.2h0M567.6 45.8h0M567.7 29.6h0M567.7 39.1h0M567.8 37.3h0M567.8 30.4h0M567.8 26.6h0M567.8 55.4h0M567.9 65.4h0M567.9 45.4h0M567.9 57.0h0M568.1 36.0h0M568.2 40.8h0M568.2 42.4h0M568.3 48.3h0M568.3 55.7h0M568.4 39.7h0M568.5 16.5h0M568.5 43.4h0M568.5 32.5h0M568.6 64.4h0M568.6 49.8h0M568.7 39.6h0M568.8 45.4h0M568.9 38.7h0M568.9 36.6h0M568.9 50.6h0M568.9 63.8h0M568.9 60.0h0M568.9 27.2h0M568.9 50.5h0M569.0 43.7h0M569.0 33.4h0M569.1 58.3h0M569.1 31.7h0M569.2 49.8h0M569.2 43.1h0M569.3 50.0h0M569.3 40.1h0M569.4 55.0h0M569.4 51.4h0M569.5 42.1h0M569.5 56.0h0M569.6 48.2h0M569.6 25.9h0M569.6 32.7h0M569.7 19.9h0M569.8 36.7h0M569.8 41.3h0M569.8 20.6h0M569.9 28.2h0M570.1 61.7h0M570.2 55.2h0M570.2 48.7h0M570.3 71.5h0M570.4 61.3h0M570.6 38.6h0M570.6 33.0h0M570.7 65.3h0M570.8 45.6h0M570.8 45.6h0M570.8 37.2h0M570.9 39.5h0M570.9 45.5h0M571.0 32.6h0M571.2 56.4h0M571.2 53.2h0M571.3 55.4h0M571.3 52.7h0M571.4 23.2h0M571.5 54.3h0M571.5 43.2h0M571.8 46.8h0M571.8 49.1h0M571.9 23.0h0M572.1 47.0h0M572.1 47.4h0M572.1 31.4h0M572.2 33.1h0M572.2 52.4h0M572.4 46.4h0M572.4 40.6h0M572.5 40.5h0M572.5 45.5h0M572.6 39.5h0M572.7 47.7h0M572.7 22.5h0M572.8 39.8h0M573.0 38.2h0M573.1 49.7h0M573.2 33.6h0M573.2 31.6h0M573.4 53.6h0M573.5 35.8h0M573.5 31.1h0M573.6 51.7h0M573.8 44.2h0M573.8 38.3h0M573.9 43.3h0M573.9 32.9h0M573.9 46.1h0M574.1 57.7h0M574.2 39.4h0M574.2 45.1h0M574.2 45.8h0M574.2 29.4h0M574.4 59.7h0M574.5 50.3h0M574.7 35.9h0M574.8 54.1h0M574.9 60.6h0M574.9 33.3h0M575.0 27.9h0M575.0 54.1h0M575.1 43.9h0M575.1 40.1h0M575.1 38.6h0M575.2 19.9h0M575.2 42.3h0M575.2 36.8h0M575.3 35.7h0M575.3 54.2h0M575.3 36.3h0M575.3 49.6h0M575.5 34.7h0M575.6 32.7h0M575.6 42.6h0M575.6 56.8h0M575.7 65.5h0M575.7 50.4h0M575.8 38.8h0M575.8 53.2h0M575.9 50.1h0M575.9 42.4h0M576.0 30.7h0M576.0 39.3h0M576.0 46.0h0M576.1 57.1h0M576.1 37.9h0M576.1 36.7h0M576.2 43.7h0M576.2 44.0h0M576.7 46.4h0M576.7 52.7h0M576.8 39.7h0M576.9 45.4h0M576.9 35.9h0M576.9 39.1h0M577.1 17.6h0M577.3 42.8h0M577.4 30.7h0M577.8 37.4h0M577.9 54.2h0M577.9 31.0h0M578.0 37.4h0M578.0 47.0h0M578.1 37.5h0M578.1 48.4h0M578.1 45.7h0M578.3 61.2h0M578.4 42.6h0M578.4 42.2h0M578.6 35.8h0M578.6 38.2h0M578.6 43.5h0M578.6 37.2h0M578.7 38.8h0M578.8 42.6h0M578.8 40.2h0M578.9 33.2h0M579.1 30.9h0M579.1 32.7h0M579.4 58.2h0M579.5 37.5h0M579.5 54.1h0M579.7 45.1h0M579.8 36.9h0M579.8 52.1h0M579.9 60.1h0M579.9 60.5h0M580.0 38.3h0M580.1 64.3h0M580.2 39.2h0M580.2 33.4h0M580.3 54.5h0M580.4 41.8h0M580.4 36.7h0M580.5 33.9h0M580.5 29.9h0M580.5 54.2h0M580.6 46.4h0M580.6 43.8h0M580.6 38.3h0M580.7 42.4h0M581.0 45.2h0M581.0 44.9h0M581.1 39.4h0M581.2 46.7h0M581.3 47.4h0M581.3 31.6h0M581.3 40.7h0M581.4 48.0h0M581.4 35.5h0M581.5 48.9h0M581.6 23.0h0M581.6 28.5h0M581.6 35.2h0M581.6 47.2h0M581.6 28.3h0M581.6 30.9h0M581.7 53.9h0M581.8 45.7h0M581.8 53.7h0M581.9 35.4h0M582.1 38.5h0M582.1 37.5h0M582.2 45.3h0M582.2 40.9h0M582.2 43.6h0M582.3 40.4h0M582.3 39.7h0M582.3 33.4h0M582.3 45.5h0M582.4 35.2h0M582.4 41.2h0M582.5 32.6h0M582.5 40.4h0M582.5 53.4h0M582.5 38.9h0M582.6 54.7h0M582.6 19.6h0M582.7 28.5h0M582.7 41.4h0M582.8 42.2h0M582.8 42.0h0M582.8 36.2h0M582.8 33.5h0M582.9 40.5h0M582.9 33.0h0M583.0 49.8h0M583.0 40.6h0M583.0 38.1h0M583.1 40.7h0M583.1 35.7h0M583.2 48.4h0M583.3 36.9h0M583.5 41.2h0M583.6 36.6h0M583.6 41.8h0M583.6 32.8h0M583.7 27.6h0M583.7 35.6h0M583.7 39.4h0M583.7 38.7h0M583.7 43.1h0M583.7 35.7h0M583.8 35.0h0M584.0 35.2h0M584.1 42.4h0M584.1 34.8h0M584.1 24.9h0M584.2 27.5h0M584.2 45.6h0M584.3 31.1h0M584.3 43.2h0M584.3 33.9h0M584.3 34.5h0M584.4 21.1h0M584.5 31.8h0M584.5 36.4h0M584.5 27.6h0M584.6 29.6h0M584.7 15.6h0M584.7 31.6h0M584.7 22.9h0M584.8 30.5h0M584.8 15.8h0M584.9 27.5h0M584.9 27.6h0M584.9 18.7h0M584.9 33.7h0M585.1 27.7h0M585.1 36.1h0M585.1 36.2h0M585.2 35.7h0M585.4 38.0h0M585.7 25.5h0M585.7 23.9h0M585.7 28.2h0M585.8 32.0h0M586.0 27.2h0M586.0 30.7h0M586.1 30.9h0M586.1 39.2h0M586.1 29.7h0M586.1 40.1h0M586.2 31.7h0M586.2 33.4h0M586.4 28.0h0M586.5 31.5h0M586.6 35.3h0M586.7 43.8h0M586.7 34.5h0M586.8 20.2h0M586.8 28.6h0M586.9 28.7h0M587.0 18.9h0M587.0 27.5h0M587.2 36.8h0M587.2 26.9h0M587.2 37.5h0M587.3 23.9h0M587.6 37.5h0M587.7 35.1h0M587.8 30.2h0M587.9 41.0h0M587.9 31.7h0M587.9 31.6h0M587.9 37.5h0M587.9 27.4h0M588.0 32.0h0M588.0 30.1h0M588.0 31.1h0M588.0 40.8h0M588.1 45.4h0M588.3 37.9h0M588.3 20.8h0M588.3 40.4h0M588.3 28.4h0M588.4 35.1h0M588.4 37.6h0M588.5 26.7h0M588.6 43.3h0M588.8 26.2h0M588.9 36.5h0M588.9 33.3h0M588.9 25.5h0M588.9 34.7h0M589.0 16.3h0M589.0 37.2h0M589.0 27.5h0M589.0 27.2h0M589.1 36.6h0M589.2 32.9h0M589.2 39.6h0M589.2 26.3h0M589.4 29.1h0M589.4 40.6h0M589.5 35.6h0M589.5 35.5h0M589.5 39.9h0M589.5 23.1h0M589.5 26.6h0M589.6 33.6h0M589.6 26.5h0M589.7 41.2h0M589.7 27.4h0M589.7 41.3h0M589.7 42.7h0M589.7 49.1h0M589.8 24.8h0M589.8 31.0h0M589.9 31.0h0M589.9 33.2h0M590.0 45.3h0M590.0 20.0h0M590.0 21.1h0M590.0 31.7h0M590.0 31.5h0M590.2 29.9h0M590.2 13.1h0M590.2 32.0h0M590.3 29.4h0M590.4 30.4h0M590.4 29.7h0M590.5 40.5h0M590.6 33.4h0M590.6 38.4h0M590.6 31.7h0M590.7 28.6h0M590.7 32.2h0M590.7 19.2h0M590.8 30.0h0M590.9 35.1h0M591.0 43.6h0M591.0 25.2h0M591.0 31.2h0M591.1 37.8h0M591.1 23.1h0M591.2 34.4h0M591.2 32.9h0M591.3 19.2h0M591.3 25.5h0M591.4 28.3h0M591.5 20.4h0M591.5 33.0h0M591.6 42.9h0M591.6 41.3h0M591.6 41.6h0M591.7 31.0h0M592.1 22.4h0M592.2 28.8h0M592.2 22.1h0M592.3 28.5h0M592.3 28.4h0M592.4 31.8h0M592.4 21.5h0M592.6 30.6h0M592.8 39.9h0M592.8 23.8h0M592.8 30.5h0M592.8 42.4h0M592.9 52.3h0M592.9 25.8h0M593.0 37.0h0M593.1 28.3h0M593.1 28.5h0M593.1 27.4h0M593.3 39.5h0M593.5 21.4h0M593.6 26.8h0M593.6 23.6h0M593.6 17.4h0M593.6 23.2h0M593.6 28.9h0M593.6 34.6h0M593.6 39.8h0M593.8 31.8h0M593.8 25.5h0M593.9 37.1h0M593.9 27.0h0M594.0 33.3h0M594.0 40.7h0M594.1 34.4h0M594.1 29.5h0M594.3 32.2h0M594.3 23.9h0M594.3 42.5h0M594.6 24.1h0M594.6 26.7h0M594.6 22.9h0M594.6 26.0h0M594.7 26.1h0M594.8 25.6h0M594.8 46.4h0M594.9 26.9h0M595.0 25.4h0M595.0 33.5h0M595.1 26.1h0M595.1 14.8h0M595.3 47.2h0M595.3 39.7h0M595.3 25.6h0M595.5 29.3h0M595.5 28.9h0M595.5 47.4h0M595.6 29.2h0M595.6 20.9h0M595.7 35.6h0M595.7 36.0h0M595.8 29.1h0M595.8 36.7h0M595.9 25.1h0M595.9 38.1h0M595.9 43.0h0M595.9 30.2h0M596.0 30.7h0M596.2 29.1h0M596.2 37.2h0M596.2 27.8h0M596.3 25.8h0M596.4 26.7h0M596.5 28.3h0M596.6 28.5h0M596.8 28.1h0M596.8 32.4h0M596.8 11.5h0M596.8 36.3h0M596.9 31.2h0M596.9 26.4h0M596.9 42.2h0M596.9 23.3h0M596.9 34.8h0M597.0 32.7h0M597.0 18.3h0M597.1 17.2h0M597.1 43.0h0M597.1 27.3h0M597.2 22.7h0M597.2 14.8h0M597.2 25.3h0M597.3 38.0h0M597.3 11.3h0M597.4 27.0h0M597.4 31.1h0M597.5 38.9h0M597.5 27.6h0M597.7 29.9h0M597.7 49.5h0M597.8 45.2h0M597.8 37.0h0M597.9 29.6h0M597.9 28.2h0M598.0 39.3h0M598.1 27.0h0M598.1 22.9h0M598.1 15.0h0M598.2 41.4h0M598.3 29.3h0M598.4 43.5h0M598.5 38.1h0M598.5 39.1h0M598.6 32.9h0M598.6 21.4h0M598.6 35.4h0M598.8 38.8h0M598.9 23.1h0M599.0 28.3h0M599.0 28.4h0M599.1 34.1h0M599.1 29.1h0M599.2 46.4h0M599.2 35.2h0M599.2 35.5h0M599.3 37.4h0M599.3 25.4h0M599.4 37.3h0M599.4 30.4h0M599.5 33.8h0M599.5 28.2h0M599.6 26.8h0M599.6 25.4h0M599.8 36.8h0M599.8 27.0h0M599.9 30.5h0M600.0 16.8h0M600.0 30.9h0M600.1 32.5h0M600.1 36.6h0M600.2 40.5h0M600.2 39.4h0M600.2 26.3h0M600.2 49.4h0M600.2 30.1h0M600.3 32.5h0M600.4 31.9h0M600.6 27.6h0M600.6 29.8h0M368.7 34.3h0M433.2 142.5h0M437.3 136.2h0M450.4 43.3h0M443.5 138.5h0M532.0 127.3h0M532.0 123.7h0M569.7 93.8h0M569.7 87.1h0M569.7 80.4h0M569.7 73.7h0M597.2 53.5h0M589.6 12.4h0M422.2 134.0h0M422.2 129.5h0M421.6 131.8h0M421.6 127.3h0M421.6 122.8h0M435.3 134.0h0M441.4 131.8h0M449.7 138.5h0M460.0 129.5h0M414.0 31.2h0M394.1 37.9h0M404.4 35.7h0M419.3 109.7h0M419.3 125.4h0M419.1 114.0h0M419.9 123.1h0M419.2 126.4h0M419.1 107.8h0M419.3 111.5h0M419.8 122.3h0M428.6 110.1h0M429.0 124.5h0M428.3 122.5h0M427.9 133.1h0M428.5 132.6h0M428.5 109.6h0M434.8 112.2h0M434.7 122.7h0M434.7 127.4h0M434.7 125.3h0M434.1 127.6h0M434.8 136.1h0M434.7 139.1h0M434.9 130.1h0M439.0 130.4h0M439.8 134.6h0M439.2 111.1h0M440.1 111.3h0M439.3 114.1h0M439.0 110.6h0M444.2 124.3h0M444.1 121.3h0M444.0 126.2h0M444.0 119.5h0M444.0 135.3h0M444.5 127.3h0M448.8 120.1h0M448.9 121.5h0M448.3 122.2h0M449.5 112.1h0M449.0 117.1h0M454.8 125.8h0M454.8 125.8h0M454.9 120.8h0M455.3 118.7h0M421.2 50.6h0M421.7 48.7h0M421.4 45.3h0M426.4 46.5h0M426.1 59.8h0M426.3 53.8h0M431.0 60.1h0M431.4 55.8h0M431.2 51.1h0M435.8 53.8h0M436.5 56.6h0M570.0 83.7h0M569.7 72.6h0M569.9 76.8h0M569.6 89.3h0M570.0 80.9h0M570.0 94.7h0M569.5 95.3h0M569.2 88.6h0M569.4 77.5h0M531.2 126.6h0M531.1 117.8h0M531.4 116.5h0M531.4 120.3h0M531.3 114.8h0" stroke="#0202d0" stroke-width="2.75" stroke-linecap="round" fill="none"/>
<line x1="360.5" x2="360.5" y1="96.0" y2="98.6" stroke="#2a2a2a" stroke-width="1"/>
<text x="360.5" y="108.5" text-anchor="middle" font-size="7" style="fill:#111;stroke:#111;stroke-width:0.2px">0</text>
<line x1="394.8" x2="394.8" y1="96.0" y2="98.6" stroke="#2a2a2a" stroke-width="1"/>
<text x="394.8" y="108.5" text-anchor="middle" font-size="7" style="fill:#111;stroke:#111;stroke-width:0.2px">5</text>
<line x1="429.1" x2="429.1" y1="96.0" y2="98.6" stroke="#2a2a2a" stroke-width="1"/>
<text x="429.1" y="108.5" text-anchor="middle" font-size="7" style="fill:#111;stroke:#111;stroke-width:0.2px">10</text>
<line x1="463.4" x2="463.4" y1="96.0" y2="98.6" stroke="#2a2a2a" stroke-width="1"/>
<text x="463.4" y="108.5" text-anchor="middle" font-size="7" style="fill:#111;stroke:#111;stroke-width:0.2px">15</text>
<line x1="497.7" x2="497.7" y1="96.0" y2="98.6" stroke="#2a2a2a" stroke-width="1"/>
<text x="497.7" y="108.5" text-anchor="middle" font-size="7" style="fill:#111;stroke:#111;stroke-width:0.2px">20</text>
<line x1="532.0" x2="532.0" y1="96.0" y2="98.6" stroke="#2a2a2a" stroke-width="1"/>
<text x="532.0" y="108.5" text-anchor="middle" font-size="7" style="fill:#111;stroke:#111;stroke-width:0.2px">25</text>
<line x1="566.3" x2="566.3" y1="96.0" y2="98.6" stroke="#2a2a2a" stroke-width="1"/>
<text x="566.3" y="108.5" text-anchor="middle" font-size="7" style="fill:#111;stroke:#111;stroke-width:0.2px">30</text>
<line x1="600.6" x2="600.6" y1="96.0" y2="98.6" stroke="#2a2a2a" stroke-width="1"/>
<text x="600.6" y="108.5" text-anchor="middle" font-size="7" style="fill:#111;stroke:#111;stroke-width:0.2px">35</text>
<line x1="360.3" x2="360.3" y1="6.0" y2="186.0" stroke="#2a2a2a" stroke-width="1.4"/>
<line x1="357.3" x2="360.3" y1="6.6" y2="6.6" stroke="#2a2a2a" stroke-width="1.2"/>
<text x="354.5" y="10.1" text-anchor="end" font-size="11" class="tk">2</text>
<line x1="357.3" x2="360.3" y1="28.9" y2="28.9" stroke="#2a2a2a" stroke-width="1.2"/>
<text x="354.5" y="32.4" text-anchor="end" font-size="11" class="tk">1.5</text>
<line x1="357.3" x2="360.3" y1="51.3" y2="51.3" stroke="#2a2a2a" stroke-width="1.2"/>
<text x="354.5" y="54.8" text-anchor="end" font-size="11" class="tk">1</text>
<line x1="357.3" x2="360.3" y1="73.7" y2="73.7" stroke="#2a2a2a" stroke-width="1.2"/>
<text x="354.5" y="77.2" text-anchor="end" font-size="11" class="tk">0.5</text>
<line x1="357.3" x2="360.3" y1="96.0" y2="96.0" stroke="#2a2a2a" stroke-width="1.2"/>
<text x="354.5" y="99.5" text-anchor="end" font-size="11" class="tk">0</text>
<line x1="357.3" x2="360.3" y1="118.3" y2="118.3" stroke="#2a2a2a" stroke-width="1.2"/>
<text x="354.5" y="121.8" text-anchor="end" font-size="11" class="tk">-0.5</text>
<line x1="357.3" x2="360.3" y1="140.7" y2="140.7" stroke="#2a2a2a" stroke-width="1.2"/>
<text x="354.5" y="144.2" text-anchor="end" font-size="11" class="tk">-1</text>
<line x1="357.3" x2="360.3" y1="163.1" y2="163.1" stroke="#2a2a2a" stroke-width="1.2"/>
<text x="354.5" y="166.6" text-anchor="end" font-size="11" class="tk">-1.5</text>
<line x1="357.3" x2="360.3" y1="185.4" y2="185.4" stroke="#2a2a2a" stroke-width="1.2"/>
<text x="354.5" y="188.9" text-anchor="end" font-size="11" class="tk">-2</text>
<text x="366.7" y="21.7" font-size="16" font-weight="bold">D</text>
<text transform="translate(328.2,153.6) rotate(-90)" font-size="12.9" font-weight="bold">ppm deviation</text>
<text x="485.2" y="200.4" text-anchor="middle" font-size="12.9" font-weight="bold">minutes</text>
<rect x="36.5" y="226.0" width="259.2" height="167.0" fill="#b6c6c5"/>
<path d="M36.5 226.0H295.7V393.0H36.5" fill="none" stroke="#6f7676" stroke-width="1.3"/>
<line x1="36.5" x2="295.7" y1="309.5" y2="309.5" stroke="#262626" stroke-width="1.5"/>
<line x1="36.5" x2="36.5" y1="225.4" y2="393.6" stroke="#2a2a2a" stroke-width="1.4"/>
<line x1="33.5" x2="36.5" y1="226.0" y2="226.0" stroke="#2a2a2a" stroke-width="1.2"/>
<text x="31.0" y="229.9" text-anchor="end" font-size="11" class="tk">2</text>
<line x1="33.5" x2="36.5" y1="309.5" y2="309.5" stroke="#2a2a2a" stroke-width="1.2"/>
<text x="31.0" y="313.4" text-anchor="end" font-size="11" class="tk">1</text>
<line x1="33.5" x2="36.5" y1="393.0" y2="393.0" stroke="#2a2a2a" stroke-width="1.2"/>
<text x="31.0" y="396.9" text-anchor="end" font-size="11" class="tk">0</text>
<line x1="35.9" x2="295.7" y1="393.0" y2="393.0" stroke="#2a2a2a" stroke-width="1.4"/>
<line x1="36.4" x2="36.4" y1="393.0" y2="395.6" stroke="#2a2a2a" stroke-width="1.2"/>
<text x="36.4" y="406.9" text-anchor="middle" font-size="11" class="tk">0</text>
<line x1="72.5" x2="72.5" y1="393.0" y2="395.6" stroke="#2a2a2a" stroke-width="1.2"/>
<text x="72.5" y="406.9" text-anchor="middle" font-size="11" class="tk">5</text>
<line x1="108.6" x2="108.6" y1="393.0" y2="395.6" stroke="#2a2a2a" stroke-width="1.2"/>
<text x="108.6" y="406.9" text-anchor="middle" font-size="11" class="tk">10</text>
<line x1="144.7" x2="144.7" y1="393.0" y2="395.6" stroke="#2a2a2a" stroke-width="1.2"/>
<text x="144.7" y="406.9" text-anchor="middle" font-size="11" class="tk">15</text>
<line x1="180.8" x2="180.8" y1="393.0" y2="395.6" stroke="#2a2a2a" stroke-width="1.2"/>
<text x="180.8" y="406.9" text-anchor="middle" font-size="11" class="tk">20</text>
<line x1="216.9" x2="216.9" y1="393.0" y2="395.6" stroke="#2a2a2a" stroke-width="1.2"/>
<text x="216.9" y="406.9" text-anchor="middle" font-size="11" class="tk">25</text>
<line x1="253.0" x2="253.0" y1="393.0" y2="395.6" stroke="#2a2a2a" stroke-width="1.2"/>
<text x="253.0" y="406.9" text-anchor="middle" font-size="11" class="tk">30</text>
<line x1="289.1" x2="289.1" y1="393.0" y2="395.6" stroke="#2a2a2a" stroke-width="1.2"/>
<text x="289.1" y="406.9" text-anchor="middle" font-size="11" class="tk">35</text>
<line x1="35.0" x2="44.0" y1="309.5" y2="309.5" stroke="#0202d0" stroke-width="2.6"/>
<line x1="42.9" x2="42.9" y1="308.2" y2="394.3" stroke="#0202d0" stroke-width="3.0"/>
<line x1="40.7" x2="60.2" y1="393.0" y2="393.0" stroke="#0202d0" stroke-width="2.6"/>
<line x1="58.1" x2="58.1" y1="394.3" y2="308.2" stroke="#0202d0" stroke-width="4.4"/>
<line x1="55.9" x2="289.5" y1="309.5" y2="309.5" stroke="#0202d0" stroke-width="2.6"/>
<line x1="250.8" x2="250.8" y1="309.5" y2="393.0" stroke="#0202d0" stroke-width="1.1"/>
<text x="44.6" y="243.5" font-size="16" font-weight="bold">B</text>
<text transform="translate(11.2,414.6) rotate(-90)" font-size="12.82" font-weight="bold">number of internal lock masses</text>
<text x="168.3" y="422.3" text-anchor="middle" font-size="12.9" font-weight="bold">minutes</text>
<rect x="353.4" y="226.0" width="252.9" height="166.8" fill="#b6c6c5"/>
<path d="M353.4 226.0H606.3V392.8H353.4" fill="none" stroke="#6f7676" stroke-width="1.3"/>
<line x1="353.4" x2="606.3" y1="309.4" y2="309.4" stroke="#262626" stroke-width="1.5"/>
<line x1="353.4" x2="353.4" y1="225.4" y2="393.4" stroke="#2a2a2a" stroke-width="1.4"/>
<line x1="350.4" x2="353.4" y1="226.0" y2="226.0" stroke="#2a2a2a" stroke-width="1.2"/>
<text x="348.4" y="229.9" text-anchor="end" font-size="11" class="tk">2</text>
<line x1="350.4" x2="353.4" y1="309.4" y2="309.4" stroke="#2a2a2a" stroke-width="1.2"/>
<text x="348.4" y="313.3" text-anchor="end" font-size="11" class="tk">1</text>
<line x1="350.4" x2="353.4" y1="392.8" y2="392.8" stroke="#2a2a2a" stroke-width="1.2"/>
<text x="348.4" y="396.7" text-anchor="end" font-size="11" class="tk">0</text>
<line x1="352.8" x2="606.3" y1="392.8" y2="392.8" stroke="#2a2a2a" stroke-width="1.4"/>
<line x1="353.6" x2="353.6" y1="392.8" y2="395.4" stroke="#2a2a2a" stroke-width="1.2"/>
<text x="353.6" y="406.9" text-anchor="middle" font-size="11" class="tk">0</text>
<line x1="388.7" x2="388.7" y1="392.8" y2="395.4" stroke="#2a2a2a" stroke-width="1.2"/>
<text x="388.7" y="406.9" text-anchor="middle" font-size="11" class="tk">5</text>
<line x1="423.8" x2="423.8" y1="392.8" y2="395.4" stroke="#2a2a2a" stroke-width="1.2"/>
<text x="423.8" y="406.9" text-anchor="middle" font-size="11" class="tk">10</text>
<line x1="458.9" x2="458.9" y1="392.8" y2="395.4" stroke="#2a2a2a" stroke-width="1.2"/>
<text x="458.9" y="406.9" text-anchor="middle" font-size="11" class="tk">15</text>
<line x1="494.0" x2="494.0" y1="392.8" y2="395.4" stroke="#2a2a2a" stroke-width="1.2"/>
<text x="494.0" y="406.9" text-anchor="middle" font-size="11" class="tk">20</text>
<line x1="529.1" x2="529.1" y1="392.8" y2="395.4" stroke="#2a2a2a" stroke-width="1.2"/>
<text x="529.1" y="406.9" text-anchor="middle" font-size="11" class="tk">25</text>
<line x1="564.2" x2="564.2" y1="392.8" y2="395.4" stroke="#2a2a2a" stroke-width="1.2"/>
<text x="564.2" y="406.9" text-anchor="middle" font-size="11" class="tk">30</text>
<line x1="599.3" x2="599.3" y1="392.8" y2="395.4" stroke="#2a2a2a" stroke-width="1.2"/>
<text x="599.3" y="406.9" text-anchor="middle" font-size="11" class="tk">35</text>
<line x1="352.9" x2="599.7" y1="309.4" y2="309.4" stroke="#0202d0" stroke-width="2.6"/>
<rect x="358.0" y="309.4" width="3.8" height="83.4" fill="#0202d0" opacity="0.75"/>
<rect x="362.5" y="309.4" width="12.1" height="83.4" fill="#0202d0" opacity="1.0"/>
<path d="M365.9 310.4V391.8M369.0 310.4V391.8" stroke="#8c92d8" stroke-width="0.8" opacity="0.7" fill="none"/>
<line x1="387.7" x2="387.7" y1="309.4" y2="392.8" stroke="#0202d0" stroke-width="1.3"/>
<rect x="401.9" y="309.4" width="45.7" height="83.4" fill="#0202d0" opacity="1.0"/>
<path d="M413.2 310.4V391.8M407.4 310.4V391.8M420.2 310.4V391.8M409.7 310.4V391.8M405.8 310.4V391.8M420.4 310.4V391.8M443.0 310.4V391.8M437.9 310.4V391.8M436.3 310.4V391.8M412.6 310.4V391.8M426.4 310.4V391.8M415.0 310.4V391.8M410.4 310.4V391.8M407.5 310.4V391.8M412.3 310.4V391.8M443.4 310.4V391.8M439.1 310.4V391.8M438.1 310.4V391.8M437.9 310.4V391.8M411.4 310.4V391.8M416.4 310.4V391.8M430.3 310.4V391.8" stroke="#8c92d8" stroke-width="0.8" opacity="0.7" fill="none"/>
<rect x="449.9" y="309.4" width="6.1" height="83.4" fill="#0202d0" opacity="1.0"/>
<path d="M453.5 310.4V391.8M454.0 310.4V391.8" stroke="#8c92d8" stroke-width="0.8" opacity="0.7" fill="none"/>
<line x1="357.8" x2="374.7" y1="392.8" y2="392.8" stroke="#0202d0" stroke-width="2.4"/>
<line x1="401.9" x2="447.6" y1="392.8" y2="392.8" stroke="#0202d0" stroke-width="2.4"/>
<line x1="449.9" x2="456.0" y1="392.8" y2="392.8" stroke="#0202d0" stroke-width="2.4"/>
<circle cx="387.7" cy="392.8" r="1.3" fill="#0202d0"/>
<text x="361.5" y="243.3" font-size="16" font-weight="bold">E</text>
<text transform="translate(329.0,414.8) rotate(-90)" font-size="12.82" font-weight="bold">number of internal lock masses</text>
<text x="482.7" y="422.3" text-anchor="middle" font-size="12.9" font-weight="bold">minutes</text>
<rect x="40.1" y="451.2" width="255.6" height="172.1" fill="#b6c6c5"/>
<path d="M40.1 451.2H295.7V623.3H40.1" fill="none" stroke="#6f7676" stroke-width="1.3"/>
<line x1="40.1" x2="295.7" y1="607.7" y2="607.7" stroke="#262626" stroke-width="1.5"/>
<line x1="40.1" x2="295.7" y1="592.0" y2="592.0" stroke="#262626" stroke-width="1.5"/>
<line x1="40.1" x2="295.7" y1="576.4" y2="576.4" stroke="#262626" stroke-width="1.5"/>
<line x1="40.1" x2="295.7" y1="560.7" y2="560.7" stroke="#262626" stroke-width="1.5"/>
<line x1="40.1" x2="295.7" y1="545.1" y2="545.1" stroke="#262626" stroke-width="1.5"/>
<line x1="40.1" x2="295.7" y1="529.4" y2="529.4" stroke="#262626" stroke-width="1.5"/>
<line x1="40.1" x2="295.7" y1="513.8" y2="513.8" stroke="#262626" stroke-width="1.5"/>
<line x1="40.1" x2="295.7" y1="498.1" y2="498.1" stroke="#262626" stroke-width="1.5"/>
<line x1="40.1" x2="295.7" y1="482.5" y2="482.5" stroke="#262626" stroke-width="1.5"/>
<line x1="40.1" x2="295.7" y1="466.8" y2="466.8" stroke="#262626" stroke-width="1.5"/>
<line x1="40.1" x2="40.1" y1="450.6" y2="623.9" stroke="#2a2a2a" stroke-width="1.4"/>
<line x1="37.1" x2="40.1" y1="623.3" y2="623.3" stroke="#2a2a2a" stroke-width="1.2"/>
<text x="34.2" y="627.2" text-anchor="end" font-size="11" class="tk">0</text>
<line x1="37.1" x2="40.1" y1="607.7" y2="607.7" stroke="#2a2a2a" stroke-width="1.2"/>
<text x="34.2" y="611.6" text-anchor="end" font-size="11" class="tk">1</text>
<line x1="37.1" x2="40.1" y1="592.0" y2="592.0" stroke="#2a2a2a" stroke-width="1.2"/>
<text x="34.2" y="595.9" text-anchor="end" font-size="11" class="tk">2</text>
<line x1="37.1" x2="40.1" y1="576.4" y2="576.4" stroke="#2a2a2a" stroke-width="1.2"/>
<text x="34.2" y="580.3" text-anchor="end" font-size="11" class="tk">3</text>
<line x1="37.1" x2="40.1" y1="560.7" y2="560.7" stroke="#2a2a2a" stroke-width="1.2"/>
<text x="34.2" y="564.6" text-anchor="end" font-size="11" class="tk">4</text>
<line x1="37.1" x2="40.1" y1="545.1" y2="545.1" stroke="#2a2a2a" stroke-width="1.2"/>
<text x="34.2" y="549.0" text-anchor="end" font-size="11" class="tk">5</text>
<line x1="37.1" x2="40.1" y1="529.4" y2="529.4" stroke="#2a2a2a" stroke-width="1.2"/>
<text x="34.2" y="533.3" text-anchor="end" font-size="11" class="tk">6</text>
<line x1="37.1" x2="40.1" y1="513.8" y2="513.8" stroke="#2a2a2a" stroke-width="1.2"/>
<text x="34.2" y="517.7" text-anchor="end" font-size="11" class="tk">7</text>
<line x1="37.1" x2="40.1" y1="498.1" y2="498.1" stroke="#2a2a2a" stroke-width="1.2"/>
<text x="34.2" y="502.0" text-anchor="end" font-size="11" class="tk">8</text>
<line x1="37.1" x2="40.1" y1="482.5" y2="482.5" stroke="#2a2a2a" stroke-width="1.2"/>
<text x="34.2" y="486.4" text-anchor="end" font-size="11" class="tk">9</text>
<line x1="37.1" x2="40.1" y1="466.8" y2="466.8" stroke="#2a2a2a" stroke-width="1.2"/>
<text x="34.2" y="470.7" text-anchor="end" font-size="11" class="tk">10</text>
<line x1="37.1" x2="40.1" y1="451.2" y2="451.2" stroke="#2a2a2a" stroke-width="1.2"/>
<text x="34.2" y="455.1" text-anchor="end" font-size="11" class="tk">11</text>
<line x1="39.5" x2="295.7" y1="623.3" y2="623.3" stroke="#2a2a2a" stroke-width="1.4"/>
<line x1="40.4" x2="40.4" y1="623.3" y2="625.9" stroke="#2a2a2a" stroke-width="1.2"/>
<text x="40.4" y="638.0" text-anchor="middle" font-size="11" class="tk">0</text>
<line x1="75.8" x2="75.8" y1="623.3" y2="625.9" stroke="#2a2a2a" stroke-width="1.2"/>
<text x="75.8" y="638.0" text-anchor="middle" font-size="11" class="tk">5</text>
<line x1="111.3" x2="111.3" y1="623.3" y2="625.9" stroke="#2a2a2a" stroke-width="1.2"/>
<text x="111.3" y="638.0" text-anchor="middle" font-size="11" class="tk">10</text>
<line x1="146.7" x2="146.7" y1="623.3" y2="625.9" stroke="#2a2a2a" stroke-width="1.2"/>
<text x="146.7" y="638.0" text-anchor="middle" font-size="11" class="tk">15</text>
<line x1="182.1" x2="182.1" y1="623.3" y2="625.9" stroke="#2a2a2a" stroke-width="1.2"/>
<text x="182.1" y="638.0" text-anchor="middle" font-size="11" class="tk">20</text>
<line x1="217.6" x2="217.6" y1="623.3" y2="625.9" stroke="#2a2a2a" stroke-width="1.2"/>
<text x="217.6" y="638.0" text-anchor="middle" font-size="11" class="tk">25</text>
<line x1="253.0" x2="253.0" y1="623.3" y2="625.9" stroke="#2a2a2a" stroke-width="1.2"/>
<text x="253.0" y="638.0" text-anchor="middle" font-size="11" class="tk">30</text>
<line x1="288.4" x2="288.4" y1="623.3" y2="625.9" stroke="#2a2a2a" stroke-width="1.2"/>
<text x="288.4" y="638.0" text-anchor="middle" font-size="11" class="tk">35</text>
<line x1="39.7" x2="44.7" y1="498.1" y2="498.1" stroke="#0202d0" stroke-width="3.2"/>
<line x1="45.5" x2="45.5" y1="498.1" y2="545.1" stroke="#0202d0" stroke-width="1.6"/>
<line x1="44.3" x2="47.5" y1="513.8" y2="513.8" stroke="#0202d0" stroke-width="3.0"/>
<line x1="47.3" x2="47.3" y1="513.8" y2="623.3" stroke="#0202d0" stroke-width="1.0"/>
<line x1="49.2" x2="49.2" y1="545.1" y2="623.3" stroke="#0202d0" stroke-width="1.0"/>
<line x1="48.1" x2="48.1" y1="607.7" y2="623.3" stroke="#0202d0" stroke-width="2.8"/>
<circle cx="48.1" cy="607.7" r="1.8" fill="#0202d0"/>
<circle cx="48.1" cy="623.3" r="1.8" fill="#0202d0"/>
<circle cx="45.5" cy="529.4" r="1.5" fill="#0202d0"/>
<circle cx="45.5" cy="545.1" r="1.5" fill="#0202d0"/>
<circle cx="47.3" cy="560.7" r="1.2" fill="#0202d0"/>
<circle cx="49.2" cy="592.0" r="1.2" fill="#0202d0"/>
<line x1="50.0" x2="61.3" y1="529.4" y2="529.4" stroke="#0202d0" stroke-width="2.8"/>
<rect x="50.8" y="529.4" width="9.8" height="15.6" fill="#0202d0" opacity="1.0"/>
<path d="M53.6 530.4V544.1M59.4 530.4V544.1M52.8 530.4V544.1M57.3 530.4V544.1" stroke="#8c92d8" stroke-width="0.8" opacity="0.7" fill="none"/>
<line x1="50.0" x2="54.6" y1="545.1" y2="545.1" stroke="#0202d0" stroke-width="2.0"/>
<line x1="62.0" x2="62.0" y1="529.4" y2="513.8" stroke="#0202d0" stroke-width="2.4"/>
<line x1="60.7" x2="65.9" y1="513.8" y2="513.8" stroke="#0202d0" stroke-width="2.8"/>
<line x1="65.5" x2="65.5" y1="513.8" y2="482.5" stroke="#0202d0" stroke-width="1.6"/>
<line x1="66.8" x2="66.8" y1="513.8" y2="482.5" stroke="#0202d0" stroke-width="1.4"/>
<circle cx="65.9" cy="498.1" r="1.7" fill="#0202d0"/>
<circle cx="65.9" cy="513.8" r="1.5" fill="#0202d0"/>
<line x1="65.2" x2="68.7" y1="482.5" y2="482.5" stroke="#0202d0" stroke-width="2.4"/>
<line x1="67.9" x2="67.9" y1="482.5" y2="466.8" stroke="#0202d0" stroke-width="2.4"/>
<line x1="67.9" x2="128.7" y1="466.8" y2="466.8" stroke="#0202d0" stroke-width="3.0"/>
<rect x="68.5" y="466.8" width="10.8" height="15.6" fill="#0202d0" opacity="1.0"/>
<path d="M73.6 467.8V481.5M72.8 467.8V481.5M70.8 467.8V481.5" stroke="#8c92d8" stroke-width="0.8" opacity="0.7" fill="none"/>
<path d="M83.1 466.8V482.5M84.2 466.8V482.5M87.0 466.8V482.5M89.4 466.8V482.5M91.5 466.8V482.5M92.7 466.8V482.5M92.9 466.8V482.5M94.7 466.8V482.5M98.4 466.8V482.5M98.6 466.8V482.5" stroke="#0202d0" stroke-width="1.0" fill="none" opacity="1"/>
<rect x="102.8" y="466.8" width="12.8" height="15.6" fill="#0202d0" opacity="1.0"/>
<path d="M110.0 467.8V481.5M105.9 467.8V481.5M114.1 467.8V481.5" stroke="#8c92d8" stroke-width="0.8" opacity="0.7" fill="none"/>
<path d="M117.9 466.8V482.5M121.5 466.8V482.5M121.6 466.8V482.5M122.2 466.8V482.5M122.9 466.8V482.5M123.3 466.8V482.5M127.7 466.8V482.5" stroke="#0202d0" stroke-width="1.0" fill="none" opacity="1"/>
<line x1="84.3" x2="84.3" y1="482.5" y2="498.1" stroke="#0202d0" stroke-width="1.0"/>
<circle cx="84.3" cy="498.1" r="1.5" fill="#0202d0"/>
<line x1="119.1" x2="119.1" y1="466.8" y2="513.8" stroke="#0202d0" stroke-width="1.0"/>
<line x1="120.5" x2="120.5" y1="466.8" y2="498.1" stroke="#0202d0" stroke-width="1.0"/>
<circle cx="119.1" cy="498.1" r="1.5" fill="#0202d0"/>
<circle cx="120.5" cy="498.1" r="1.4" fill="#0202d0"/>
<circle cx="119.1" cy="513.8" r="1.4" fill="#0202d0"/>
<line x1="125.4" x2="125.4" y1="482.5" y2="498.1" stroke="#0202d0" stroke-width="1.0"/>
<circle cx="125.4" cy="498.1" r="1.4" fill="#0202d0"/>
<line x1="68.7" x2="151.8" y1="482.5" y2="482.5" stroke="#0202d0" stroke-width="2.6"/>
<path d="M129.8 482.5V513.8M131.1 482.5V513.8M131.1 482.5V513.8M132.3 482.5V513.8M133.3 482.5V513.8M134.0 482.5V513.8M134.3 482.5V513.8M135.1 482.5V513.8M135.5 482.5V513.8M136.1 482.5V513.8M136.1 482.5V513.8M136.2 482.5V513.8M136.4 482.5V513.8M137.6 482.5V513.8" stroke="#0202d0" stroke-width="1.0" fill="none" opacity="1"/>
<rect x="135.6" y="482.5" width="13.5" height="15.6" fill="#0202d0" opacity="1.0"/>
<path d="M139.5 483.5V497.1M144.4 483.5V497.1M144.4 483.5V497.1M146.3 483.5V497.1" stroke="#8c92d8" stroke-width="0.8" opacity="0.7" fill="none"/>
<path d="M149.4 482.5V498.1M150.1 482.5V498.1M150.2 482.5V498.1M150.5 482.5V498.1M151.9 482.5V498.1" stroke="#0202d0" stroke-width="1.0" fill="none" opacity="1"/>
<rect x="139.4" y="498.1" width="18.1" height="15.6" fill="#0202d0" opacity="1.0"/>
<path d="M142.1 499.1V512.8M151.7 499.1V512.8M150.9 499.1V512.8M155.6 499.1V512.8M144.8 499.1V512.8" stroke="#8c92d8" stroke-width="0.8" opacity="0.7" fill="none"/>
<line x1="135.4" x2="166.1" y1="498.1" y2="498.1" stroke="#0202d0" stroke-width="2.4"/>
<path d="M157.6 498.1V513.8M157.7 498.1V513.8M158.9 498.1V513.8M163.4 498.1V513.8M163.8 498.1V513.8M164.9 498.1V513.8M165.1 498.1V513.8M165.8 498.1V513.8M166.0 498.1V513.8M166.1 498.1V513.8" stroke="#0202d0" stroke-width="1.0" fill="none" opacity="1"/>
<line x1="131.8" x2="217.2" y1="513.8" y2="513.8" stroke="#0202d0" stroke-width="3.0"/>
<line x1="216.1" x2="216.1" y1="513.8" y2="529.4" stroke="#0202d0" stroke-width="1.2"/>
<line x1="219.0" x2="219.0" y1="513.8" y2="560.7" stroke="#0202d0" stroke-width="2.8"/>
<line x1="217.6" x2="224.6" y1="545.1" y2="545.1" stroke="#0202d0" stroke-width="2.6"/>
<line x1="219.0" x2="289.1" y1="560.7" y2="560.7" stroke="#0202d0" stroke-width="3.0"/>
<line x1="228.2" x2="289.1" y1="545.1" y2="545.1" stroke="#0202d0" stroke-width="2.6"/>
<rect x="220.4" y="545.1" width="4.3" height="15.6" fill="#0202d0" opacity="1.0"/>
<path d="M228.6 545.1V560.7M229.2 545.1V560.7M229.6 545.1V560.7M230.1 545.1V560.7M230.7 545.1V560.7M231.8 545.1V560.7M232.5 545.1V560.7M233.1 545.1V560.7M233.4 545.1V560.7M233.6 545.1V560.7M234.7 545.1V560.7M235.0 545.1V560.7M236.2 545.1V560.7M236.7 545.1V560.7M237.1 545.1V560.7M237.4 545.1V560.7M237.7 545.1V560.7M239.0 545.1V560.7M239.4 545.1V560.7M240.2 545.1V560.7M240.2 545.1V560.7M240.9 545.1V560.7M241.2 545.1V560.7M241.9 545.1V560.7M242.0 545.1V560.7M242.6 545.1V560.7M243.1 545.1V560.7M243.2 545.1V560.7M244.2 545.1V560.7M244.3 545.1V560.7M244.4 545.1V560.7M244.5 545.1V560.7M245.1 545.1V560.7M245.2 545.1V560.7" stroke="#0202d0" stroke-width="1.0" fill="none" opacity="1"/>
<path d="M252.6 545.1V560.7M253.9 545.1V560.7M254.5 545.1V560.7M255.1 545.1V560.7" stroke="#0202d0" stroke-width="1.0" fill="none" opacity="1"/>
<path d="M258.1 545.1V560.7M260.4 545.1V560.7M260.7 545.1V560.7M261.1 545.1V560.7M261.5 545.1V560.7M262.5 545.1V560.7M262.6 545.1V560.7M262.7 545.1V560.7M262.9 545.1V560.7M263.6 545.1V560.7M264.1 545.1V560.7M264.2 545.1V560.7M264.4 545.1V560.7M264.7 545.1V560.7M264.8 545.1V560.7M265.3 545.1V560.7M265.3 545.1V560.7M265.9 545.1V560.7M266.2 545.1V560.7M267.3 545.1V560.7M267.4 545.1V560.7M268.1 545.1V560.7M268.4 545.1V560.7M268.5 545.1V560.7M270.6 545.1V560.7M271.6 545.1V560.7M272.2 545.1V560.7M272.8 545.1V560.7M272.9 545.1V560.7M272.9 545.1V560.7M273.2 545.1V560.7M273.3 545.1V560.7M274.4 545.1V560.7M274.6 545.1V560.7M274.7 545.1V560.7M274.9 545.1V560.7M274.9 545.1V560.7M275.9 545.1V560.7M276.3 545.1V560.7M276.4 545.1V560.7M276.6 545.1V560.7M277.6 545.1V560.7M278.2 545.1V560.7M278.6 545.1V560.7M279.0 545.1V560.7M279.1 545.1V560.7M279.3 545.1V560.7M279.3 545.1V560.7M279.5 545.1V560.7M279.9 545.1V560.7M280.6 545.1V560.7M280.9 545.1V560.7M282.5 545.1V560.7M283.2 545.1V560.7M283.6 545.1V560.7M283.7 545.1V560.7M284.0 545.1V560.7M284.9 545.1V560.7M285.2 545.1V560.7M286.7 545.1V560.7M287.4 545.1V560.7M288.4 545.1V560.7" stroke="#0202d0" stroke-width="1.0" fill="none" opacity="1"/>
<line x1="250.1" x2="250.1" y1="545.1" y2="576.4" stroke="#0202d0" stroke-width="1.1"/>
<circle cx="250.1" cy="576.4" r="1.4" fill="#0202d0"/>
<line x1="254.4" x2="262.9" y1="529.4" y2="529.4" stroke="#0202d0" stroke-width="2.6"/>
<path d="M255.7 529.4V545.1M256.6 529.4V545.1M256.9 529.4V545.1M257.7 529.4V545.1M258.7 529.4V545.1M258.8 529.4V545.1M260.2 529.4V545.1M261.1 529.4V545.1M262.9 529.4V545.1" stroke="#0202d0" stroke-width="1.0" fill="none" opacity="1"/>
<line x1="267.6" x2="267.6" y1="529.4" y2="545.1" stroke="#0202d0" stroke-width="1.1"/>
<text x="44.3" y="465.0" font-size="15.7" font-weight="bold">C</text>
<text transform="translate(11.2,639.0) rotate(-90)" font-size="12.82" font-weight="bold">number of internal lock masses</text>
<text x="168.6" y="652.1" text-anchor="middle" font-size="12.9" font-weight="bold">minutes</text>
<rect x="356.5" y="451.2" width="249.8" height="172.1" fill="#b6c6c5"/>
<path d="M356.5 451.2H606.3V623.3H356.5" fill="none" stroke="#6f7676" stroke-width="1.3"/>
<line x1="356.5" x2="606.3" y1="607.7" y2="607.7" stroke="#262626" stroke-width="1.5"/>
<line x1="356.5" x2="606.3" y1="592.0" y2="592.0" stroke="#262626" stroke-width="1.5"/>
<line x1="356.5" x2="606.3" y1="576.4" y2="576.4" stroke="#262626" stroke-width="1.5"/>
<line x1="356.5" x2="606.3" y1="560.7" y2="560.7" stroke="#262626" stroke-width="1.5"/>
<line x1="356.5" x2="606.3" y1="545.1" y2="545.1" stroke="#262626" stroke-width="1.5"/>
<line x1="356.5" x2="606.3" y1="529.4" y2="529.4" stroke="#262626" stroke-width="1.5"/>
<line x1="356.5" x2="606.3" y1="513.8" y2="513.8" stroke="#262626" stroke-width="1.5"/>
<line x1="356.5" x2="606.3" y1="498.1" y2="498.1" stroke="#262626" stroke-width="1.5"/>
<line x1="356.5" x2="606.3" y1="482.5" y2="482.5" stroke="#262626" stroke-width="1.5"/>
<line x1="356.5" x2="606.3" y1="466.8" y2="466.8" stroke="#262626" stroke-width="1.5"/>
<line x1="356.5" x2="356.5" y1="450.6" y2="623.9" stroke="#2a2a2a" stroke-width="1.4"/>
<line x1="353.5" x2="356.5" y1="623.3" y2="623.3" stroke="#2a2a2a" stroke-width="1.2"/>
<text x="349.6" y="627.2" text-anchor="end" font-size="11" class="tk">0</text>
<line x1="353.5" x2="356.5" y1="607.7" y2="607.7" stroke="#2a2a2a" stroke-width="1.2"/>
<text x="349.6" y="611.6" text-anchor="end" font-size="11" class="tk">1</text>
<line x1="353.5" x2="356.5" y1="592.0" y2="592.0" stroke="#2a2a2a" stroke-width="1.2"/>
<text x="349.6" y="595.9" text-anchor="end" font-size="11" class="tk">2</text>
<line x1="353.5" x2="356.5" y1="576.4" y2="576.4" stroke="#2a2a2a" stroke-width="1.2"/>
<text x="349.6" y="580.3" text-anchor="end" font-size="11" class="tk">3</text>
<line x1="353.5" x2="356.5" y1="560.7" y2="560.7" stroke="#2a2a2a" stroke-width="1.2"/>
<text x="349.6" y="564.6" text-anchor="end" font-size="11" class="tk">4</text>
<line x1="353.5" x2="356.5" y1="545.1" y2="545.1" stroke="#2a2a2a" stroke-width="1.2"/>
<text x="349.6" y="549.0" text-anchor="end" font-size="11" class="tk">5</text>
<line x1="353.5" x2="356.5" y1="529.4" y2="529.4" stroke="#2a2a2a" stroke-width="1.2"/>
<text x="349.6" y="533.3" text-anchor="end" font-size="11" class="tk">6</text>
<line x1="353.5" x2="356.5" y1="513.8" y2="513.8" stroke="#2a2a2a" stroke-width="1.2"/>
<text x="349.6" y="517.7" text-anchor="end" font-size="11" class="tk">7</text>
<line x1="353.5" x2="356.5" y1="498.1" y2="498.1" stroke="#2a2a2a" stroke-width="1.2"/>
<text x="349.6" y="502.0" text-anchor="end" font-size="11" class="tk">8</text>
<line x1="353.5" x2="356.5" y1="482.5" y2="482.5" stroke="#2a2a2a" stroke-width="1.2"/>
<text x="349.6" y="486.4" text-anchor="end" font-size="11" class="tk">9</text>
<line x1="353.5" x2="356.5" y1="466.8" y2="466.8" stroke="#2a2a2a" stroke-width="1.2"/>
<text x="349.6" y="470.7" text-anchor="end" font-size="11" class="tk">10</text>
<line x1="353.5" x2="356.5" y1="451.2" y2="451.2" stroke="#2a2a2a" stroke-width="1.2"/>
<text x="349.6" y="455.1" text-anchor="end" font-size="11" class="tk">11</text>
<line x1="355.9" x2="606.3" y1="623.3" y2="623.3" stroke="#2a2a2a" stroke-width="1.4"/>
<line x1="356.9" x2="356.9" y1="623.3" y2="625.9" stroke="#2a2a2a" stroke-width="1.2"/>
<text x="356.9" y="638.0" text-anchor="middle" font-size="11" class="tk">0</text>
<line x1="391.6" x2="391.6" y1="623.3" y2="625.9" stroke="#2a2a2a" stroke-width="1.2"/>
<text x="391.6" y="638.0" text-anchor="middle" font-size="11" class="tk">5</text>
<line x1="426.3" x2="426.3" y1="623.3" y2="625.9" stroke="#2a2a2a" stroke-width="1.2"/>
<text x="426.3" y="638.0" text-anchor="middle" font-size="11" class="tk">10</text>
<line x1="461.0" x2="461.0" y1="623.3" y2="625.9" stroke="#2a2a2a" stroke-width="1.2"/>
<text x="461.0" y="638.0" text-anchor="middle" font-size="11" class="tk">15</text>
<line x1="495.7" x2="495.7" y1="623.3" y2="625.9" stroke="#2a2a2a" stroke-width="1.2"/>
<text x="495.7" y="638.0" text-anchor="middle" font-size="11" class="tk">20</text>
<line x1="530.4" x2="530.4" y1="623.3" y2="625.9" stroke="#2a2a2a" stroke-width="1.2"/>
<text x="530.4" y="638.0" text-anchor="middle" font-size="11" class="tk">25</text>
<line x1="565.1" x2="565.1" y1="623.3" y2="625.9" stroke="#2a2a2a" stroke-width="1.2"/>
<text x="565.1" y="638.0" text-anchor="middle" font-size="11" class="tk">30</text>
<line x1="599.8" x2="599.8" y1="623.3" y2="625.9" stroke="#2a2a2a" stroke-width="1.2"/>
<text x="599.8" y="638.0" text-anchor="middle" font-size="11" class="tk">35</text>
<line x1="356.2" x2="395.4" y1="498.1" y2="498.1" stroke="#0202d0" stroke-width="3.0"/>
<line x1="398.0" x2="406.0" y1="498.1" y2="498.1" stroke="#0202d0" stroke-width="2.6"/>
<rect x="364.7" y="498.1" width="13.3" height="15.6" fill="#0202d0" opacity="1.0"/>
<path d="M375.9 499.1V512.8M373.4 499.1V512.8M374.4 499.1V512.8M375.9 499.1V512.8" stroke="#8c92d8" stroke-width="0.8" opacity="0.7" fill="none"/>
<line x1="364.7" x2="378.0" y1="513.8" y2="513.8" stroke="#0202d0" stroke-width="2.4"/>
<line x1="362.0" x2="362.0" y1="498.1" y2="545.1" stroke="#0202d0" stroke-width="1.2"/>
<circle cx="362.0" cy="529.4" r="1.6" fill="#0202d0"/>
<circle cx="362.0" cy="545.1" r="1.6" fill="#0202d0"/>
<path d="M382.9 498.1V513.8M383.6 498.1V513.8M383.9 498.1V513.8M387.5 498.1V513.8M387.9 498.1V513.8M388.0 498.1V513.8M389.8 498.1V513.8M390.5 498.1V513.8M392.0 498.1V513.8M392.3 498.1V513.8" stroke="#0202d0" stroke-width="1.0" fill="none" opacity="1"/>
<line x1="390.0" x2="390.0" y1="498.1" y2="545.1" stroke="#0202d0" stroke-width="1.0"/>
<circle cx="390.0" cy="545.1" r="1.5" fill="#0202d0"/>
<path d="M395.3 498.1V529.4M396.4 498.1V529.4M396.6 498.1V529.4M397.1 498.1V529.4M398.9 498.1V529.4M402.3 498.1V529.4M404.9 498.1V529.4M405.7 498.1V529.4M406.2 498.1V529.4" stroke="#0202d0" stroke-width="1.0" fill="none" opacity="1"/>
<line x1="387.4" x2="408.9" y1="513.8" y2="513.8" stroke="#0202d0" stroke-width="2.4"/>
<path d="M392.5 513.8V529.4M394.8 513.8V529.4M395.0 513.8V529.4M395.6 513.8V529.4M396.8 513.8V529.4M403.6 513.8V529.4M404.6 513.8V529.4" stroke="#0202d0" stroke-width="1.0" fill="none" opacity="1"/>
<line x1="431.9" x2="431.9" y1="545.1" y2="529.4" stroke="#0202d0" stroke-width="1.0"/>
<line x1="442.3" x2="442.3" y1="545.1" y2="529.4" stroke="#0202d0" stroke-width="1.0"/>
<line x1="444.3" x2="444.3" y1="545.1" y2="529.4" stroke="#0202d0" stroke-width="1.0"/>
<line x1="405.5" x2="419.4" y1="529.4" y2="529.4" stroke="#0202d0" stroke-width="2.6"/>
<path d="M406.5 529.4V560.7M407.3 529.4V560.7M407.3 529.4V560.7M407.9 529.4V560.7M408.7 529.4V560.7M409.1 529.4V560.7M411.8 529.4V560.7M412.0 529.4V560.7M412.2 529.4V560.7M413.2 529.4V560.7M414.0 529.4V560.7M417.9 529.4V560.7M418.4 529.4V560.7M418.7 529.4V560.7" stroke="#0202d0" stroke-width="1.0" fill="none" opacity="1"/>
<line x1="406.2" x2="461.0" y1="545.1" y2="545.1" stroke="#0202d0" stroke-width="2.6"/>
<rect x="411.4" y="545.1" width="49.4" height="15.6" fill="#0202d0" opacity="1.0"/>
<path d="M446.2 546.1V559.7M452.2 546.1V559.7M421.0 546.1V559.7M459.7 546.1V559.7M421.6 546.1V559.7M444.2 546.1V559.7M416.7 546.1V559.7M448.3 546.1V559.7M419.6 546.1V559.7M445.9 546.1V559.7M446.7 546.1V559.7M448.7 546.1V559.7M433.3 546.1V559.7M453.4 546.1V559.7" stroke="#8c92d8" stroke-width="0.8" opacity="0.7" fill="none"/>
<path d="M414.5 560.7V576.4M414.6 560.7V576.4M414.9 560.7V576.4M415.3 560.7V576.4M415.6 560.7V576.4M415.9 560.7V576.4M416.9 560.7V576.4M417.2 560.7V576.4M417.4 560.7V576.4M418.3 560.7V576.4M418.5 560.7V576.4M418.6 560.7V576.4M419.4 560.7V576.4M420.0 560.7V576.4M420.3 560.7V576.4M420.5 560.7V576.4M420.9 560.7V576.4M421.3 560.7V576.4M422.4 560.7V576.4M422.7 560.7V576.4M422.7 560.7V576.4M422.7 560.7V576.4M424.3 560.7V576.4M425.5 560.7V576.4M426.6 560.7V576.4M428.6 560.7V576.4M429.0 560.7V576.4M429.7 560.7V576.4M429.8 560.7V576.4M431.2 560.7V576.4M431.5 560.7V576.4M431.9 560.7V576.4M432.0 560.7V576.4M432.5 560.7V576.4M433.5 560.7V576.4M433.6 560.7V576.4M434.0 560.7V576.4M434.4 560.7V576.4M434.6 560.7V576.4M435.1 560.7V576.4M435.6 560.7V576.4M436.0 560.7V576.4M436.1 560.7V576.4M438.1 560.7V576.4M438.3 560.7V576.4M438.6 560.7V576.4M439.1 560.7V576.4M439.4 560.7V576.4M440.7 560.7V576.4M441.1 560.7V576.4M441.2 560.7V576.4M441.6 560.7V576.4M441.6 560.7V576.4M443.8 560.7V576.4M443.9 560.7V576.4M447.0 560.7V576.4M448.8 560.7V576.4M449.7 560.7V576.4M449.7 560.7V576.4M449.8 560.7V576.4M450.1 560.7V576.4M450.5 560.7V576.4M451.0 560.7V576.4M452.3 560.7V576.4M452.4 560.7V576.4M452.7 560.7V576.4M454.8 560.7V576.4M455.8 560.7V576.4M456.0 560.7V576.4M456.9 560.7V576.4" stroke="#0202d0" stroke-width="1.0" fill="none" opacity="1"/>
<rect x="419.4" y="560.7" width="11.8" height="15.6" fill="#0202d0" opacity="1.0"/>
<path d="M424.7 561.7V575.4M424.1 561.7V575.4M426.0 561.7V575.4M424.8 561.7V575.4M424.4 561.7V575.4" stroke="#8c92d8" stroke-width="0.8" opacity="0.7" fill="none"/>
<rect x="439.5" y="560.7" width="9.3" height="15.6" fill="#0202d0" opacity="1.0"/>
<path d="M446.2 561.7V575.4M440.6 561.7V575.4M445.5 561.7V575.4M444.4 561.7V575.4" stroke="#8c92d8" stroke-width="0.8" opacity="0.7" fill="none"/>
<line x1="412.7" x2="458.1" y1="576.4" y2="576.4" stroke="#0202d0" stroke-width="2.2"/>
<path d="M413.1 576.4V592.0M414.0 576.4V592.0" stroke="#0202d0" stroke-width="1.0" fill="none" opacity="1"/>
<path d="M419.8 576.4V592.0M420.8 576.4V592.0M421.4 576.4V592.0M421.6 576.4V592.0M422.2 576.4V592.0M422.4 576.4V592.0M422.5 576.4V592.0M424.5 576.4V592.0M424.9 576.4V592.0M426.4 576.4V592.0M428.4 576.4V592.0M428.7 576.4V592.0M429.1 576.4V592.0M431.1 576.4V592.0" stroke="#0202d0" stroke-width="1.0" fill="none" opacity="1"/>
<path d="M439.5 576.4V592.0M441.1 576.4V592.0M441.6 576.4V592.0M442.4 576.4V592.0M442.4 576.4V592.0M442.6 576.4V592.0M442.9 576.4V592.0M443.8 576.4V592.0M444.5 576.4V592.0M444.8 576.4V592.0M446.9 576.4V592.0M448.2 576.4V592.0" stroke="#0202d0" stroke-width="1.0" fill="none" opacity="1"/>
<line x1="419.4" x2="431.2" y1="592.0" y2="592.0" stroke="#0202d0" stroke-width="2.0"/>
<line x1="439.5" x2="448.8" y1="592.0" y2="592.0" stroke="#0202d0" stroke-width="2.0"/>
<line x1="442.1" x2="442.1" y1="592.0" y2="623.3" stroke="#0202d0" stroke-width="1.2"/>
<line x1="456.8" x2="456.8" y1="576.4" y2="623.3" stroke="#0202d0" stroke-width="1.6"/>
<circle cx="456.8" cy="607.7" r="1.9" fill="#0202d0"/>
<circle cx="456.8" cy="592.0" r="1.5" fill="#0202d0"/>
<circle cx="442.1" cy="623.3" r="1.4" fill="#0202d0"/>
<circle cx="456.8" cy="623.3" r="1.4" fill="#0202d0"/>
<line x1="450.1" x2="530.4" y1="529.4" y2="529.4" stroke="#0202d0" stroke-width="2.6"/>
<rect x="450.1" y="529.4" width="26.9" height="15.6" fill="#0202d0" opacity="1.0"/>
<path d="M467.2 530.4V544.1M468.5 530.4V544.1M474.9 530.4V544.1M456.0 530.4V544.1M452.7 530.4V544.1M471.6 530.4V544.1M459.4 530.4V544.1M460.4 530.4V544.1" stroke="#8c92d8" stroke-width="0.8" opacity="0.7" fill="none"/>
<path d="M478.4 529.4V545.1M483.6 529.4V545.1M483.9 529.4V545.1M486.0 529.4V545.1M487.3 529.4V545.1M489.5 529.4V545.1M489.6 529.4V545.1M492.6 529.4V545.1" stroke="#0202d0" stroke-width="1.0" fill="none" opacity="1"/>
<line x1="454.1" x2="454.1" y1="529.4" y2="513.8" stroke="#0202d0" stroke-width="1.0"/>
<line x1="462.1" x2="462.1" y1="529.4" y2="513.8" stroke="#0202d0" stroke-width="1.0"/>
<line x1="474.2" x2="474.2" y1="529.4" y2="513.8" stroke="#0202d0" stroke-width="1.0"/>
<line x1="479.0" x2="530.4" y1="513.8" y2="513.8" stroke="#0202d0" stroke-width="2.8"/>
<rect x="479.7" y="513.8" width="50.7" height="15.6" fill="#0202d0" opacity="1.0"/>
<path d="M507.4 514.8V528.4M497.6 514.8V528.4M521.9 514.8V528.4M494.8 514.8V528.4M505.6 514.8V528.4M497.5 514.8V528.4M501.0 514.8V528.4M528.1 514.8V528.4M485.8 514.8V528.4M502.4 514.8V528.4M491.7 514.8V528.4M497.7 514.8V528.4M529.3 514.8V528.4M496.8 514.8V528.4" stroke="#8c92d8" stroke-width="0.8" opacity="0.7" fill="none"/>
<line x1="530.4" x2="530.4" y1="513.8" y2="560.7" stroke="#0202d0" stroke-width="2.8"/>
<line x1="533.2" x2="533.2" y1="529.4" y2="560.7" stroke="#0202d0" stroke-width="1.6"/>
<line x1="530.4" x2="550.5" y1="560.7" y2="560.7" stroke="#0202d0" stroke-width="2.8"/>
<rect x="531.8" y="545.1" width="18.7" height="15.6" fill="#0202d0" opacity="1.0"/>
<path d="M533.0 546.1V559.7M534.7 546.1V559.7M539.4 546.1V559.7M544.2 546.1V559.7M535.1 546.1V559.7" stroke="#8c92d8" stroke-width="0.8" opacity="0.7" fill="none"/>
<line x1="540.8" x2="600.3" y1="545.1" y2="545.1" stroke="#0202d0" stroke-width="3.0"/>
<line x1="567.2" x2="567.2" y1="545.1" y2="529.4" stroke="#0202d0" stroke-width="1.2"/>
<circle cx="567.2" cy="529.4" r="1.9" fill="#0202d0"/>
<text x="361.3" y="464.9" font-size="15.7" font-weight="bold">F</text>
<text transform="translate(328.9,639.0) rotate(-90)" font-size="12.82" font-weight="bold">number of internal lock masses</text>
<text x="486.0" y="652.4" text-anchor="middle" font-size="12.9" font-weight="bold">minutes</text>
</svg></body></html>
